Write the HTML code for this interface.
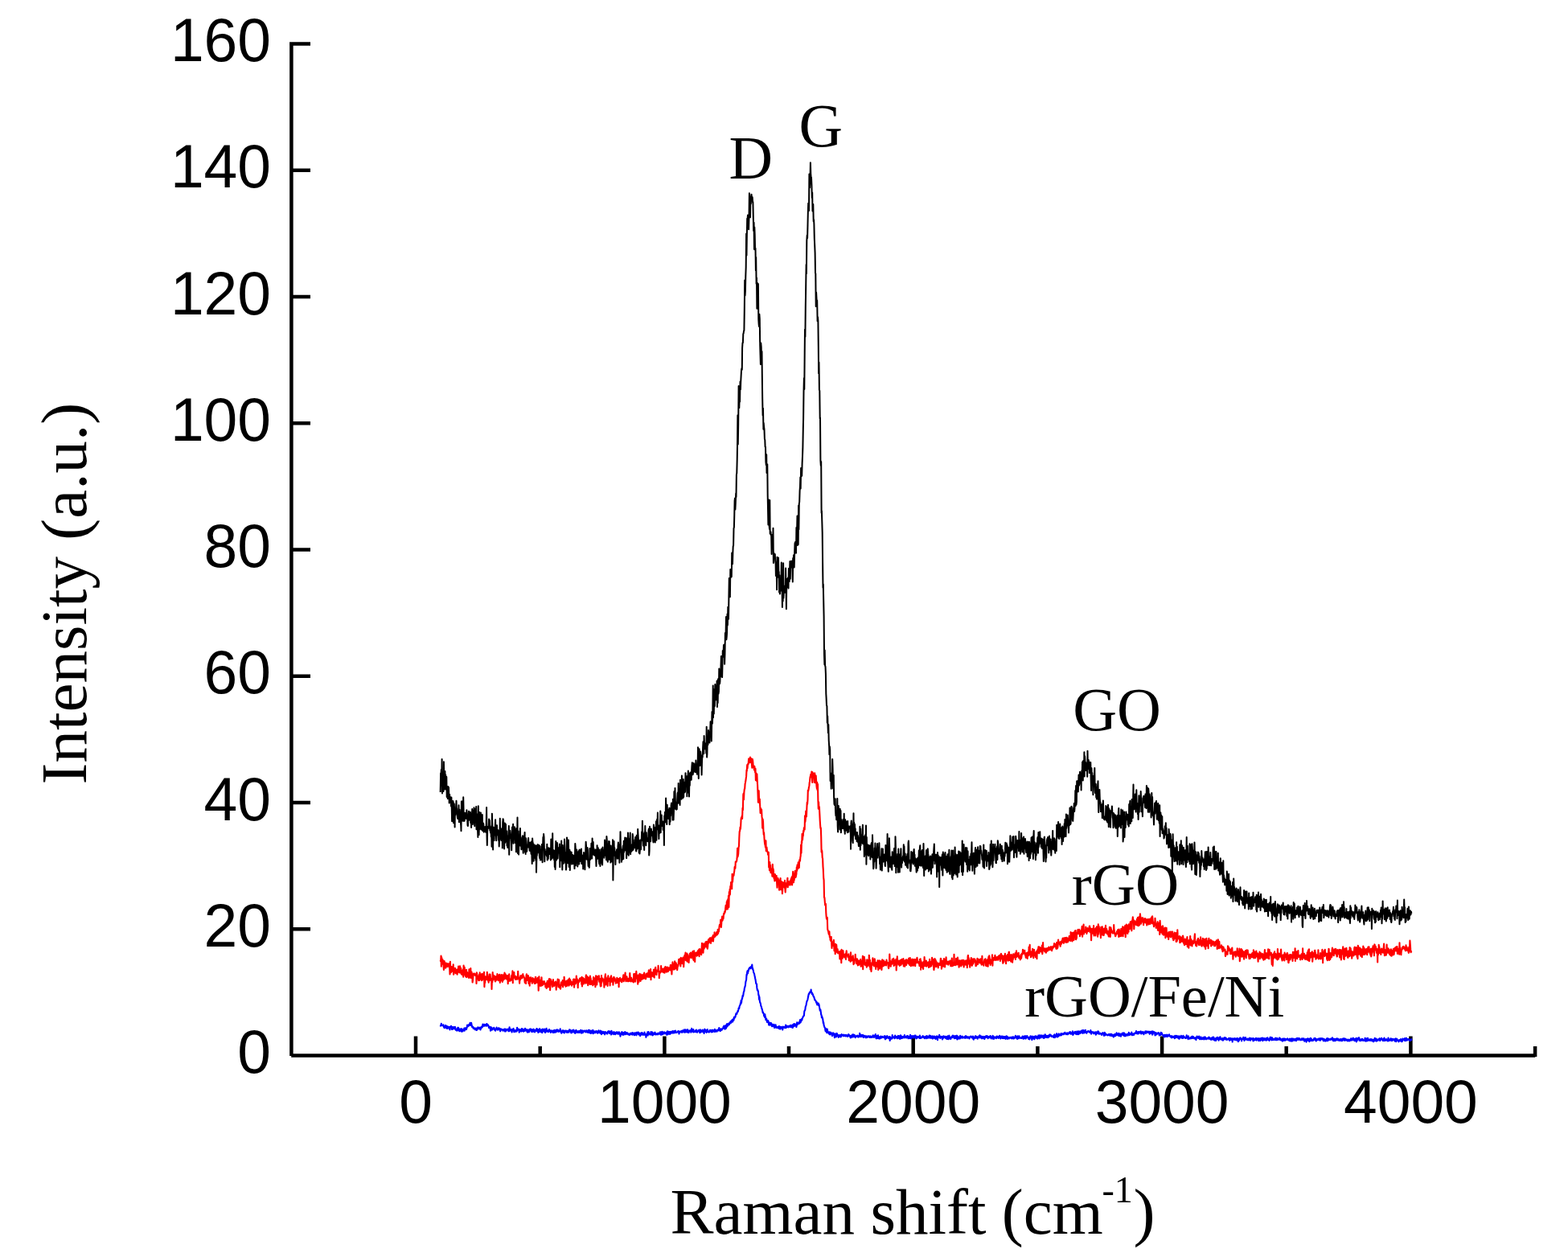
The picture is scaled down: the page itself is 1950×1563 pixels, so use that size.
<!DOCTYPE html>
<html lang="en"><head><meta charset="utf-8"><title>Raman spectra</title>
<style>html,body{margin:0;padding:0;background:#fff;overflow:hidden;}svg{display:block;}.t{font-family:"Liberation Sans",sans-serif;font-size:75px;fill:#000;}.s{font-family:"Liberation Serif",serif;fill:#000;}.c{fill:none;stroke-linejoin:round;stroke-linecap:butt;}.a{stroke:#000;fill:none;stroke-linecap:butt;}</style></head><body>
<svg width="1950" height="1563" viewBox="0 0 1950 1563" role="img" aria-label="Raman spectra of GO, rGO and rGO/Fe/Ni">
<rect width="1950" height="1563" fill="#fff"/>
<path class="a" stroke-width="4.5" d="M362.4,53.8V1312.9M362.2,1312.5H1909.3M362.4,1155.2H386.0M362.4,998.0H386.0M362.4,840.7H386.0M362.4,683.5H386.0M362.4,526.2H386.0M362.4,368.9H386.0M362.4,211.7H386.0M360.1,54.4H386.0M517.0,1312.5V1288.5M671.7,1312.5V1301.0M826.4,1312.5V1288.5M981.0,1312.5V1301.0M1135.7,1312.5V1288.5M1290.4,1312.5V1301.0M1445.1,1312.5V1288.5M1599.7,1312.5V1301.0M1754.4,1312.5V1288.5M1909.1,1314.0V1301.0"/>
<polyline class="c" stroke="#000" stroke-width="2.00" points="547.7,985.0 548.1,961.6 548.5,962.5 548.8,956.9 549.2,977.1 549.6,944.1 550.0,986.5 550.4,960.4 550.7,971.8 551.1,965.9 551.5,983.9 551.9,947.3 552.3,965.6 552.6,965.2 553.0,981.5 553.4,959.0 553.8,969.7 554.2,963.6 554.5,974.6 554.9,981.8 555.3,965.9 555.7,990.9 556.1,990.0 556.4,987.4 556.8,993.1 557.2,978.1 557.6,985.7 558.0,979.1 558.3,988.0 558.7,998.4 559.1,987.7 559.5,992.7 559.9,991.5 560.2,991.4 560.6,994.5 561.0,1002.4 561.4,991.5 561.8,1006.0 562.1,1021.2 562.5,1012.1 562.9,1002.7 563.3,995.9 563.7,997.6 564.0,1023.2 564.4,1006.5 564.8,999.6 565.2,1008.4 565.6,1028.4 565.9,1008.1 566.3,1013.4 566.7,1010.3 567.1,1003.8 567.5,995.8 567.8,1004.2 568.2,1005.8 568.6,1014.2 569.0,1017.0 569.4,1018.1 569.7,1011.6 570.1,1018.0 570.5,1001.3 570.9,1022.2 571.3,1014.8 571.6,1006.7 572.0,1015.0 572.4,1009.4 572.8,1022.0 573.2,1026.2 573.5,1033.2 573.9,996.6 574.3,996.3 574.7,1006.1 575.1,1013.2 575.4,1020.7 575.8,1015.1 576.2,991.3 576.6,1009.1 577.0,1020.9 577.3,1015.0 577.7,1020.6 578.1,1010.7 578.5,1011.1 578.9,1015.3 579.2,1017.7 579.6,1015.7 580.0,1015.1 580.4,1007.2 580.8,1018.1 581.1,1015.6 581.5,1026.1 581.9,1027.0 582.3,1016.8 582.7,1011.2 583.0,1008.7 583.4,1019.7 583.8,1016.3 584.2,1012.2 584.6,1016.3 584.9,1009.7 585.3,1023.3 585.7,1011.8 586.1,1029.0 586.5,1020.8 586.8,1022.9 587.2,1005.9 587.6,1018.9 588.0,1024.9 588.4,1007.9 588.7,1015.1 589.1,1018.3 589.5,1004.2 589.9,1021.6 590.3,1027.2 590.6,1010.0 591.0,1022.5 591.4,1005.8 591.8,1019.0 592.2,1003.1 592.5,1031.2 592.9,1024.2 593.3,1020.0 593.7,1012.6 594.1,1033.6 594.4,1040.9 594.8,1002.2 595.2,1033.9 595.6,1038.1 596.0,1025.2 596.3,1009.9 596.7,1031.0 597.1,1020.7 597.5,1016.6 597.9,1010.5 598.2,1028.9 598.6,1031.6 599.0,1017.5 599.4,1029.4 599.8,1012.9 600.1,1032.9 600.5,1025.6 600.9,1023.5 601.3,1024.7 601.7,1034.8 602.0,1033.9 602.4,1032.0 602.8,1028.3 603.2,1028.0 603.6,1033.7 603.9,1030.1 604.3,1034.9 604.7,1025.1 605.1,1003.9 605.5,1039.2 605.8,1050.9 606.2,1033.5 606.6,1028.2 607.0,1028.0 607.4,1028.3 607.7,1029.8 608.1,1018.5 608.5,1024.7 608.9,1020.0 609.3,1032.7 609.6,1027.3 610.0,1035.4 610.4,1028.7 610.8,1040.5 611.2,1032.9 611.5,1052.8 611.9,1011.8 612.3,1024.5 612.7,1040.2 613.1,1056.6 613.4,1028.8 613.8,1031.8 614.2,1029.2 614.6,1044.9 615.0,1028.8 615.3,1038.6 615.7,1028.7 616.1,1019.2 616.5,1035.2 616.9,1037.2 617.2,1045.2 617.6,1031.3 618.0,1026.3 618.4,1038.3 618.8,1035.2 619.1,1035.7 619.5,1032.3 619.9,1044.7 620.3,1037.0 620.7,1052.4 621.0,1044.7 621.4,1040.3 621.8,1017.7 622.2,1040.0 622.6,1038.4 622.9,1042.4 623.3,1044.9 623.7,1030.7 624.1,1043.0 624.5,1029.5 624.8,1054.5 625.2,1022.3 625.6,1018.2 626.0,1019.5 626.4,1027.2 626.7,1025.1 627.1,1055.5 627.5,1033.3 627.9,1023.5 628.3,1047.8 628.6,1031.3 629.0,1025.1 629.4,1045.9 629.8,1043.6 630.2,1033.5 630.5,1051.6 630.9,1039.3 631.3,1053.9 631.7,1043.2 632.1,1053.6 632.4,1039.7 632.8,1027.0 633.2,1062.7 633.6,1033.9 634.0,1037.4 634.3,1032.7 634.7,1037.6 635.1,1042.0 635.5,1041.8 635.9,1046.3 636.2,1057.3 636.6,1039.1 637.0,1028.6 637.4,1029.2 637.8,1034.3 638.1,1024.8 638.5,1048.8 638.9,1036.3 639.3,1038.2 639.7,1041.3 640.0,1028.2 640.4,1033.4 640.8,1048.1 641.2,1047.7 641.6,1037.8 641.9,1059.2 642.3,1029.9 642.7,1039.1 643.1,1040.4 643.5,1016.4 643.8,1061.1 644.2,1046.4 644.6,1033.4 645.0,1062.6 645.4,1049.0 645.7,1047.7 646.1,1038.2 646.5,1045.0 646.9,1030.0 647.3,1051.8 647.6,1041.1 648.0,1046.0 648.4,1056.2 648.8,1047.9 649.2,1047.9 649.5,1048.3 649.9,1039.2 650.3,1054.0 650.7,1060.8 651.1,1053.8 651.4,1055.3 651.8,1039.4 652.2,1039.8 652.6,1034.9 653.0,1059.7 653.3,1046.4 653.7,1061.9 654.1,1042.3 654.5,1045.8 654.9,1051.0 655.2,1058.8 655.6,1051.3 656.0,1053.0 656.4,1051.6 656.8,1053.4 657.1,1042.0 657.5,1053.2 657.9,1051.1 658.3,1052.5 658.7,1057.8 659.0,1047.5 659.4,1053.2 659.8,1051.5 660.2,1058.2 660.6,1061.8 660.9,1046.4 661.3,1060.5 661.7,1074.0 662.1,1042.4 662.5,1048.3 662.8,1048.0 663.2,1053.6 663.6,1070.8 664.0,1056.5 664.4,1050.3 664.7,1062.2 665.1,1051.4 665.5,1067.0 665.9,1059.8 666.3,1069.6 666.6,1051.3 667.0,1084.7 667.4,1064.9 667.8,1063.5 668.2,1057.3 668.5,1051.3 668.9,1050.1 669.3,1056.8 669.7,1051.0 670.1,1060.8 670.4,1050.9 670.8,1064.0 671.2,1067.1 671.6,1052.3 672.0,1069.4 672.3,1056.6 672.7,1069.3 673.1,1062.9 673.5,1069.1 673.9,1050.1 674.2,1058.2 674.6,1072.3 675.0,1053.8 675.4,1041.1 675.8,1042.0 676.1,1037.0 676.5,1040.6 676.9,1056.0 677.3,1071.3 677.7,1055.9 678.0,1062.8 678.4,1059.0 678.8,1060.1 679.2,1058.6 679.6,1058.6 679.9,1064.4 680.3,1049.7 680.7,1069.5 681.1,1068.7 681.5,1058.7 681.8,1067.8 682.2,1054.3 682.6,1055.8 683.0,1062.1 683.4,1059.0 683.7,1056.8 684.1,1054.8 684.5,1055.9 684.9,1069.4 685.3,1043.5 685.6,1064.2 686.0,1059.0 686.4,1067.7 686.8,1065.8 687.2,1036.2 687.5,1066.5 687.9,1064.2 688.3,1061.6 688.7,1057.2 689.1,1069.1 689.4,1057.8 689.8,1078.1 690.2,1066.7 690.6,1080.9 691.0,1054.6 691.3,1045.9 691.7,1068.2 692.1,1069.5 692.5,1062.2 692.9,1048.0 693.2,1057.9 693.6,1067.5 694.0,1060.4 694.4,1061.0 694.8,1060.5 695.1,1053.7 695.5,1057.4 695.9,1049.4 696.3,1078.2 696.7,1058.0 697.0,1066.7 697.4,1053.2 697.8,1069.6 698.2,1045.6 698.6,1070.8 698.9,1062.2 699.3,1081.6 699.7,1050.9 700.1,1063.4 700.5,1066.0 700.8,1073.8 701.2,1059.0 701.6,1063.6 702.0,1043.6 702.4,1055.4 702.7,1067.0 703.1,1072.9 703.5,1060.5 703.9,1081.6 704.3,1078.9 704.6,1062.6 705.0,1041.4 705.4,1047.2 705.8,1056.2 706.2,1073.3 706.5,1066.1 706.9,1044.5 707.3,1061.3 707.7,1077.9 708.1,1060.0 708.4,1056.7 708.8,1082.0 709.2,1064.0 709.6,1059.2 710.0,1066.7 710.3,1063.8 710.7,1059.8 711.1,1074.6 711.5,1073.8 711.9,1071.3 712.2,1062.9 712.6,1074.1 713.0,1063.4 713.4,1068.1 713.8,1073.2 714.1,1071.2 714.5,1080.1 714.9,1068.1 715.3,1048.9 715.7,1053.7 716.0,1076.3 716.4,1061.2 716.8,1067.7 717.2,1056.6 717.6,1073.3 717.9,1060.8 718.3,1077.5 718.7,1059.6 719.1,1074.5 719.5,1070.5 719.8,1057.9 720.2,1074.4 720.6,1056.4 721.0,1057.1 721.4,1071.0 721.7,1058.9 722.1,1059.2 722.5,1061.5 722.9,1055.6 723.3,1074.0 723.6,1070.1 724.0,1064.0 724.4,1063.6 724.8,1068.7 725.2,1080.5 725.5,1072.4 725.9,1060.0 726.3,1071.5 726.7,1063.4 727.1,1062.7 727.4,1081.2 727.8,1060.6 728.2,1060.0 728.6,1046.7 729.0,1051.6 729.3,1068.2 729.7,1057.8 730.1,1068.7 730.5,1053.9 730.9,1057.0 731.2,1069.9 731.6,1076.9 732.0,1069.0 732.4,1074.3 732.8,1078.8 733.1,1072.8 733.5,1055.0 733.9,1062.3 734.3,1068.8 734.7,1059.3 735.0,1067.0 735.4,1048.7 735.8,1055.3 736.2,1067.5 736.6,1042.5 736.9,1052.6 737.3,1062.3 737.7,1046.9 738.1,1062.8 738.5,1055.1 738.8,1059.6 739.2,1059.8 739.6,1063.8 740.0,1056.9 740.4,1062.8 740.7,1056.5 741.1,1066.8 741.5,1077.0 741.9,1063.5 742.3,1063.2 742.6,1051.2 743.0,1067.8 743.4,1054.7 743.8,1054.2 744.2,1066.5 744.5,1063.0 744.9,1071.3 745.3,1074.3 745.7,1056.4 746.1,1062.4 746.4,1077.0 746.8,1069.8 747.2,1067.5 747.6,1072.8 748.0,1055.5 748.3,1066.7 748.7,1073.6 749.1,1075.4 749.5,1053.5 749.9,1058.5 750.2,1064.2 750.6,1058.1 751.0,1057.1 751.4,1066.7 751.8,1057.3 752.1,1044.4 752.5,1063.7 752.9,1056.5 753.3,1053.7 753.7,1046.2 754.0,1069.3 754.4,1040.1 754.8,1044.8 755.2,1057.6 755.6,1071.0 755.9,1071.7 756.3,1049.5 756.7,1058.2 757.1,1046.1 757.5,1068.8 757.8,1046.3 758.2,1058.3 758.6,1068.8 759.0,1057.4 759.4,1072.6 759.7,1051.5 760.1,1062.6 760.5,1066.9 760.9,1057.9 761.3,1071.5 761.6,1063.9 762.0,1044.2 762.4,1094.5 762.8,1064.6 763.2,1059.7 763.5,1046.0 763.9,1059.3 764.3,1054.3 764.7,1064.2 765.1,1061.7 765.4,1074.9 765.8,1059.5 766.2,1062.7 766.6,1061.4 767.0,1056.6 767.3,1056.2 767.7,1067.7 768.1,1064.7 768.5,1051.9 768.9,1047.5 769.2,1056.8 769.6,1067.8 770.0,1057.0 770.4,1072.8 770.8,1050.0 771.1,1058.2 771.5,1034.2 771.9,1051.3 772.3,1053.8 772.7,1061.0 773.0,1071.7 773.4,1056.5 773.8,1069.1 774.2,1061.9 774.6,1064.6 774.9,1051.4 775.3,1067.9 775.7,1045.7 776.1,1059.6 776.5,1046.4 776.8,1050.2 777.2,1041.5 777.6,1049.9 778.0,1057.5 778.4,1053.6 778.7,1041.9 779.1,1067.1 779.5,1056.7 779.9,1062.6 780.3,1060.4 780.6,1047.2 781.0,1035.5 781.4,1044.6 781.8,1063.7 782.2,1043.0 782.5,1059.6 782.9,1046.6 783.3,1055.5 783.7,1035.4 784.1,1062.1 784.4,1051.1 784.8,1059.3 785.2,1052.8 785.6,1058.2 786.0,1049.9 786.3,1057.4 786.7,1036.9 787.1,1040.6 787.5,1056.7 787.9,1049.7 788.2,1047.9 788.6,1048.2 789.0,1054.2 789.4,1044.2 789.8,1054.0 790.1,1041.0 790.5,1045.4 790.9,1057.8 791.3,1058.5 791.7,1038.8 792.0,1056.1 792.4,1039.1 792.8,1054.9 793.2,1031.1 793.6,1038.0 793.9,1043.3 794.3,1046.2 794.7,1060.4 795.1,1055.6 795.5,1061.5 795.8,1058.0 796.2,1044.5 796.6,1044.5 797.0,1056.3 797.4,1046.9 797.7,1045.0 798.1,1034.2 798.5,1045.1 798.9,1020.8 799.3,1041.6 799.6,1036.7 800.0,1051.6 800.4,1040.9 800.8,1042.0 801.2,1056.9 801.5,1035.1 801.9,1047.2 802.3,1027.1 802.7,1044.8 803.1,1047.4 803.4,1051.2 803.8,1035.2 804.2,1045.9 804.6,1045.6 805.0,1042.4 805.3,1043.6 805.7,1046.2 806.1,1045.3 806.5,1032.5 806.9,1030.4 807.2,1063.5 807.6,1057.9 808.0,1027.8 808.4,1044.1 808.8,1045.4 809.1,1046.2 809.5,1040.4 809.9,1030.5 810.3,1036.9 810.7,1033.8 811.0,1039.1 811.4,1035.1 811.8,1036.0 812.2,1046.1 812.6,1047.6 812.9,1025.6 813.3,1031.7 813.7,1028.4 814.1,1046.2 814.5,1034.3 814.8,1047.5 815.2,1029.8 815.6,1033.9 816.0,1021.2 816.4,1044.7 816.7,1029.3 817.1,1018.8 817.5,1026.4 817.9,1010.6 818.3,1030.7 818.6,1031.5 819.0,1032.6 819.4,1043.1 819.8,1026.4 820.2,1035.9 820.5,1031.0 820.9,1025.9 821.3,1008.4 821.7,1035.2 822.1,1021.5 822.4,1025.7 822.8,1013.5 823.2,1027.1 823.6,1024.9 824.0,1023.7 824.3,1021.6 824.7,1031.9 825.1,1030.6 825.5,1027.8 825.9,1051.0 826.2,1014.6 826.6,1016.1 827.0,1009.7 827.4,1022.5 827.8,1011.6 828.1,992.5 828.5,1005.7 828.9,1017.0 829.3,1025.1 829.7,1000.8 830.0,1009.0 830.4,1012.9 830.8,1006.8 831.2,1018.0 831.6,1012.5 831.9,1014.9 832.3,1004.7 832.7,1025.2 833.1,1010.3 833.5,1021.8 833.8,1005.1 834.2,1014.1 834.6,1001.7 835.0,998.6 835.4,1000.3 835.7,1005.9 836.1,1003.7 836.5,1019.6 836.9,993.7 837.3,993.7 837.6,1019.4 838.0,1008.5 838.4,984.3 838.8,1006.2 839.2,1003.1 839.5,979.9 839.9,996.1 840.3,998.8 840.7,1005.3 841.1,1006.8 841.4,997.9 841.8,1006.2 842.2,994.3 842.6,986.8 843.0,985.3 843.3,998.8 843.7,974.1 844.1,998.6 844.5,980.8 844.9,987.2 845.2,994.8 845.6,1000.9 846.0,969.7 846.4,979.9 846.8,987.4 847.1,980.5 847.5,993.8 847.9,964.5 848.3,987.5 848.7,987.3 849.0,982.9 849.4,992.4 849.8,969.0 850.2,991.0 850.6,972.6 850.9,985.8 851.3,974.7 851.7,985.1 852.1,984.1 852.5,961.3 852.8,973.4 853.2,973.3 853.6,971.1 854.0,965.2 854.4,990.2 854.7,973.3 855.1,985.8 855.5,964.1 855.9,958.4 856.3,969.5 856.6,961.8 857.0,990.4 857.4,968.3 857.8,976.6 858.2,962.2 858.5,960.4 858.9,962.6 859.3,965.7 859.7,969.8 860.1,959.4 860.4,953.0 860.8,948.3 861.2,957.5 861.6,963.3 862.0,961.4 862.3,955.8 862.7,949.1 863.1,956.0 863.5,959.6 863.9,952.6 864.2,953.4 864.6,949.9 865.0,960.2 865.4,945.4 865.8,951.1 866.1,952.6 866.5,955.4 866.9,962.8 867.3,953.4 867.7,952.0 868.0,929.3 868.4,950.7 868.8,968.1 869.2,934.0 869.6,931.3 869.9,939.3 870.3,952.0 870.7,945.9 871.1,934.4 871.5,938.5 871.8,949.6 872.2,944.9 872.6,963.6 873.0,947.2 873.4,939.3 873.7,941.5 874.1,930.1 874.5,922.3 874.9,934.4 875.3,937.2 875.6,915.1 876.0,924.1 876.4,925.0 876.8,931.3 877.2,924.4 877.5,931.5 877.9,926.6 878.3,936.7 878.7,903.8 879.1,941.6 879.4,937.8 879.8,920.8 880.2,926.6 880.6,924.9 881.0,908.0 881.3,917.2 881.7,923.1 882.1,916.2 882.5,923.5 882.9,910.7 883.2,909.0 883.6,897.3 884.0,900.4 884.4,897.5 884.8,921.6 885.1,902.2 885.5,885.1 885.9,899.6 886.3,889.8 886.7,852.5 887.0,892.3 887.4,864.7 887.8,887.5 888.2,865.9 888.6,856.9 888.9,878.0 889.3,851.1 889.7,861.5 890.1,867.3 890.5,870.3 890.8,869.9 891.2,858.4 891.6,846.7 892.0,878.9 892.4,845.9 892.7,874.0 893.1,844.3 893.5,862.6 893.9,859.8 894.3,831.6 894.6,847.3 895.0,850.4 895.4,847.8 895.8,834.6 896.2,838.8 896.5,828.0 896.9,816.1 897.3,841.2 897.7,819.7 898.1,842.1 898.4,830.1 898.8,808.9 899.2,815.9 899.6,811.9 900.0,801.9 900.3,816.8 900.7,801.6 901.1,825.7 901.5,812.8 901.9,787.1 902.2,794.7 902.6,788.3 903.0,767.1 903.4,795.2 903.8,791.2 904.1,786.4 904.5,763.4 904.9,777.4 905.3,754.8 905.7,763.7 906.0,769.7 906.4,743.3 906.8,718.9 907.2,729.5 907.6,738.3 907.9,742.3 908.3,708.1 908.7,716.5 909.1,717.8 909.5,715.7 909.8,717.0 910.2,687.5 910.6,688.7 911.0,701.2 911.4,686.6 911.7,679.1 912.1,678.6 912.5,656.8 912.9,655.9 913.3,640.0 913.6,622.6 914.0,619.5 914.4,633.4 914.8,625.3 915.2,613.6 915.5,618.1 915.9,589.9 916.3,588.2 916.7,571.7 917.1,548.1 917.4,516.2 917.8,552.6 918.2,526.9 918.6,480.0 919.0,502.3 919.3,507.1 919.7,493.8 920.1,499.4 920.5,474.4 920.9,484.3 921.2,475.8 921.6,467.7 922.0,460.2 922.4,458.1 922.8,459.7 923.1,432.7 923.5,426.4 923.9,426.1 924.3,415.0 924.7,414.4 925.0,411.4 925.4,411.3 925.8,385.1 926.2,348.5 926.6,367.5 926.9,362.2 927.3,343.5 927.7,332.0 928.1,290.6 928.5,317.5 928.8,296.3 929.2,271.8 929.6,272.8 930.0,267.4 930.4,281.6 930.7,276.7 931.1,285.2 931.5,270.5 931.9,240.3 932.3,244.8 932.6,267.5 933.0,270.3 933.4,244.5 933.8,253.5 934.2,246.3 934.5,241.7 934.9,245.1 935.3,245.1 935.7,245.2 936.1,251.6 936.4,251.1 936.8,270.6 937.2,287.0 937.6,276.7 938.0,310.1 938.3,282.6 938.7,291.5 939.1,310.8 939.5,308.7 939.9,336.2 940.2,319.9 940.6,352.8 941.0,345.5 941.4,383.7 941.8,351.8 942.1,362.8 942.5,375.2 942.9,353.1 943.3,397.3 943.7,403.6 944.0,406.0 944.4,390.8 944.8,396.5 945.2,429.4 945.6,442.2 945.9,453.0 946.3,426.5 946.7,431.4 947.1,449.3 947.5,437.1 947.8,466.0 948.2,495.9 948.6,516.4 949.0,507.7 949.4,533.8 949.7,525.9 950.1,530.8 950.5,533.7 950.9,545.7 951.3,547.1 951.6,555.6 952.0,555.7 952.4,574.5 952.8,578.1 953.2,565.3 953.5,588.1 953.9,586.5 954.3,577.3 954.7,616.3 955.1,636.2 955.4,652.4 955.8,647.5 956.2,621.4 956.6,653.4 957.0,657.8 957.3,622.1 957.7,663.4 958.1,664.1 958.5,661.3 958.9,666.0 959.2,665.9 959.6,689.0 960.0,665.1 960.4,670.1 960.8,675.2 961.1,680.9 961.5,656.7 961.9,700.0 962.3,687.2 962.7,694.0 963.0,691.6 963.4,689.0 963.8,689.2 964.2,697.5 964.6,700.5 964.9,715.9 965.3,707.6 965.7,703.5 966.1,733.2 966.5,692.7 966.8,693.8 967.2,717.7 967.6,712.1 968.0,693.6 968.4,714.4 968.7,711.0 969.1,736.5 969.5,715.3 969.9,738.5 970.3,732.0 970.6,724.5 971.0,728.3 971.4,734.4 971.8,699.6 972.2,734.6 972.5,726.1 972.9,755.1 973.3,723.2 973.7,747.5 974.1,700.2 974.4,743.6 974.8,736.5 975.2,729.5 975.6,730.7 976.0,728.4 976.3,736.7 976.7,728.8 977.1,706.6 977.5,726.6 977.9,757.3 978.2,728.1 978.6,730.3 979.0,719.8 979.4,726.5 979.8,725.3 980.1,718.3 980.5,731.6 980.9,707.0 981.3,716.0 981.7,723.0 982.0,711.7 982.4,698.0 982.8,719.8 983.2,698.5 983.6,704.0 983.9,697.7 984.3,705.5 984.7,699.8 985.1,697.6 985.5,711.0 985.8,723.4 986.2,694.0 986.6,703.6 987.0,690.3 987.4,694.2 987.7,705.5 988.1,689.3 988.5,675.8 988.9,674.6 989.3,673.7 989.6,679.0 990.0,687.7 990.4,656.1 990.8,657.4 991.2,655.7 991.5,641.6 991.9,678.0 992.3,656.3 992.7,676.9 993.1,628.5 993.4,658.3 993.8,626.4 994.2,624.1 994.6,610.3 995.0,604.5 995.3,593.5 995.7,607.5 996.1,582.0 996.5,590.9 996.9,589.0 997.2,591.7 997.6,576.2 998.0,567.5 998.4,555.9 998.8,533.0 999.1,521.0 999.5,486.4 999.9,470.2 1000.3,484.1 1000.7,438.3 1001.0,409.8 1001.4,418.7 1001.8,380.9 1002.2,357.1 1002.6,329.0 1002.9,340.3 1003.3,299.5 1003.7,292.6 1004.1,296.1 1004.5,279.4 1004.8,265.4 1005.2,252.7 1005.6,258.9 1006.0,262.0 1006.4,216.5 1006.7,221.6 1007.1,233.3 1007.5,224.2 1007.9,202.3 1008.3,217.2 1008.6,220.0 1009.0,220.8 1009.4,229.5 1009.8,245.9 1010.2,239.4 1010.5,262.5 1010.9,256.7 1011.3,254.0 1011.7,275.3 1012.1,273.2 1012.4,278.8 1012.8,296.6 1013.2,305.0 1013.6,314.2 1014.0,340.0 1014.3,340.1 1014.7,380.9 1015.1,363.5 1015.5,370.8 1015.9,380.4 1016.2,373.6 1016.6,399.3 1017.0,394.2 1017.4,398.9 1017.8,430.8 1018.1,464.2 1018.5,450.4 1018.9,485.1 1019.3,485.8 1019.7,520.6 1020.0,519.5 1020.4,572.9 1020.8,578.9 1021.2,574.1 1021.6,637.7 1021.9,635.2 1022.3,648.3 1022.7,662.0 1023.1,699.9 1023.5,730.7 1023.8,726.6 1024.2,746.7 1024.6,766.1 1025.0,813.7 1025.4,826.1 1025.7,808.4 1026.1,827.7 1026.5,828.9 1026.9,837.8 1027.3,862.7 1027.6,867.9 1028.0,877.4 1028.4,877.7 1028.8,898.7 1029.2,890.5 1029.5,901.4 1029.9,911.3 1030.3,901.0 1030.7,920.5 1031.1,927.0 1031.4,938.1 1031.8,928.2 1032.2,932.1 1032.6,971.0 1033.0,968.0 1033.3,967.2 1033.7,980.8 1034.1,965.6 1034.5,961.3 1034.9,970.2 1035.2,944.0 1035.6,955.8 1036.0,980.5 1036.4,975.2 1036.8,964.0 1037.1,991.1 1037.5,999.9 1037.9,1001.0 1038.3,997.8 1038.7,993.2 1039.0,1007.7 1039.4,1014.3 1039.8,1007.7 1040.2,1019.3 1040.6,1016.9 1040.9,1017.8 1041.3,993.1 1041.7,1027.1 1042.1,1034.5 1042.5,1012.6 1042.8,1001.9 1043.2,1024.5 1043.6,1013.6 1044.0,1009.0 1044.4,1031.6 1044.7,1005.8 1045.1,1027.3 1045.5,1008.1 1045.9,1035.2 1046.3,1026.2 1046.6,1019.0 1047.0,1023.2 1047.4,1027.6 1047.8,1030.2 1048.2,1030.3 1048.5,1027.9 1048.9,1018.7 1049.3,1029.4 1049.7,1011.7 1050.1,1032.8 1050.4,1031.9 1050.8,1036.8 1051.2,1019.2 1051.6,1026.4 1052.0,1032.7 1052.3,1028.1 1052.7,1021.6 1053.1,1028.5 1053.5,1026.6 1053.9,1035.3 1054.2,1021.0 1054.6,1030.0 1055.0,1029.9 1055.4,1034.5 1055.8,1027.4 1056.1,1029.6 1056.5,1028.2 1056.9,1029.5 1057.3,1029.6 1057.7,1027.0 1058.0,1055.8 1058.4,1023.1 1058.8,1020.5 1059.2,1024.3 1059.6,1025.4 1059.9,1032.3 1060.3,1045.5 1060.7,1048.1 1061.1,1035.5 1061.5,1011.3 1061.8,1037.6 1062.2,1022.7 1062.6,1030.3 1063.0,1024.9 1063.4,1039.4 1063.7,1030.3 1064.1,1043.3 1064.5,1041.0 1064.9,1035.0 1065.3,1038.2 1065.6,1046.1 1066.0,1034.9 1066.4,1046.8 1066.8,1038.8 1067.2,1041.8 1067.5,1046.9 1067.9,1052.1 1068.3,1045.2 1068.7,1041.4 1069.1,1047.7 1069.4,1027.8 1069.8,1056.7 1070.2,1030.5 1070.6,1050.9 1071.0,1038.1 1071.3,1048.1 1071.7,1042.9 1072.1,1047.1 1072.5,1037.6 1072.9,1025.8 1073.2,1049.2 1073.6,1040.6 1074.0,1040.6 1074.4,1040.4 1074.8,1065.1 1075.1,1042.5 1075.5,1051.1 1075.9,1038.2 1076.3,1062.7 1076.7,1044.5 1077.0,1026.6 1077.4,1074.7 1077.8,1040.9 1078.2,1063.0 1078.6,1058.2 1078.9,1057.9 1079.3,1050.4 1079.7,1054.6 1080.1,1064.3 1080.5,1051.0 1080.8,1056.3 1081.2,1062.8 1081.6,1055.6 1082.0,1051.4 1082.4,1068.6 1082.7,1059.0 1083.1,1055.1 1083.5,1049.6 1083.9,1047.9 1084.3,1065.2 1084.6,1066.0 1085.0,1038.3 1085.4,1052.5 1085.8,1066.9 1086.2,1080.2 1086.5,1078.0 1086.9,1067.4 1087.3,1071.4 1087.7,1054.6 1088.1,1066.5 1088.4,1048.6 1088.8,1054.9 1089.2,1063.0 1089.6,1079.7 1090.0,1067.2 1090.3,1063.1 1090.7,1059.3 1091.1,1049.1 1091.5,1066.6 1091.9,1058.2 1092.2,1063.6 1092.6,1053.7 1093.0,1062.9 1093.4,1048.2 1093.8,1066.6 1094.1,1074.1 1094.5,1070.6 1094.9,1081.5 1095.3,1065.6 1095.7,1067.3 1096.0,1067.6 1096.4,1055.2 1096.8,1082.5 1097.2,1072.2 1097.6,1061.3 1097.9,1055.5 1098.3,1068.9 1098.7,1071.5 1099.1,1065.2 1099.5,1065.7 1099.8,1062.5 1100.2,1064.2 1100.6,1076.3 1101.0,1077.0 1101.4,1051.1 1101.7,1065.9 1102.1,1054.0 1102.5,1052.9 1102.9,1070.2 1103.3,1057.5 1103.6,1036.9 1104.0,1071.0 1104.4,1076.8 1104.8,1083.7 1105.2,1062.0 1105.5,1078.6 1105.9,1042.2 1106.3,1056.4 1106.7,1070.5 1107.1,1070.2 1107.4,1077.9 1107.8,1074.7 1108.2,1065.5 1108.6,1080.0 1109.0,1072.5 1109.3,1081.8 1109.7,1059.3 1110.1,1069.3 1110.5,1062.8 1110.9,1074.0 1111.2,1064.8 1111.6,1064.6 1112.0,1055.1 1112.4,1069.8 1112.8,1077.1 1113.1,1076.2 1113.5,1040.2 1113.9,1052.8 1114.3,1085.3 1114.7,1065.7 1115.0,1066.1 1115.4,1077.9 1115.8,1069.3 1116.2,1061.9 1116.6,1065.8 1116.9,1084.7 1117.3,1055.4 1117.7,1079.5 1118.1,1065.1 1118.5,1065.5 1118.8,1084.6 1119.2,1062.2 1119.6,1075.5 1120.0,1064.8 1120.4,1055.3 1120.7,1066.7 1121.1,1078.6 1121.5,1066.6 1121.9,1073.2 1122.3,1070.0 1122.6,1068.8 1123.0,1064.6 1123.4,1069.6 1123.8,1050.2 1124.2,1064.5 1124.5,1052.4 1124.9,1071.0 1125.3,1071.7 1125.7,1061.5 1126.1,1075.8 1126.4,1072.2 1126.8,1071.3 1127.2,1065.5 1127.6,1073.0 1128.0,1078.2 1128.3,1062.9 1128.7,1061.6 1129.1,1079.5 1129.5,1048.2 1129.9,1045.6 1130.2,1052.8 1130.6,1070.7 1131.0,1070.4 1131.4,1073.5 1131.8,1069.8 1132.1,1082.9 1132.5,1083.3 1132.9,1079.6 1133.3,1059.0 1133.7,1072.6 1134.0,1061.6 1134.4,1064.9 1134.8,1060.3 1135.2,1069.6 1135.6,1074.4 1135.9,1070.3 1136.3,1058.9 1136.7,1056.0 1137.1,1062.9 1137.5,1062.8 1137.8,1076.8 1138.2,1067.0 1138.6,1068.2 1139.0,1068.5 1139.4,1079.7 1139.7,1084.6 1140.1,1073.8 1140.5,1067.8 1140.9,1082.6 1141.3,1074.0 1141.6,1066.4 1142.0,1079.2 1142.4,1072.1 1142.8,1057.5 1143.2,1075.9 1143.5,1073.1 1143.9,1053.8 1144.3,1051.2 1144.7,1071.7 1145.1,1076.6 1145.4,1076.0 1145.8,1058.5 1146.2,1067.5 1146.6,1076.6 1147.0,1057.0 1147.3,1071.5 1147.7,1072.7 1148.1,1079.1 1148.5,1049.0 1148.9,1072.2 1149.2,1089.0 1149.6,1065.5 1150.0,1068.2 1150.4,1079.6 1150.8,1064.3 1151.1,1081.5 1151.5,1076.1 1151.9,1057.2 1152.3,1072.2 1152.7,1058.4 1153.0,1079.9 1153.4,1056.5 1153.8,1055.4 1154.2,1061.4 1154.6,1064.5 1154.9,1083.4 1155.3,1071.6 1155.7,1074.4 1156.1,1081.4 1156.5,1065.6 1156.8,1066.7 1157.2,1064.4 1157.6,1079.0 1158.0,1086.6 1158.4,1074.4 1158.7,1066.5 1159.1,1067.5 1159.5,1062.2 1159.9,1078.7 1160.3,1062.7 1160.6,1070.0 1161.0,1061.8 1161.4,1055.3 1161.8,1049.6 1162.2,1064.4 1162.5,1074.2 1162.9,1069.5 1163.3,1070.3 1163.7,1062.7 1164.1,1064.0 1164.4,1062.8 1164.8,1074.2 1165.2,1090.6 1165.6,1071.1 1166.0,1060.1 1166.3,1083.6 1166.7,1063.4 1167.1,1077.3 1167.5,1068.4 1167.9,1073.0 1168.2,1102.9 1168.6,1065.6 1169.0,1067.1 1169.4,1075.6 1169.8,1072.1 1170.1,1068.7 1170.5,1066.2 1170.9,1077.6 1171.3,1081.9 1171.7,1063.8 1172.0,1062.2 1172.4,1088.6 1172.8,1059.6 1173.2,1078.7 1173.6,1076.2 1173.9,1062.5 1174.3,1079.1 1174.7,1062.5 1175.1,1062.6 1175.5,1059.9 1175.8,1079.7 1176.2,1068.3 1176.6,1082.0 1177.0,1065.1 1177.4,1077.8 1177.7,1084.8 1178.1,1071.5 1178.5,1062.3 1178.9,1069.2 1179.3,1083.5 1179.6,1078.9 1180.0,1068.8 1180.4,1056.7 1180.8,1078.6 1181.2,1086.8 1181.5,1086.9 1181.9,1076.0 1182.3,1070.5 1182.7,1065.1 1183.1,1067.0 1183.4,1057.4 1183.8,1091.0 1184.2,1071.8 1184.6,1093.2 1185.0,1071.3 1185.3,1057.5 1185.7,1088.4 1186.1,1064.2 1186.5,1067.9 1186.9,1086.4 1187.2,1084.7 1187.6,1053.6 1188.0,1071.6 1188.4,1061.8 1188.8,1076.3 1189.1,1087.6 1189.5,1066.8 1189.9,1084.6 1190.3,1063.0 1190.7,1090.6 1191.0,1063.8 1191.4,1067.0 1191.8,1073.7 1192.2,1058.6 1192.6,1084.8 1192.9,1061.4 1193.3,1076.3 1193.7,1059.3 1194.1,1071.7 1194.5,1070.6 1194.8,1067.2 1195.2,1075.0 1195.6,1060.6 1196.0,1084.0 1196.4,1072.2 1196.7,1045.5 1197.1,1088.1 1197.5,1074.3 1197.9,1084.0 1198.3,1068.5 1198.6,1049.9 1199.0,1066.2 1199.4,1059.0 1199.8,1069.5 1200.2,1065.4 1200.5,1071.5 1200.9,1053.9 1201.3,1070.0 1201.7,1065.3 1202.1,1075.0 1202.4,1054.2 1202.8,1065.4 1203.2,1083.8 1203.6,1058.5 1204.0,1075.5 1204.3,1080.7 1204.7,1068.7 1205.1,1077.5 1205.5,1077.8 1205.9,1082.4 1206.2,1065.1 1206.6,1067.3 1207.0,1075.4 1207.4,1061.5 1207.8,1068.5 1208.1,1061.7 1208.5,1047.2 1208.9,1070.7 1209.3,1082.8 1209.7,1064.3 1210.0,1068.2 1210.4,1063.4 1210.8,1060.7 1211.2,1068.4 1211.6,1076.6 1211.9,1086.6 1212.3,1074.2 1212.7,1058.2 1213.1,1053.9 1213.5,1078.1 1213.8,1069.2 1214.2,1060.8 1214.6,1056.7 1215.0,1058.8 1215.4,1076.8 1215.7,1065.5 1216.1,1053.2 1216.5,1073.2 1216.9,1068.1 1217.3,1062.6 1217.6,1070.5 1218.0,1057.6 1218.4,1073.4 1218.8,1052.1 1219.2,1056.6 1219.5,1052.2 1219.9,1060.6 1220.3,1057.5 1220.7,1060.9 1221.1,1064.0 1221.4,1068.8 1221.8,1065.0 1222.2,1065.9 1222.6,1077.8 1223.0,1061.1 1223.3,1050.4 1223.7,1071.7 1224.1,1079.4 1224.5,1064.7 1224.9,1070.4 1225.2,1057.0 1225.6,1064.4 1226.0,1068.3 1226.4,1066.0 1226.8,1057.7 1227.1,1076.9 1227.5,1063.9 1227.9,1070.5 1228.3,1065.8 1228.7,1069.9 1229.0,1070.4 1229.4,1060.1 1229.8,1069.3 1230.2,1081.0 1230.6,1079.5 1230.9,1068.5 1231.3,1076.6 1231.7,1050.0 1232.1,1074.6 1232.5,1062.1 1232.8,1045.6 1233.2,1062.8 1233.6,1069.9 1234.0,1055.0 1234.4,1078.3 1234.7,1073.0 1235.1,1049.7 1235.5,1069.9 1235.9,1061.9 1236.3,1055.9 1236.6,1057.9 1237.0,1056.7 1237.4,1049.8 1237.8,1056.5 1238.2,1066.5 1238.5,1073.0 1238.9,1073.2 1239.3,1055.1 1239.7,1059.0 1240.1,1052.4 1240.4,1069.0 1240.8,1045.2 1241.2,1047.6 1241.6,1054.0 1242.0,1061.7 1242.3,1056.6 1242.7,1059.6 1243.1,1059.6 1243.5,1061.1 1243.9,1049.8 1244.2,1055.8 1244.6,1063.9 1245.0,1061.1 1245.4,1068.2 1245.8,1051.8 1246.1,1066.3 1246.5,1071.1 1246.9,1056.8 1247.3,1060.3 1247.7,1059.8 1248.0,1062.4 1248.4,1061.0 1248.8,1070.4 1249.2,1061.8 1249.6,1064.8 1249.9,1060.0 1250.3,1047.7 1250.7,1060.6 1251.1,1054.7 1251.5,1050.9 1251.8,1048.5 1252.2,1055.7 1252.6,1050.8 1253.0,1074.2 1253.4,1070.1 1253.7,1053.5 1254.1,1062.0 1254.5,1065.9 1254.9,1054.0 1255.3,1071.8 1255.6,1063.5 1256.0,1054.3 1256.4,1039.2 1256.8,1046.4 1257.2,1057.7 1257.5,1050.9 1257.9,1054.5 1258.3,1047.5 1258.7,1056.6 1259.1,1050.2 1259.4,1040.4 1259.8,1051.0 1260.2,1048.8 1260.6,1040.0 1261.0,1066.2 1261.3,1052.8 1261.7,1050.5 1262.1,1059.9 1262.5,1052.4 1262.9,1059.8 1263.2,1039.8 1263.6,1043.6 1264.0,1057.5 1264.4,1065.7 1264.8,1052.7 1265.1,1054.2 1265.5,1045.0 1265.9,1051.9 1266.3,1045.8 1266.7,1050.6 1267.0,1058.3 1267.4,1034.1 1267.8,1053.6 1268.2,1044.6 1268.6,1045.9 1268.9,1061.7 1269.3,1054.2 1269.7,1059.8 1270.1,1035.9 1270.5,1047.9 1270.8,1047.5 1271.2,1046.3 1271.6,1055.4 1272.0,1059.4 1272.4,1041.7 1272.7,1043.0 1273.1,1040.5 1273.5,1061.7 1273.9,1047.0 1274.3,1050.7 1274.6,1048.7 1275.0,1043.1 1275.4,1055.0 1275.8,1055.1 1276.2,1060.0 1276.5,1049.8 1276.9,1049.2 1277.3,1046.6 1277.7,1065.0 1278.1,1060.8 1278.4,1051.5 1278.8,1057.7 1279.2,1046.8 1279.6,1070.1 1280.0,1046.8 1280.3,1048.7 1280.7,1048.8 1281.1,1067.1 1281.5,1053.4 1281.9,1061.7 1282.2,1051.2 1282.6,1041.5 1283.0,1059.1 1283.4,1046.7 1283.8,1040.6 1284.1,1048.6 1284.5,1057.9 1284.9,1067.9 1285.3,1040.0 1285.7,1032.9 1286.0,1060.5 1286.4,1054.9 1286.8,1047.3 1287.2,1056.0 1287.6,1058.7 1287.9,1069.2 1288.3,1051.1 1288.7,1063.6 1289.1,1048.3 1289.5,1047.8 1289.8,1056.0 1290.2,1042.5 1290.6,1040.8 1291.0,1060.8 1291.4,1035.0 1291.7,1053.3 1292.1,1049.4 1292.5,1049.0 1292.9,1040.5 1293.3,1034.3 1293.6,1046.5 1294.0,1042.0 1294.4,1048.5 1294.8,1053.1 1295.2,1045.8 1295.5,1042.8 1295.9,1054.9 1296.3,1045.6 1296.7,1043.8 1297.1,1049.7 1297.4,1054.8 1297.8,1070.9 1298.2,1066.5 1298.6,1041.2 1299.0,1040.6 1299.3,1052.9 1299.7,1057.2 1300.1,1051.1 1300.5,1071.5 1300.9,1062.7 1301.2,1066.8 1301.6,1048.6 1302.0,1044.4 1302.4,1042.8 1302.8,1051.2 1303.1,1041.1 1303.5,1046.6 1303.9,1048.3 1304.3,1060.4 1304.7,1047.8 1305.0,1039.5 1305.4,1047.9 1305.8,1053.4 1306.2,1056.6 1306.6,1043.5 1306.9,1057.2 1307.3,1063.6 1307.7,1055.6 1308.1,1053.3 1308.5,1047.1 1308.8,1045.5 1309.2,1032.9 1309.6,1056.0 1310.0,1047.2 1310.4,1051.4 1310.7,1054.1 1311.1,1042.3 1311.5,1057.7 1311.9,1049.2 1312.3,1060.8 1312.6,1048.5 1313.0,1049.2 1313.4,1043.3 1313.8,1058.1 1314.2,1025.8 1314.5,1039.0 1314.9,1040.4 1315.3,1028.9 1315.7,1034.8 1316.1,1022.1 1316.4,1042.3 1316.8,1027.7 1317.2,1042.9 1317.6,1036.8 1318.0,1031.4 1318.3,1024.6 1318.7,1031.8 1319.1,1040.2 1319.5,1035.9 1319.9,1042.5 1320.2,1029.3 1320.6,1049.9 1321.0,1033.3 1321.4,1027.5 1321.8,1046.1 1322.1,1046.0 1322.5,1032.8 1322.9,1028.9 1323.3,1040.7 1323.7,1024.3 1324.0,1039.9 1324.4,1018.9 1324.8,1029.8 1325.2,1030.0 1325.6,1039.9 1325.9,1012.5 1326.3,1030.0 1326.7,1026.1 1327.1,1026.5 1327.5,1017.9 1327.8,1013.5 1328.2,1020.1 1328.6,1021.2 1329.0,1035.4 1329.4,1022.6 1329.7,1020.7 1330.1,1025.9 1330.5,1004.6 1330.9,1024.2 1331.3,1024.9 1331.6,1023.9 1332.0,1011.8 1332.4,1002.7 1332.8,1003.8 1333.2,1013.6 1333.5,1014.8 1333.9,1020.1 1334.3,1020.9 1334.7,1013.6 1335.1,1004.5 1335.4,1005.0 1335.8,998.9 1336.2,1008.9 1336.6,1003.1 1337.0,998.0 1337.3,983.0 1337.7,1002.1 1338.1,977.0 1338.5,1000.4 1338.9,996.4 1339.2,971.3 1339.6,983.7 1340.0,971.2 1340.4,979.6 1340.8,984.4 1341.1,976.5 1341.5,963.6 1341.9,976.8 1342.3,975.1 1342.7,970.8 1343.0,959.7 1343.4,964.5 1343.8,968.6 1344.2,963.1 1344.6,982.6 1344.9,963.9 1345.3,958.3 1345.7,963.4 1346.1,947.5 1346.5,960.5 1346.8,970.4 1347.2,945.9 1347.6,955.7 1348.0,959.0 1348.4,935.3 1348.7,965.6 1349.1,940.3 1349.5,946.9 1349.9,953.7 1350.3,948.1 1350.6,958.0 1351.0,952.3 1351.4,956.5 1351.8,952.3 1352.2,965.7 1352.5,933.7 1352.9,956.3 1353.3,950.6 1353.7,944.9 1354.1,946.9 1354.4,949.7 1354.8,961.1 1355.2,948.1 1355.6,955.6 1356.0,960.5 1356.3,948.0 1356.7,969.9 1357.1,983.0 1357.5,955.2 1357.9,971.1 1358.2,960.9 1358.6,970.0 1359.0,964.7 1359.4,988.3 1359.8,966.2 1360.1,978.1 1360.5,977.8 1360.9,963.6 1361.3,955.1 1361.7,982.1 1362.0,986.0 1362.4,974.6 1362.8,975.1 1363.2,991.4 1363.6,991.5 1363.9,993.6 1364.3,988.4 1364.7,979.9 1365.1,977.1 1365.5,971.2 1365.8,990.5 1366.2,1010.1 1366.6,998.0 1367.0,994.0 1367.4,981.9 1367.7,991.0 1368.1,998.4 1368.5,997.5 1368.9,1009.1 1369.3,1000.2 1369.6,1009.2 1370.0,1002.6 1370.4,1002.8 1370.8,1017.1 1371.2,999.2 1371.5,1004.2 1371.9,995.5 1372.3,1008.9 1372.7,1018.4 1373.1,1015.2 1373.4,1016.1 1373.8,1019.5 1374.2,1015.9 1374.6,1017.5 1375.0,1014.5 1375.3,1002.0 1375.7,1016.3 1376.1,1020.5 1376.5,1003.6 1376.9,1014.4 1377.2,1022.5 1377.6,1009.2 1378.0,1000.7 1378.4,1013.8 1378.8,1028.3 1379.1,1005.2 1379.5,1013.0 1379.9,1007.2 1380.3,1011.1 1380.7,1016.9 1381.0,1028.8 1381.4,1008.7 1381.8,1009.1 1382.2,1007.9 1382.6,1006.2 1382.9,1002.4 1383.3,1009.2 1383.7,1016.5 1384.1,1018.3 1384.5,1029.2 1384.8,1011.1 1385.2,1011.8 1385.6,1012.4 1386.0,1021.6 1386.4,1018.7 1386.7,1027.7 1387.1,1013.4 1387.5,1029.5 1387.9,1029.9 1388.3,1018.9 1388.6,1015.6 1389.0,1023.2 1389.4,1014.1 1389.8,1040.0 1390.2,1022.8 1390.5,1028.8 1390.9,1009.6 1391.3,1005.1 1391.7,1027.7 1392.1,1026.1 1392.4,1014.1 1392.8,1015.8 1393.2,1014.7 1393.6,1023.1 1394.0,1029.5 1394.3,1006.4 1394.7,1025.1 1395.1,1012.4 1395.5,1015.5 1395.9,1018.8 1396.2,1007.6 1396.6,1046.5 1397.0,1042.5 1397.4,1026.8 1397.8,1025.7 1398.1,1009.6 1398.5,1041.0 1398.9,1018.7 1399.3,1017.0 1399.7,1028.9 1400.0,1019.6 1400.4,1009.5 1400.8,1014.1 1401.2,1012.1 1401.6,1015.7 1401.9,1019.7 1402.3,1018.9 1402.7,1025.5 1403.1,1012.8 1403.5,1021.2 1403.8,1027.6 1404.2,999.9 1404.6,1017.4 1405.0,1000.4 1405.4,995.8 1405.7,1024.1 1406.1,1019.4 1406.5,1013.2 1406.9,1003.3 1407.3,1021.2 1407.6,994.0 1408.0,1006.8 1408.4,1010.1 1408.8,1017.1 1409.2,990.4 1409.5,975.6 1409.9,1004.7 1410.3,1006.2 1410.7,1004.4 1411.1,994.3 1411.4,1001.7 1411.8,987.5 1412.2,1005.5 1412.6,1009.6 1413.0,994.3 1413.3,982.3 1413.7,999.5 1414.1,998.6 1414.5,999.5 1414.9,1012.2 1415.2,1001.1 1415.6,1019.1 1416.0,1003.0 1416.4,989.2 1416.8,1009.7 1417.1,998.2 1417.5,994.4 1417.9,1001.4 1418.3,999.8 1418.7,984.1 1419.0,990.7 1419.4,1009.2 1419.8,1000.1 1420.2,1004.4 1420.6,1008.0 1420.9,1015.2 1421.3,992.6 1421.7,992.0 1422.1,989.9 1422.5,992.9 1422.8,990.0 1423.2,998.4 1423.6,997.5 1424.0,1003.9 1424.4,987.4 1424.7,992.4 1425.1,1001.8 1425.5,1005.0 1425.9,977.0 1426.3,992.9 1426.6,996.1 1427.0,979.5 1427.4,1002.7 1427.8,1009.7 1428.2,980.5 1428.5,984.1 1428.9,1007.7 1429.3,1009.7 1429.7,987.6 1430.1,990.6 1430.4,1006.4 1430.8,998.4 1431.2,996.3 1431.6,1016.5 1432.0,1005.0 1432.3,985.9 1432.7,1005.8 1433.1,991.0 1433.5,1011.5 1433.9,1014.4 1434.2,1010.0 1434.6,1015.1 1435.0,1025.4 1435.4,1014.4 1435.8,1004.8 1436.1,998.7 1436.5,1011.6 1436.9,1000.6 1437.3,997.6 1437.7,1007.4 1438.0,995.9 1438.4,1001.1 1438.8,1018.7 1439.2,1010.4 1439.6,1012.8 1439.9,1016.2 1440.3,999.1 1440.7,1019.9 1441.1,1018.9 1441.5,1019.4 1441.8,1023.8 1442.2,1001.3 1442.6,1040.0 1443.0,1020.1 1443.4,1010.4 1443.7,1025.5 1444.1,1013.4 1444.5,1026.6 1444.9,1031.8 1445.3,1015.3 1445.6,1036.2 1446.0,1030.3 1446.4,1033.1 1446.8,1034.4 1447.2,1036.2 1447.5,1042.6 1447.9,1040.9 1448.3,1038.2 1448.7,1027.3 1449.1,1037.8 1449.4,1030.7 1449.8,1023.2 1450.2,1037.0 1450.6,1029.6 1451.0,1049.4 1451.3,1039.2 1451.7,1040.7 1452.1,1048.2 1452.5,1037.9 1452.9,1040.1 1453.2,1054.1 1453.6,1031.1 1454.0,1036.7 1454.4,1044.2 1454.8,1053.5 1455.1,1049.2 1455.5,1036.8 1455.9,1039.7 1456.3,1064.7 1456.7,1052.5 1457.0,1044.4 1457.4,1046.3 1457.8,1086.1 1458.2,1064.3 1458.6,1037.2 1458.9,1048.6 1459.3,1060.0 1459.7,1051.2 1460.1,1064.8 1460.5,1071.1 1460.8,1055.2 1461.2,1058.2 1461.6,1054.3 1462.0,1064.5 1462.4,1070.6 1462.7,1065.7 1463.1,1047.3 1463.5,1064.8 1463.9,1052.7 1464.3,1074.7 1464.6,1063.2 1465.0,1068.9 1465.4,1059.2 1465.8,1059.4 1466.2,1064.0 1466.5,1060.0 1466.9,1075.2 1467.3,1050.2 1467.7,1067.5 1468.1,1055.9 1468.4,1069.7 1468.8,1045.2 1469.2,1074.2 1469.6,1059.6 1470.0,1051.2 1470.3,1069.6 1470.7,1061.4 1471.1,1066.0 1471.5,1075.0 1471.9,1053.7 1472.2,1057.1 1472.6,1064.9 1473.0,1069.6 1473.4,1057.9 1473.8,1057.2 1474.1,1071.9 1474.5,1074.0 1474.9,1077.9 1475.3,1062.2 1475.7,1041.1 1476.0,1070.0 1476.4,1072.3 1476.8,1051.7 1477.2,1066.2 1477.6,1068.0 1477.9,1068.7 1478.3,1061.2 1478.7,1066.4 1479.1,1071.3 1479.5,1049.2 1479.8,1074.3 1480.2,1062.5 1480.6,1073.1 1481.0,1059.5 1481.4,1050.2 1481.7,1077.3 1482.1,1081.6 1482.5,1049.2 1482.9,1054.6 1483.3,1067.7 1483.6,1057.2 1484.0,1074.2 1484.4,1059.9 1484.8,1062.6 1485.2,1069.6 1485.5,1047.5 1485.9,1065.0 1486.3,1086.9 1486.7,1073.7 1487.1,1059.2 1487.4,1078.3 1487.8,1087.9 1488.2,1080.7 1488.6,1063.6 1489.0,1063.0 1489.3,1065.8 1489.7,1059.6 1490.1,1069.7 1490.5,1060.2 1490.9,1061.5 1491.2,1072.8 1491.6,1064.6 1492.0,1068.1 1492.4,1090.1 1492.8,1073.6 1493.1,1081.3 1493.5,1074.4 1493.9,1076.1 1494.3,1058.0 1494.7,1065.5 1495.0,1068.2 1495.4,1066.5 1495.8,1068.9 1496.2,1072.3 1496.6,1068.7 1496.9,1077.2 1497.3,1068.5 1497.7,1080.9 1498.1,1070.7 1498.5,1065.3 1498.8,1059.2 1499.2,1063.6 1499.6,1068.4 1500.0,1082.0 1500.4,1059.0 1500.7,1080.4 1501.1,1070.0 1501.5,1063.1 1501.9,1058.7 1502.3,1075.8 1502.6,1053.4 1503.0,1066.6 1503.4,1066.8 1503.8,1069.3 1504.2,1076.1 1504.5,1065.3 1504.9,1071.9 1505.3,1059.9 1505.7,1071.3 1506.1,1076.2 1506.4,1067.7 1506.8,1074.1 1507.2,1071.7 1507.6,1067.8 1508.0,1070.3 1508.3,1069.1 1508.7,1053.5 1509.1,1057.7 1509.5,1074.6 1509.9,1052.6 1510.2,1080.9 1510.6,1058.6 1511.0,1071.1 1511.4,1074.9 1511.8,1065.3 1512.1,1080.8 1512.5,1059.1 1512.9,1078.5 1513.3,1072.1 1513.7,1069.5 1514.0,1079.4 1514.4,1075.3 1514.8,1060.7 1515.2,1082.6 1515.6,1079.2 1515.9,1072.0 1516.3,1073.1 1516.7,1083.9 1517.1,1087.7 1517.5,1080.4 1517.8,1067.2 1518.2,1079.3 1518.6,1086.5 1519.0,1074.5 1519.4,1072.8 1519.7,1083.9 1520.1,1085.8 1520.5,1088.9 1520.9,1096.7 1521.3,1070.3 1521.6,1089.6 1522.0,1088.1 1522.4,1090.7 1522.8,1092.9 1523.2,1100.5 1523.5,1097.7 1523.9,1093.8 1524.3,1095.7 1524.7,1096.7 1525.1,1095.6 1525.4,1107.7 1525.8,1083.4 1526.2,1088.1 1526.6,1111.9 1527.0,1104.7 1527.3,1105.8 1527.7,1110.4 1528.1,1086.8 1528.5,1113.6 1528.9,1094.5 1529.2,1096.4 1529.6,1112.2 1530.0,1096.3 1530.4,1109.5 1530.8,1116.7 1531.1,1101.7 1531.5,1102.6 1531.9,1112.5 1532.3,1114.6 1532.7,1110.9 1533.0,1097.1 1533.4,1121.1 1533.8,1114.1 1534.2,1092.5 1534.6,1103.6 1534.9,1102.7 1535.3,1105.0 1535.7,1112.9 1536.1,1106.0 1536.5,1120.4 1536.8,1119.7 1537.2,1112.4 1537.6,1104.4 1538.0,1112.3 1538.4,1115.4 1538.7,1121.0 1539.1,1109.5 1539.5,1113.6 1539.9,1106.0 1540.3,1110.0 1540.6,1121.8 1541.0,1125.1 1541.4,1111.3 1541.8,1112.0 1542.2,1108.6 1542.5,1103.3 1542.9,1117.0 1543.3,1117.8 1543.7,1118.9 1544.1,1114.9 1544.4,1118.6 1544.8,1116.1 1545.2,1123.8 1545.6,1117.8 1546.0,1125.5 1546.3,1123.0 1546.7,1118.1 1547.1,1107.0 1547.5,1119.4 1547.9,1118.2 1548.2,1129.4 1548.6,1121.3 1549.0,1108.5 1549.4,1111.0 1549.8,1123.3 1550.1,1115.4 1550.5,1108.6 1550.9,1120.4 1551.3,1120.6 1551.7,1116.5 1552.0,1123.4 1552.4,1116.9 1552.8,1130.5 1553.2,1110.5 1553.6,1124.2 1553.9,1124.9 1554.3,1126.9 1554.7,1117.7 1555.1,1115.9 1555.5,1130.5 1555.8,1122.6 1556.2,1115.2 1556.6,1124.8 1557.0,1130.0 1557.4,1124.0 1557.7,1114.8 1558.1,1126.3 1558.5,1109.7 1558.9,1125.2 1559.3,1126.7 1559.6,1118.9 1560.0,1122.4 1560.4,1121.7 1560.8,1117.3 1561.2,1115.3 1561.5,1119.3 1561.9,1117.2 1562.3,1131.3 1562.7,1112.7 1563.1,1133.4 1563.4,1120.3 1563.8,1117.0 1564.2,1118.7 1564.6,1115.6 1565.0,1109.4 1565.3,1127.9 1565.7,1121.8 1566.1,1117.6 1566.5,1114.8 1566.9,1119.7 1567.2,1115.5 1567.6,1131.9 1568.0,1111.8 1568.4,1117.9 1568.8,1118.6 1569.1,1127.4 1569.5,1126.2 1569.9,1123.9 1570.3,1123.9 1570.7,1127.7 1571.0,1120.4 1571.4,1128.6 1571.8,1117.6 1572.2,1129.4 1572.6,1123.1 1572.9,1133.4 1573.3,1119.1 1573.7,1124.0 1574.1,1122.0 1574.5,1133.0 1574.8,1118.8 1575.2,1133.1 1575.6,1130.7 1576.0,1131.5 1576.4,1124.0 1576.7,1131.3 1577.1,1139.2 1577.5,1124.5 1577.9,1130.4 1578.3,1127.4 1578.6,1122.5 1579.0,1124.3 1579.4,1132.6 1579.8,1129.3 1580.2,1115.0 1580.5,1133.0 1580.9,1128.0 1581.3,1135.5 1581.7,1126.2 1582.1,1143.9 1582.4,1124.5 1582.8,1134.8 1583.2,1123.9 1583.6,1131.6 1584.0,1123.6 1584.3,1138.0 1584.7,1130.4 1585.1,1139.6 1585.5,1130.1 1585.9,1121.0 1586.2,1125.7 1586.6,1128.5 1587.0,1139.2 1587.4,1147.3 1587.8,1130.3 1588.1,1132.9 1588.5,1138.6 1588.9,1124.3 1589.3,1129.3 1589.7,1135.2 1590.0,1133.4 1590.4,1130.8 1590.8,1125.5 1591.2,1132.0 1591.6,1135.7 1591.9,1127.2 1592.3,1132.0 1592.7,1144.1 1593.1,1134.4 1593.5,1135.2 1593.8,1125.5 1594.2,1128.4 1594.6,1129.8 1595.0,1126.8 1595.4,1124.6 1595.7,1122.5 1596.1,1130.7 1596.5,1136.9 1596.9,1135.7 1597.3,1136.1 1597.6,1137.5 1598.0,1127.0 1598.4,1128.1 1598.8,1130.8 1599.2,1126.9 1599.5,1133.8 1599.9,1128.3 1600.3,1139.0 1600.7,1127.1 1601.1,1135.8 1601.4,1142.5 1601.8,1125.2 1602.2,1129.2 1602.6,1128.0 1603.0,1126.3 1603.3,1134.2 1603.7,1135.7 1604.1,1128.3 1604.5,1129.7 1604.9,1134.2 1605.2,1134.7 1605.6,1126.2 1606.0,1146.6 1606.4,1131.5 1606.8,1133.5 1607.1,1129.3 1607.5,1131.5 1607.9,1127.7 1608.3,1142.8 1608.7,1122.1 1609.0,1132.1 1609.4,1137.2 1609.8,1123.7 1610.2,1136.0 1610.6,1141.2 1610.9,1135.1 1611.3,1133.4 1611.7,1133.2 1612.1,1131.8 1612.5,1137.0 1612.8,1128.4 1613.2,1135.5 1613.6,1131.6 1614.0,1130.2 1614.4,1126.8 1614.7,1137.8 1615.1,1130.3 1615.5,1140.3 1615.9,1133.7 1616.3,1133.9 1616.6,1127.5 1617.0,1128.1 1617.4,1137.4 1617.8,1133.6 1618.2,1134.6 1618.5,1138.1 1618.9,1137.4 1619.3,1132.2 1619.7,1151.6 1620.1,1153.1 1620.4,1137.1 1620.8,1126.0 1621.2,1129.3 1621.6,1138.1 1622.0,1131.2 1622.3,1134.2 1622.7,1122.9 1623.1,1137.4 1623.5,1142.0 1623.9,1127.6 1624.2,1132.8 1624.6,1132.8 1625.0,1120.1 1625.4,1132.1 1625.8,1131.6 1626.1,1126.7 1626.5,1129.8 1626.9,1136.5 1627.3,1137.0 1627.7,1136.9 1628.0,1131.6 1628.4,1130.1 1628.8,1135.9 1629.2,1132.6 1629.6,1141.1 1629.9,1141.9 1630.3,1132.2 1630.7,1125.2 1631.1,1136.0 1631.5,1130.9 1631.8,1139.8 1632.2,1139.1 1632.6,1128.6 1633.0,1141.1 1633.4,1143.1 1633.7,1137.1 1634.1,1138.4 1634.5,1131.7 1634.9,1129.7 1635.3,1142.2 1635.6,1136.2 1636.0,1134.2 1636.4,1134.3 1636.8,1139.1 1637.2,1133.4 1637.5,1131.7 1637.9,1132.8 1638.3,1133.6 1638.7,1131.7 1639.1,1135.1 1639.4,1131.7 1639.8,1131.9 1640.2,1146.3 1640.6,1134.6 1641.0,1144.7 1641.3,1128.6 1641.7,1139.0 1642.1,1134.6 1642.5,1144.5 1642.9,1131.7 1643.2,1145.1 1643.6,1131.1 1644.0,1134.8 1644.4,1128.1 1644.8,1135.0 1645.1,1134.2 1645.5,1129.1 1645.9,1124.9 1646.3,1141.3 1646.7,1138.9 1647.0,1131.9 1647.4,1135.4 1647.8,1131.7 1648.2,1135.2 1648.6,1137.5 1648.9,1138.1 1649.3,1133.0 1649.7,1134.8 1650.1,1139.1 1650.5,1132.1 1650.8,1132.7 1651.2,1136.5 1651.6,1138.9 1652.0,1133.5 1652.4,1140.7 1652.7,1135.6 1653.1,1132.0 1653.5,1136.6 1653.9,1127.4 1654.3,1125.1 1654.6,1138.0 1655.0,1125.5 1655.4,1131.3 1655.8,1141.9 1656.2,1138.0 1656.5,1131.0 1656.9,1135.9 1657.3,1127.5 1657.7,1129.3 1658.1,1135.0 1658.4,1139.5 1658.8,1135.8 1659.2,1135.5 1659.6,1132.2 1660.0,1136.4 1660.3,1140.7 1660.7,1142.5 1661.1,1138.0 1661.5,1136.7 1661.9,1138.1 1662.2,1139.1 1662.6,1133.2 1663.0,1133.8 1663.4,1132.1 1663.8,1132.3 1664.1,1147.1 1664.5,1140.6 1664.9,1132.0 1665.3,1136.2 1665.7,1137.8 1666.0,1135.5 1666.4,1130.3 1666.8,1144.5 1667.2,1129.0 1667.6,1141.1 1667.9,1136.3 1668.3,1131.2 1668.7,1135.0 1669.1,1125.1 1669.5,1137.6 1669.8,1140.3 1670.2,1132.9 1670.6,1137.8 1671.0,1121.3 1671.4,1132.9 1671.7,1128.1 1672.1,1141.5 1672.5,1137.1 1672.9,1135.7 1673.3,1134.9 1673.6,1134.6 1674.0,1140.6 1674.4,1129.9 1674.8,1141.5 1675.2,1140.1 1675.5,1142.1 1675.9,1133.9 1676.3,1142.4 1676.7,1141.9 1677.1,1138.6 1677.4,1142.6 1677.8,1133.4 1678.2,1135.6 1678.6,1143.9 1679.0,1147.9 1679.3,1126.3 1679.7,1141.5 1680.1,1128.6 1680.5,1137.2 1680.9,1132.5 1681.2,1137.2 1681.6,1134.2 1682.0,1138.3 1682.4,1139.8 1682.8,1134.0 1683.1,1139.9 1683.5,1134.3 1683.9,1140.0 1684.3,1142.9 1684.7,1137.0 1685.0,1137.4 1685.4,1125.4 1685.8,1131.5 1686.2,1132.3 1686.6,1135.1 1686.9,1127.8 1687.3,1128.3 1687.7,1135.5 1688.1,1137.2 1688.5,1141.8 1688.8,1144.4 1689.2,1139.1 1689.6,1133.8 1690.0,1140.1 1690.4,1131.3 1690.7,1137.3 1691.1,1146.5 1691.5,1144.7 1691.9,1134.2 1692.3,1141.7 1692.6,1133.7 1693.0,1132.4 1693.4,1126.5 1693.8,1139.2 1694.2,1137.8 1694.5,1141.8 1694.9,1140.7 1695.3,1134.2 1695.7,1141.1 1696.1,1147.0 1696.4,1149.5 1696.8,1140.5 1697.2,1137.7 1697.6,1138.3 1698.0,1136.5 1698.3,1132.6 1698.7,1145.3 1699.1,1140.5 1699.5,1136.9 1699.9,1144.7 1700.2,1140.9 1700.6,1128.6 1701.0,1143.3 1701.4,1133.6 1701.8,1128.3 1702.1,1137.7 1702.5,1134.2 1702.9,1131.6 1703.3,1145.3 1703.7,1136.4 1704.0,1135.7 1704.4,1134.5 1704.8,1133.7 1705.2,1137.1 1705.6,1134.1 1705.9,1155.0 1706.3,1129.8 1706.7,1136.7 1707.1,1133.2 1707.5,1131.9 1707.8,1132.1 1708.2,1136.2 1708.6,1141.5 1709.0,1143.0 1709.4,1140.1 1709.7,1133.5 1710.1,1147.3 1710.5,1146.4 1710.9,1146.3 1711.3,1133.2 1711.6,1139.6 1712.0,1140.2 1712.4,1139.4 1712.8,1139.3 1713.2,1139.2 1713.5,1134.2 1713.9,1143.1 1714.3,1144.1 1714.7,1139.7 1715.1,1136.3 1715.4,1138.4 1715.8,1143.3 1716.2,1135.3 1716.6,1140.1 1717.0,1131.7 1717.3,1138.2 1717.7,1128.5 1718.1,1129.4 1718.5,1148.2 1718.9,1136.8 1719.2,1142.5 1719.6,1120.4 1720.0,1134.6 1720.4,1135.0 1720.8,1132.7 1721.1,1136.8 1721.5,1130.9 1721.9,1143.3 1722.3,1139.8 1722.7,1129.3 1723.0,1138.8 1723.4,1137.8 1723.8,1145.4 1724.2,1142.2 1724.6,1129.5 1724.9,1131.5 1725.3,1141.8 1725.7,1128.3 1726.1,1139.5 1726.5,1132.0 1726.8,1139.0 1727.2,1139.1 1727.6,1138.2 1728.0,1131.6 1728.4,1136.2 1728.7,1143.1 1729.1,1134.9 1729.5,1138.6 1729.9,1145.6 1730.3,1147.1 1730.6,1145.0 1731.0,1136.8 1731.4,1136.6 1731.8,1134.9 1732.2,1132.9 1732.5,1135.0 1732.9,1127.7 1733.3,1139.2 1733.7,1134.2 1734.1,1142.4 1734.4,1141.9 1734.8,1143.9 1735.2,1131.2 1735.6,1134.4 1736.0,1131.5 1736.3,1126.6 1736.7,1131.8 1737.1,1131.0 1737.5,1142.2 1737.9,1119.6 1738.2,1138.5 1738.6,1134.0 1739.0,1132.8 1739.4,1133.7 1739.8,1138.2 1740.1,1134.8 1740.5,1149.2 1740.9,1136.5 1741.3,1132.6 1741.7,1132.2 1742.0,1134.0 1742.4,1144.5 1742.8,1138.4 1743.2,1143.2 1743.6,1127.8 1743.9,1132.3 1744.3,1135.5 1744.7,1134.0 1745.1,1139.2 1745.5,1141.2 1745.8,1132.9 1746.2,1118.4 1746.6,1129.7 1747.0,1128.1 1747.4,1138.4 1747.7,1146.9 1748.1,1137.0 1748.5,1145.6 1748.9,1137.0 1749.3,1141.5 1749.6,1136.9 1750.0,1139.4 1750.4,1129.7 1750.8,1133.3 1751.2,1143.9 1751.5,1140.6 1751.9,1127.4 1752.3,1141.6 1752.7,1142.6 1753.1,1133.9 1753.4,1137.5 1753.8,1132.3 1754.2,1137.5 1754.6,1136.7 1755.0,1133.7 1755.3,1135.8"/>
<polyline class="c" stroke="#f00" stroke-width="2.10" points="547.7,1194.0 548.1,1195.5 548.5,1188.6 548.8,1201.7 549.2,1190.3 549.6,1193.8 550.0,1198.6 550.4,1193.0 550.7,1193.9 551.1,1194.6 551.5,1199.8 551.9,1206.0 552.3,1198.6 552.6,1195.0 553.0,1200.8 553.4,1197.3 553.8,1199.5 554.2,1203.8 554.5,1197.6 554.9,1200.5 555.3,1197.7 555.7,1200.5 556.1,1202.2 556.4,1198.2 556.8,1200.8 557.2,1201.4 557.6,1200.3 558.0,1198.7 558.3,1198.2 558.7,1202.8 559.1,1202.6 559.5,1211.4 559.9,1195.7 560.2,1204.6 560.6,1205.7 561.0,1209.2 561.4,1206.5 561.8,1202.1 562.1,1205.1 562.5,1207.1 562.9,1204.3 563.3,1208.2 563.7,1199.4 564.0,1211.7 564.4,1211.0 564.8,1205.0 565.2,1208.3 565.6,1206.6 565.9,1203.7 566.3,1207.0 566.7,1210.2 567.1,1205.6 567.5,1205.8 567.8,1206.9 568.2,1208.7 568.6,1211.7 569.0,1205.3 569.4,1209.3 569.7,1208.5 570.1,1201.5 570.5,1206.5 570.9,1207.6 571.3,1208.0 571.6,1209.4 572.0,1201.4 572.4,1208.6 572.8,1206.3 573.2,1203.8 573.5,1210.5 573.9,1211.4 574.3,1206.7 574.7,1211.9 575.1,1207.8 575.4,1209.5 575.8,1205.6 576.2,1214.8 576.6,1200.5 577.0,1209.3 577.3,1212.1 577.7,1202.9 578.1,1209.3 578.5,1209.7 578.9,1212.9 579.2,1214.4 579.6,1208.9 580.0,1205.7 580.4,1215.1 580.8,1214.7 581.1,1209.1 581.5,1212.0 581.9,1212.2 582.3,1212.9 582.7,1211.8 583.0,1216.0 583.4,1205.4 583.8,1215.0 584.2,1212.9 584.6,1211.0 584.9,1215.8 585.3,1204.0 585.7,1216.0 586.1,1213.5 586.5,1208.5 586.8,1213.9 587.2,1211.5 587.6,1221.5 588.0,1219.1 588.4,1214.5 588.7,1210.6 589.1,1211.2 589.5,1212.2 589.9,1211.6 590.3,1210.5 590.6,1211.7 591.0,1212.9 591.4,1212.2 591.8,1211.7 592.2,1211.0 592.5,1223.0 592.9,1209.4 593.3,1211.0 593.7,1216.1 594.1,1213.6 594.4,1216.3 594.8,1217.6 595.2,1219.3 595.6,1217.6 596.0,1211.8 596.3,1219.0 596.7,1209.3 597.1,1215.0 597.5,1213.8 597.9,1211.9 598.2,1217.6 598.6,1215.0 599.0,1219.2 599.4,1210.7 599.8,1218.7 600.1,1217.5 600.5,1216.3 600.9,1211.0 601.3,1215.0 601.7,1210.6 602.0,1208.8 602.4,1227.1 602.8,1219.2 603.2,1222.0 603.6,1214.4 603.9,1218.3 604.3,1218.3 604.7,1217.9 605.1,1215.9 605.5,1215.1 605.8,1208.9 606.2,1218.0 606.6,1217.3 607.0,1219.7 607.4,1215.0 607.7,1221.8 608.1,1214.4 608.5,1211.6 608.9,1219.1 609.3,1214.3 609.6,1211.6 610.0,1216.3 610.4,1218.5 610.8,1216.7 611.2,1217.6 611.5,1229.9 611.9,1218.7 612.3,1221.1 612.7,1209.1 613.1,1217.1 613.4,1218.5 613.8,1214.7 614.2,1212.9 614.6,1217.2 615.0,1214.8 615.3,1213.9 615.7,1219.8 616.1,1220.4 616.5,1216.9 616.9,1214.4 617.2,1217.6 617.6,1218.7 618.0,1218.0 618.4,1211.0 618.8,1214.8 619.1,1217.1 619.5,1218.0 619.9,1219.2 620.3,1218.5 620.7,1212.0 621.0,1213.5 621.4,1211.7 621.8,1222.0 622.2,1216.5 622.6,1217.8 622.9,1219.4 623.3,1214.8 623.7,1212.0 624.1,1214.4 624.5,1215.4 624.8,1221.0 625.2,1218.9 625.6,1212.2 626.0,1218.2 626.4,1218.4 626.7,1212.3 627.1,1215.5 627.5,1209.6 627.9,1217.0 628.3,1214.8 628.6,1211.3 629.0,1213.5 629.4,1216.7 629.8,1214.0 630.2,1216.9 630.5,1217.8 630.9,1213.0 631.3,1214.8 631.7,1223.2 632.1,1216.3 632.4,1213.0 632.8,1216.1 633.2,1211.3 633.6,1219.8 634.0,1217.2 634.3,1219.6 634.7,1219.0 635.1,1217.2 635.5,1219.2 635.9,1216.6 636.2,1213.6 636.6,1212.4 637.0,1214.4 637.4,1207.4 637.8,1222.1 638.1,1210.1 638.5,1215.6 638.9,1211.4 639.3,1209.0 639.7,1215.6 640.0,1214.9 640.4,1215.4 640.8,1217.8 641.2,1213.8 641.6,1217.2 641.9,1217.6 642.3,1214.8 642.7,1214.9 643.1,1217.7 643.5,1216.1 643.8,1216.5 644.2,1207.9 644.6,1216.2 645.0,1217.3 645.4,1215.6 645.7,1217.2 646.1,1222.6 646.5,1216.4 646.9,1218.5 647.3,1213.4 647.6,1213.4 648.0,1214.8 648.4,1213.0 648.8,1216.5 649.2,1213.4 649.5,1216.1 649.9,1211.9 650.3,1211.2 650.7,1214.7 651.1,1213.4 651.4,1214.9 651.8,1215.1 652.2,1216.1 652.6,1221.0 653.0,1222.2 653.3,1220.1 653.7,1216.5 654.1,1222.9 654.5,1212.7 654.9,1211.2 655.2,1219.0 655.6,1218.2 656.0,1217.9 656.4,1218.6 656.8,1213.0 657.1,1214.7 657.5,1222.9 657.9,1222.3 658.3,1216.5 658.7,1225.6 659.0,1215.5 659.4,1217.3 659.8,1220.3 660.2,1215.3 660.6,1217.8 660.9,1219.0 661.3,1218.3 661.7,1222.7 662.1,1221.8 662.5,1216.1 662.8,1217.6 663.2,1220.6 663.6,1219.8 664.0,1217.4 664.4,1221.5 664.7,1222.9 665.1,1218.1 665.5,1222.9 665.9,1214.8 666.3,1214.9 666.6,1222.1 667.0,1217.6 667.4,1217.1 667.8,1219.7 668.2,1218.3 668.5,1221.8 668.9,1215.8 669.3,1219.5 669.7,1231.6 670.1,1221.2 670.4,1214.4 670.8,1223.0 671.2,1222.9 671.6,1225.8 672.0,1221.6 672.3,1218.9 672.7,1226.0 673.1,1223.7 673.5,1215.2 673.9,1223.9 674.2,1220.6 674.6,1225.2 675.0,1220.2 675.4,1224.2 675.8,1222.2 676.1,1223.6 676.5,1221.5 676.9,1220.2 677.3,1221.9 677.7,1223.9 678.0,1223.2 678.4,1227.3 678.8,1223.2 679.2,1224.0 679.6,1229.0 679.9,1222.1 680.3,1223.7 680.7,1219.9 681.1,1222.1 681.5,1227.5 681.8,1223.0 682.2,1226.9 682.6,1218.4 683.0,1217.2 683.4,1223.0 683.7,1217.3 684.1,1231.1 684.5,1226.2 684.9,1217.8 685.3,1221.4 685.6,1220.0 686.0,1223.4 686.4,1221.8 686.8,1225.2 687.2,1227.0 687.5,1221.2 687.9,1218.0 688.3,1223.9 688.7,1221.4 689.1,1225.9 689.4,1221.5 689.8,1224.8 690.2,1223.1 690.6,1221.4 691.0,1220.5 691.3,1224.4 691.7,1230.6 692.1,1224.8 692.5,1221.6 692.9,1224.4 693.2,1222.4 693.6,1217.6 694.0,1223.1 694.4,1227.3 694.8,1220.9 695.1,1218.2 695.5,1223.7 695.9,1228.2 696.3,1225.2 696.7,1225.5 697.0,1229.8 697.4,1227.5 697.8,1224.4 698.2,1221.3 698.6,1222.5 698.9,1221.6 699.3,1224.9 699.7,1219.0 700.1,1227.3 700.5,1222.5 700.8,1220.6 701.2,1224.8 701.6,1214.9 702.0,1219.2 702.4,1219.8 702.7,1224.8 703.1,1220.3 703.5,1226.8 703.9,1220.5 704.3,1223.8 704.6,1219.6 705.0,1225.9 705.4,1221.1 705.8,1223.7 706.2,1220.3 706.5,1218.3 706.9,1221.1 707.3,1225.6 707.7,1218.4 708.1,1216.6 708.4,1220.8 708.8,1224.4 709.2,1218.2 709.6,1219.9 710.0,1222.3 710.3,1220.5 710.7,1222.5 711.1,1225.6 711.5,1221.5 711.9,1221.2 712.2,1224.0 712.6,1221.1 713.0,1218.0 713.4,1217.8 713.8,1217.4 714.1,1227.6 714.5,1220.9 714.9,1223.0 715.3,1223.4 715.7,1217.7 716.0,1223.0 716.4,1218.9 716.8,1213.6 717.2,1219.9 717.6,1217.0 717.9,1219.4 718.3,1221.7 718.7,1228.2 719.1,1218.7 719.5,1219.8 719.8,1221.6 720.2,1220.9 720.6,1219.7 721.0,1216.5 721.4,1216.9 721.7,1219.5 722.1,1216.2 722.5,1217.9 722.9,1215.8 723.3,1223.9 723.6,1214.9 724.0,1226.5 724.4,1218.0 724.8,1216.4 725.2,1216.0 725.5,1222.7 725.9,1223.5 726.3,1217.1 726.7,1221.1 727.1,1219.5 727.4,1219.2 727.8,1220.5 728.2,1222.6 728.6,1213.5 729.0,1212.4 729.3,1220.7 729.7,1219.8 730.1,1222.3 730.5,1214.2 730.9,1216.6 731.2,1225.2 731.6,1215.5 732.0,1221.2 732.4,1217.3 732.8,1218.6 733.1,1215.3 733.5,1224.0 733.9,1213.5 734.3,1215.9 734.7,1216.9 735.0,1224.0 735.4,1221.0 735.8,1222.3 736.2,1219.9 736.6,1220.8 736.9,1221.7 737.3,1225.3 737.7,1220.8 738.1,1215.0 738.5,1223.9 738.8,1220.3 739.2,1216.2 739.6,1219.4 740.0,1216.7 740.4,1227.1 740.7,1218.8 741.1,1213.2 741.5,1221.0 741.9,1217.2 742.3,1224.4 742.6,1220.5 743.0,1214.0 743.4,1218.3 743.8,1216.3 744.2,1217.4 744.5,1217.8 744.9,1213.2 745.3,1220.7 745.7,1217.0 746.1,1217.0 746.4,1222.6 746.8,1226.4 747.2,1217.9 747.6,1226.1 748.0,1213.0 748.3,1221.9 748.7,1218.0 749.1,1219.7 749.5,1216.6 749.9,1217.9 750.2,1218.9 750.6,1218.7 751.0,1221.3 751.4,1227.8 751.8,1217.7 752.1,1219.3 752.5,1213.9 752.9,1211.3 753.3,1224.5 753.7,1215.3 754.0,1217.2 754.4,1219.8 754.8,1222.8 755.2,1220.8 755.6,1226.0 755.9,1219.0 756.3,1213.4 756.7,1220.1 757.1,1220.0 757.5,1216.8 757.8,1218.4 758.2,1217.5 758.6,1225.4 759.0,1217.4 759.4,1214.7 759.7,1220.4 760.1,1213.2 760.5,1220.8 760.9,1220.7 761.3,1216.5 761.6,1217.4 762.0,1217.2 762.4,1224.7 762.8,1220.6 763.2,1215.1 763.5,1214.9 763.9,1218.9 764.3,1219.1 764.7,1216.5 765.1,1220.1 765.4,1218.4 765.8,1222.7 766.2,1220.5 766.6,1218.7 767.0,1219.4 767.3,1215.9 767.7,1221.9 768.1,1220.2 768.5,1217.4 768.9,1219.2 769.2,1217.0 769.6,1227.2 770.0,1217.2 770.4,1220.5 770.8,1219.9 771.1,1215.9 771.5,1218.6 771.9,1217.5 772.3,1219.4 772.7,1219.4 773.0,1221.1 773.4,1221.1 773.8,1217.0 774.2,1216.6 774.6,1216.3 774.9,1215.4 775.3,1212.3 775.7,1220.3 776.1,1217.9 776.5,1217.4 776.8,1212.5 777.2,1213.0 777.6,1209.5 778.0,1217.6 778.4,1220.2 778.7,1219.9 779.1,1217.6 779.5,1214.2 779.9,1217.8 780.3,1217.7 780.6,1220.1 781.0,1220.3 781.4,1216.7 781.8,1217.4 782.2,1219.9 782.5,1219.0 782.9,1216.8 783.3,1210.0 783.7,1215.1 784.1,1220.1 784.4,1217.7 784.8,1220.4 785.2,1215.9 785.6,1217.3 786.0,1219.7 786.3,1219.3 786.7,1218.2 787.1,1220.5 787.5,1221.3 787.9,1221.4 788.2,1211.0 788.6,1214.9 789.0,1215.4 789.4,1215.2 789.8,1210.8 790.1,1220.7 790.5,1212.8 790.9,1216.5 791.3,1207.9 791.7,1214.2 792.0,1215.0 792.4,1212.6 792.8,1218.2 793.2,1223.7 793.6,1212.5 793.9,1212.5 794.3,1221.3 794.7,1217.1 795.1,1214.0 795.5,1210.7 795.8,1217.4 796.2,1215.5 796.6,1220.0 797.0,1211.6 797.4,1213.9 797.7,1213.4 798.1,1213.6 798.5,1217.8 798.9,1216.9 799.3,1211.8 799.6,1213.5 800.0,1213.0 800.4,1216.7 800.8,1212.9 801.2,1209.6 801.5,1212.2 801.9,1213.1 802.3,1216.2 802.7,1217.3 803.1,1217.3 803.4,1214.0 803.8,1210.9 804.2,1214.6 804.6,1211.8 805.0,1210.3 805.3,1213.3 805.7,1213.5 806.1,1215.0 806.5,1208.9 806.9,1206.2 807.2,1213.5 807.6,1208.4 808.0,1215.0 808.4,1207.7 808.8,1209.4 809.1,1205.1 809.5,1218.2 809.9,1209.5 810.3,1210.7 810.7,1209.1 811.0,1210.0 811.4,1213.6 811.8,1211.0 812.2,1210.5 812.6,1214.5 812.9,1205.8 813.3,1214.1 813.7,1215.6 814.1,1205.4 814.5,1211.0 814.8,1205.6 815.2,1202.7 815.6,1206.9 816.0,1211.5 816.4,1212.2 816.7,1208.3 817.1,1206.5 817.5,1207.9 817.9,1206.8 818.3,1207.0 818.6,1200.9 819.0,1208.2 819.4,1208.5 819.8,1216.2 820.2,1211.0 820.5,1208.1 820.9,1208.8 821.3,1209.5 821.7,1205.9 822.1,1201.1 822.4,1205.6 822.8,1207.3 823.2,1208.3 823.6,1205.4 824.0,1204.6 824.3,1206.7 824.7,1207.7 825.1,1209.3 825.5,1206.5 825.9,1208.7 826.2,1203.7 826.6,1209.7 827.0,1206.6 827.4,1202.1 827.8,1205.7 828.1,1206.8 828.5,1202.7 828.9,1208.7 829.3,1205.0 829.7,1207.5 830.0,1202.5 830.4,1206.8 830.8,1208.1 831.2,1204.0 831.6,1204.7 831.9,1203.3 832.3,1206.2 832.7,1205.0 833.1,1206.5 833.5,1204.4 833.8,1200.1 834.2,1199.8 834.6,1202.6 835.0,1205.6 835.4,1211.5 835.7,1206.6 836.1,1201.4 836.5,1196.4 836.9,1204.9 837.3,1203.0 837.6,1198.6 838.0,1205.6 838.4,1202.3 838.8,1200.7 839.2,1195.3 839.5,1204.9 839.9,1201.5 840.3,1200.2 840.7,1197.4 841.1,1199.1 841.4,1204.3 841.8,1201.5 842.2,1206.2 842.6,1202.7 843.0,1199.9 843.3,1201.4 843.7,1198.6 844.1,1192.7 844.5,1195.3 844.9,1198.1 845.2,1193.5 845.6,1194.6 846.0,1191.8 846.4,1201.4 846.8,1190.9 847.1,1191.6 847.5,1191.8 847.9,1197.9 848.3,1198.1 848.7,1192.2 849.0,1195.8 849.4,1190.6 849.8,1193.4 850.2,1202.1 850.6,1196.2 850.9,1192.6 851.3,1188.1 851.7,1191.4 852.1,1187.7 852.5,1184.6 852.8,1193.9 853.2,1193.6 853.6,1192.2 854.0,1194.7 854.4,1185.5 854.7,1195.7 855.1,1187.1 855.5,1191.9 855.9,1192.0 856.3,1194.0 856.6,1197.0 857.0,1191.2 857.4,1188.5 857.8,1185.9 858.2,1190.4 858.5,1186.5 858.9,1184.6 859.3,1188.4 859.7,1191.2 860.1,1187.7 860.4,1185.0 860.8,1188.9 861.2,1184.0 861.6,1182.9 862.0,1192.8 862.3,1188.5 862.7,1194.2 863.1,1182.3 863.5,1190.7 863.9,1186.4 864.2,1195.9 864.6,1185.8 865.0,1184.9 865.4,1187.6 865.8,1186.6 866.1,1184.2 866.5,1188.6 866.9,1187.6 867.3,1188.0 867.7,1186.2 868.0,1182.1 868.4,1181.9 868.8,1186.0 869.2,1180.6 869.6,1189.2 869.9,1183.3 870.3,1180.1 870.7,1186.0 871.1,1182.1 871.5,1185.9 871.8,1182.1 872.2,1187.1 872.6,1179.4 873.0,1172.8 873.4,1174.7 873.7,1173.9 874.1,1181.1 874.5,1184.8 874.9,1177.6 875.3,1173.3 875.6,1179.7 876.0,1178.5 876.4,1175.3 876.8,1177.5 877.2,1175.7 877.5,1171.4 877.9,1177.2 878.3,1172.8 878.7,1170.9 879.1,1172.9 879.4,1178.7 879.8,1179.7 880.2,1177.4 880.6,1170.6 881.0,1168.4 881.3,1172.7 881.7,1170.7 882.1,1171.4 882.5,1166.7 882.9,1167.2 883.2,1166.2 883.6,1172.1 884.0,1172.8 884.4,1166.5 884.8,1170.4 885.1,1170.2 885.5,1165.2 885.9,1167.3 886.3,1169.7 886.7,1163.1 887.0,1170.4 887.4,1165.0 887.8,1165.5 888.2,1164.0 888.6,1159.4 888.9,1165.1 889.3,1163.4 889.7,1161.6 890.1,1161.7 890.5,1163.4 890.8,1160.9 891.2,1159.0 891.6,1160.6 892.0,1162.3 892.4,1159.2 892.7,1155.8 893.1,1160.6 893.5,1156.1 893.9,1158.4 894.3,1155.2 894.6,1151.7 895.0,1149.8 895.4,1150.2 895.8,1151.6 896.2,1143.7 896.5,1151.6 896.9,1152.9 897.3,1147.1 897.7,1142.9 898.1,1139.6 898.4,1144.7 898.8,1143.9 899.2,1141.3 899.6,1142.1 900.0,1136.0 900.3,1136.0 900.7,1136.4 901.1,1133.4 901.5,1134.6 901.9,1133.4 902.2,1129.4 902.6,1125.8 903.0,1125.4 903.4,1130.8 903.8,1121.2 904.1,1124.6 904.5,1119.5 904.9,1130.5 905.3,1118.1 905.7,1121.4 906.0,1113.7 906.4,1128.1 906.8,1109.0 907.2,1113.8 907.6,1105.7 907.9,1112.1 908.3,1102.1 908.7,1103.5 909.1,1097.0 909.5,1100.0 909.8,1099.8 910.2,1105.2 910.6,1086.7 911.0,1096.7 911.4,1092.8 911.7,1088.2 912.1,1088.0 912.5,1088.7 912.9,1085.0 913.3,1083.1 913.6,1078.0 914.0,1077.7 914.4,1079.6 914.8,1071.4 915.2,1071.3 915.5,1071.9 915.9,1071.2 916.3,1069.7 916.7,1065.3 917.1,1054.9 917.4,1065.6 917.8,1064.0 918.2,1061.5 918.6,1053.7 919.0,1051.8 919.3,1042.2 919.7,1033.9 920.1,1033.6 920.5,1028.5 920.9,1030.6 921.2,1026.8 921.6,1018.2 922.0,1016.5 922.4,1016.2 922.8,1014.4 923.1,1017.9 923.5,1004.7 923.9,1007.2 924.3,988.0 924.7,986.6 925.0,994.3 925.4,985.2 925.8,981.1 926.2,980.9 926.6,974.6 926.9,973.4 927.3,971.3 927.7,968.1 928.1,965.4 928.5,957.5 928.8,958.8 929.2,951.0 929.6,955.1 930.0,950.1 930.4,950.7 930.7,949.6 931.1,943.5 931.5,943.4 931.9,944.4 932.3,946.4 932.6,948.1 933.0,941.5 933.4,944.3 933.8,944.1 934.2,943.1 934.5,947.3 934.9,950.2 935.3,954.6 935.7,943.9 936.1,945.3 936.4,948.4 936.8,953.7 937.2,954.5 937.6,952.8 938.0,957.5 938.3,952.8 938.7,955.3 939.1,960.3 939.5,955.7 939.9,970.3 940.2,961.2 940.6,961.7 941.0,970.9 941.4,962.6 941.8,972.2 942.1,976.3 942.5,986.2 942.9,997.8 943.3,987.1 943.7,983.2 944.0,993.5 944.4,998.2 944.8,993.5 945.2,1002.3 945.6,1011.0 945.9,1008.6 946.3,1005.3 946.7,1009.2 947.1,1006.8 947.5,1015.4 947.8,1017.5 948.2,1029.7 948.6,1018.5 949.0,1021.3 949.4,1032.7 949.7,1037.7 950.1,1035.4 950.5,1042.1 950.9,1047.2 951.3,1050.2 951.6,1050.6 952.0,1053.5 952.4,1045.3 952.8,1058.2 953.2,1056.7 953.5,1053.6 953.9,1057.1 954.3,1059.1 954.7,1059.3 955.1,1062.7 955.4,1063.1 955.8,1059.7 956.2,1078.5 956.6,1071.8 957.0,1082.2 957.3,1072.0 957.7,1082.6 958.1,1075.8 958.5,1085.3 958.9,1083.6 959.2,1084.0 959.6,1080.6 960.0,1083.5 960.4,1089.8 960.8,1074.8 961.1,1082.0 961.5,1080.1 961.9,1082.5 962.3,1090.7 962.7,1092.5 963.0,1088.3 963.4,1095.4 963.8,1087.1 964.2,1088.5 964.6,1092.6 964.9,1094.7 965.3,1092.8 965.7,1089.0 966.1,1097.5 966.5,1103.6 966.8,1094.3 967.2,1096.9 967.6,1092.0 968.0,1097.8 968.4,1094.0 968.7,1099.6 969.1,1106.6 969.5,1102.0 969.9,1096.3 970.3,1103.9 970.6,1092.1 971.0,1106.3 971.4,1102.3 971.8,1096.0 972.2,1099.7 972.5,1097.1 972.9,1111.2 973.3,1104.5 973.7,1097.0 974.1,1098.7 974.4,1102.7 974.8,1099.2 975.2,1103.0 975.6,1103.6 976.0,1094.8 976.3,1104.5 976.7,1109.4 977.1,1102.7 977.5,1103.9 977.9,1098.2 978.2,1097.9 978.6,1101.5 979.0,1095.6 979.4,1091.8 979.8,1103.1 980.1,1095.7 980.5,1099.6 980.9,1098.8 981.3,1099.9 981.7,1100.4 982.0,1099.8 982.4,1095.5 982.8,1100.4 983.2,1094.4 983.6,1097.4 983.9,1092.3 984.3,1095.2 984.7,1090.3 985.1,1100.5 985.5,1094.9 985.8,1089.3 986.2,1083.7 986.6,1088.2 987.0,1097.3 987.4,1087.4 987.7,1094.5 988.1,1088.1 988.5,1086.9 988.9,1082.7 989.3,1088.2 989.6,1090.9 990.0,1088.8 990.4,1086.7 990.8,1078.2 991.2,1082.6 991.5,1075.5 991.9,1075.7 992.3,1080.3 992.7,1072.2 993.1,1078.1 993.4,1072.5 993.8,1079.0 994.2,1069.3 994.6,1070.3 995.0,1070.5 995.3,1066.2 995.7,1064.2 996.1,1050.6 996.5,1060.7 996.9,1046.2 997.2,1048.1 997.6,1036.9 998.0,1044.3 998.4,1040.0 998.8,1039.3 999.1,1033.1 999.5,1034.4 999.9,1029.2 1000.3,1029.1 1000.7,1031.4 1001.0,1014.4 1001.4,1021.8 1001.8,1018.3 1002.2,1008.5 1002.6,1010.4 1002.9,1015.4 1003.3,1006.3 1003.7,997.7 1004.1,999.7 1004.5,994.1 1004.8,982.6 1005.2,983.5 1005.6,981.5 1006.0,978.5 1006.4,977.2 1006.7,973.2 1007.1,971.2 1007.5,966.3 1007.9,965.2 1008.3,962.8 1008.6,966.3 1009.0,962.3 1009.4,959.5 1009.8,965.4 1010.2,973.0 1010.5,960.4 1010.9,966.9 1011.3,962.2 1011.7,961.8 1012.1,965.5 1012.4,967.2 1012.8,972.9 1013.2,961.3 1013.6,965.0 1014.0,972.2 1014.3,973.4 1014.7,964.6 1015.1,970.5 1015.5,977.4 1015.9,980.6 1016.2,972.7 1016.6,982.4 1017.0,975.0 1017.4,996.3 1017.8,1005.8 1018.1,997.3 1018.5,1005.7 1018.9,1003.4 1019.3,1011.4 1019.7,1019.9 1020.0,1024.6 1020.4,1030.0 1020.8,1029.4 1021.2,1040.2 1021.6,1059.6 1021.9,1057.0 1022.3,1058.4 1022.7,1066.3 1023.1,1067.5 1023.5,1077.6 1023.8,1081.8 1024.2,1091.3 1024.6,1094.5 1025.0,1116.0 1025.4,1116.1 1025.7,1120.1 1026.1,1125.5 1026.5,1124.7 1026.9,1124.0 1027.3,1135.1 1027.6,1139.5 1028.0,1142.6 1028.4,1142.3 1028.8,1141.1 1029.2,1155.0 1029.5,1156.6 1029.9,1157.5 1030.3,1159.3 1030.7,1161.6 1031.1,1161.1 1031.4,1158.4 1031.8,1165.2 1032.2,1164.8 1032.6,1168.8 1033.0,1167.0 1033.3,1170.1 1033.7,1164.7 1034.1,1172.0 1034.5,1179.0 1034.9,1171.0 1035.2,1174.4 1035.6,1176.0 1036.0,1174.6 1036.4,1174.8 1036.8,1168.7 1037.1,1172.4 1037.5,1182.1 1037.9,1178.0 1038.3,1179.0 1038.7,1186.2 1039.0,1173.9 1039.4,1184.5 1039.8,1183.6 1040.2,1174.9 1040.6,1179.8 1040.9,1183.8 1041.3,1180.2 1041.7,1180.3 1042.1,1185.4 1042.5,1182.8 1042.8,1184.4 1043.2,1183.4 1043.6,1184.7 1044.0,1185.5 1044.4,1192.4 1044.7,1186.3 1045.1,1182.6 1045.5,1186.6 1045.9,1186.3 1046.3,1197.2 1046.6,1180.8 1047.0,1188.4 1047.4,1187.0 1047.8,1191.6 1048.2,1182.8 1048.5,1182.2 1048.9,1187.9 1049.3,1189.7 1049.7,1188.5 1050.1,1189.3 1050.4,1187.0 1050.8,1190.8 1051.2,1187.9 1051.6,1185.8 1052.0,1192.9 1052.3,1184.9 1052.7,1182.4 1053.1,1186.8 1053.5,1187.9 1053.9,1188.3 1054.2,1187.6 1054.6,1190.1 1055.0,1187.8 1055.4,1186.2 1055.8,1194.3 1056.1,1189.0 1056.5,1193.6 1056.9,1190.6 1057.3,1191.9 1057.7,1195.8 1058.0,1184.2 1058.4,1194.8 1058.8,1191.4 1059.2,1194.4 1059.6,1190.0 1059.9,1191.9 1060.3,1191.5 1060.7,1188.4 1061.1,1192.3 1061.5,1199.1 1061.8,1197.4 1062.2,1198.1 1062.6,1192.7 1063.0,1193.1 1063.4,1192.4 1063.7,1186.9 1064.1,1193.5 1064.5,1192.0 1064.9,1197.8 1065.3,1198.2 1065.6,1196.7 1066.0,1192.2 1066.4,1193.5 1066.8,1200.4 1067.2,1197.0 1067.5,1199.6 1067.9,1194.6 1068.3,1199.7 1068.7,1195.3 1069.1,1194.9 1069.4,1197.7 1069.8,1194.3 1070.2,1192.9 1070.6,1201.7 1071.0,1199.5 1071.3,1195.4 1071.7,1197.1 1072.1,1201.2 1072.5,1195.5 1072.9,1188.9 1073.2,1205.3 1073.6,1192.3 1074.0,1195.9 1074.4,1189.9 1074.8,1189.9 1075.1,1198.8 1075.5,1193.1 1075.9,1200.0 1076.3,1197.2 1076.7,1197.3 1077.0,1200.1 1077.4,1200.2 1077.8,1202.7 1078.2,1193.2 1078.6,1195.5 1078.9,1200.5 1079.3,1200.8 1079.7,1196.3 1080.1,1193.9 1080.5,1198.3 1080.8,1187.8 1081.2,1192.4 1081.6,1202.3 1082.0,1193.8 1082.4,1205.5 1082.7,1198.8 1083.1,1199.4 1083.5,1207.9 1083.9,1201.6 1084.3,1197.4 1084.6,1196.5 1085.0,1196.2 1085.4,1191.3 1085.8,1199.8 1086.2,1198.6 1086.5,1196.1 1086.9,1201.5 1087.3,1196.4 1087.7,1192.3 1088.1,1194.6 1088.4,1198.3 1088.8,1199.5 1089.2,1205.0 1089.6,1197.0 1090.0,1200.2 1090.3,1201.9 1090.7,1200.5 1091.1,1199.4 1091.5,1194.4 1091.9,1197.0 1092.2,1206.0 1092.6,1199.0 1093.0,1198.3 1093.4,1194.3 1093.8,1199.3 1094.1,1204.4 1094.5,1196.3 1094.9,1195.1 1095.3,1198.1 1095.7,1196.6 1096.0,1196.0 1096.4,1205.9 1096.8,1201.0 1097.2,1193.3 1097.6,1198.1 1097.9,1201.5 1098.3,1197.2 1098.7,1201.1 1099.1,1194.3 1099.5,1200.1 1099.8,1198.1 1100.2,1200.2 1100.6,1198.1 1101.0,1196.0 1101.4,1199.6 1101.7,1199.9 1102.1,1200.5 1102.5,1193.5 1102.9,1196.5 1103.3,1197.4 1103.6,1197.2 1104.0,1196.9 1104.4,1198.5 1104.8,1202.9 1105.2,1204.1 1105.5,1202.2 1105.9,1200.0 1106.3,1186.6 1106.7,1195.7 1107.1,1199.8 1107.4,1194.7 1107.8,1201.8 1108.2,1195.5 1108.6,1198.4 1109.0,1196.3 1109.3,1198.7 1109.7,1192.7 1110.1,1196.6 1110.5,1194.6 1110.9,1193.8 1111.2,1191.8 1111.6,1201.0 1112.0,1193.6 1112.4,1200.0 1112.8,1196.9 1113.1,1199.0 1113.5,1197.3 1113.9,1197.1 1114.3,1192.8 1114.7,1206.5 1115.0,1200.8 1115.4,1200.6 1115.8,1189.4 1116.2,1194.8 1116.6,1194.6 1116.9,1197.8 1117.3,1194.7 1117.7,1199.3 1118.1,1197.5 1118.5,1199.9 1118.8,1201.0 1119.2,1194.2 1119.6,1194.9 1120.0,1193.9 1120.4,1200.0 1120.7,1196.8 1121.1,1195.6 1121.5,1192.7 1121.9,1198.4 1122.3,1197.0 1122.6,1197.5 1123.0,1195.9 1123.4,1192.1 1123.8,1201.5 1124.2,1197.1 1124.5,1198.0 1124.9,1194.6 1125.3,1201.8 1125.7,1194.3 1126.1,1195.5 1126.4,1194.1 1126.8,1193.3 1127.2,1199.9 1127.6,1195.6 1128.0,1193.6 1128.3,1196.6 1128.7,1196.2 1129.1,1197.3 1129.5,1195.2 1129.9,1198.1 1130.2,1191.5 1130.6,1194.1 1131.0,1199.7 1131.4,1200.2 1131.8,1191.1 1132.1,1198.6 1132.5,1197.2 1132.9,1201.3 1133.3,1193.7 1133.7,1198.7 1134.0,1200.3 1134.4,1192.6 1134.8,1195.1 1135.2,1200.7 1135.6,1196.7 1135.9,1200.6 1136.3,1198.1 1136.7,1192.7 1137.1,1197.9 1137.5,1198.9 1137.8,1195.7 1138.2,1201.2 1138.6,1193.1 1139.0,1197.5 1139.4,1196.6 1139.7,1194.9 1140.1,1192.7 1140.5,1190.8 1140.9,1193.6 1141.3,1197.3 1141.6,1195.9 1142.0,1197.4 1142.4,1197.2 1142.8,1196.4 1143.2,1198.8 1143.5,1201.0 1143.9,1192.8 1144.3,1198.9 1144.7,1192.4 1145.1,1205.7 1145.4,1194.9 1145.8,1196.8 1146.2,1201.2 1146.6,1199.6 1147.0,1201.4 1147.3,1203.1 1147.7,1197.1 1148.1,1205.0 1148.5,1195.9 1148.9,1197.2 1149.2,1201.2 1149.6,1190.1 1150.0,1196.0 1150.4,1197.5 1150.8,1201.1 1151.1,1195.8 1151.5,1201.2 1151.9,1194.6 1152.3,1201.6 1152.7,1200.9 1153.0,1196.5 1153.4,1197.3 1153.8,1197.6 1154.2,1196.9 1154.6,1196.3 1154.9,1203.0 1155.3,1199.7 1155.7,1199.8 1156.1,1192.9 1156.5,1198.2 1156.8,1202.1 1157.2,1198.7 1157.6,1196.4 1158.0,1197.9 1158.4,1201.1 1158.7,1197.7 1159.1,1190.9 1159.5,1195.6 1159.9,1198.8 1160.3,1192.8 1160.6,1198.3 1161.0,1199.9 1161.4,1206.0 1161.8,1203.4 1162.2,1199.6 1162.5,1192.1 1162.9,1199.3 1163.3,1193.2 1163.7,1194.6 1164.1,1202.1 1164.4,1195.5 1164.8,1200.6 1165.2,1198.9 1165.6,1201.4 1166.0,1197.5 1166.3,1197.6 1166.7,1203.4 1167.1,1200.5 1167.5,1199.3 1167.9,1198.0 1168.2,1199.9 1168.6,1197.5 1169.0,1200.0 1169.4,1197.5 1169.8,1191.8 1170.1,1191.9 1170.5,1195.4 1170.9,1204.6 1171.3,1202.4 1171.7,1196.2 1172.0,1194.7 1172.4,1195.7 1172.8,1196.6 1173.2,1201.6 1173.6,1195.3 1173.9,1192.0 1174.3,1195.4 1174.7,1192.9 1175.1,1202.4 1175.5,1196.6 1175.8,1197.4 1176.2,1196.9 1176.6,1190.2 1177.0,1197.8 1177.4,1198.7 1177.7,1195.5 1178.1,1198.2 1178.5,1195.7 1178.9,1196.6 1179.3,1199.7 1179.6,1195.5 1180.0,1198.7 1180.4,1197.2 1180.8,1197.0 1181.2,1195.2 1181.5,1194.5 1181.9,1197.0 1182.3,1201.1 1182.7,1198.3 1183.1,1201.2 1183.4,1197.1 1183.8,1191.5 1184.2,1201.1 1184.6,1196.8 1185.0,1200.9 1185.3,1199.6 1185.7,1200.0 1186.1,1198.6 1186.5,1186.7 1186.9,1199.9 1187.2,1198.0 1187.6,1199.7 1188.0,1200.2 1188.4,1198.2 1188.8,1199.3 1189.1,1191.9 1189.5,1197.4 1189.9,1199.5 1190.3,1199.3 1190.7,1193.9 1191.0,1190.6 1191.4,1194.9 1191.8,1197.2 1192.2,1198.0 1192.6,1202.7 1192.9,1201.3 1193.3,1194.4 1193.7,1199.2 1194.1,1195.6 1194.5,1199.8 1194.8,1194.6 1195.2,1201.5 1195.6,1195.0 1196.0,1195.7 1196.4,1193.7 1196.7,1199.7 1197.1,1197.1 1197.5,1198.3 1197.9,1199.4 1198.3,1193.8 1198.6,1202.5 1199.0,1199.4 1199.4,1197.4 1199.8,1196.6 1200.2,1195.6 1200.5,1194.6 1200.9,1199.6 1201.3,1197.0 1201.7,1196.2 1202.1,1194.3 1202.4,1196.8 1202.8,1203.3 1203.2,1197.7 1203.6,1189.1 1204.0,1187.9 1204.3,1198.4 1204.7,1191.1 1205.1,1196.8 1205.5,1198.0 1205.9,1198.2 1206.2,1202.6 1206.6,1194.3 1207.0,1196.4 1207.4,1193.5 1207.8,1191.0 1208.1,1192.8 1208.5,1200.6 1208.9,1200.6 1209.3,1192.6 1209.7,1198.2 1210.0,1194.8 1210.4,1198.5 1210.8,1192.2 1211.2,1196.4 1211.6,1195.8 1211.9,1192.2 1212.3,1193.3 1212.7,1193.5 1213.1,1195.3 1213.5,1201.1 1213.8,1200.8 1214.2,1200.8 1214.6,1197.3 1215.0,1198.6 1215.4,1191.7 1215.7,1195.4 1216.1,1199.0 1216.5,1196.4 1216.9,1192.8 1217.3,1196.8 1217.6,1195.9 1218.0,1195.7 1218.4,1193.2 1218.8,1197.4 1219.2,1194.5 1219.5,1192.3 1219.9,1195.0 1220.3,1197.0 1220.7,1199.7 1221.1,1199.0 1221.4,1188.8 1221.8,1198.6 1222.2,1196.9 1222.6,1196.6 1223.0,1199.7 1223.3,1200.8 1223.7,1197.2 1224.1,1194.4 1224.5,1192.9 1224.9,1195.6 1225.2,1196.2 1225.6,1192.4 1226.0,1200.8 1226.4,1200.1 1226.8,1197.7 1227.1,1201.3 1227.5,1197.7 1227.9,1193.3 1228.3,1197.7 1228.7,1201.6 1229.0,1193.6 1229.4,1189.9 1229.8,1197.7 1230.2,1188.3 1230.6,1190.6 1230.9,1195.4 1231.3,1192.6 1231.7,1200.0 1232.1,1194.0 1232.5,1196.1 1232.8,1197.7 1233.2,1193.9 1233.6,1195.5 1234.0,1187.2 1234.4,1200.6 1234.7,1193.8 1235.1,1192.4 1235.5,1191.1 1235.9,1193.9 1236.3,1191.0 1236.6,1193.8 1237.0,1190.7 1237.4,1187.8 1237.8,1190.1 1238.2,1189.8 1238.5,1193.9 1238.9,1193.0 1239.3,1190.7 1239.7,1193.5 1240.1,1190.1 1240.4,1192.1 1240.8,1191.2 1241.2,1193.6 1241.6,1189.0 1242.0,1191.5 1242.3,1191.8 1242.7,1188.1 1243.1,1192.0 1243.5,1191.6 1243.9,1194.9 1244.2,1187.8 1244.6,1186.5 1245.0,1185.9 1245.4,1192.2 1245.8,1189.6 1246.1,1187.9 1246.5,1192.2 1246.9,1194.3 1247.3,1197.8 1247.7,1195.5 1248.0,1188.8 1248.4,1196.1 1248.8,1188.4 1249.2,1192.4 1249.6,1193.6 1249.9,1185.7 1250.3,1191.2 1250.7,1191.0 1251.1,1198.3 1251.5,1188.5 1251.8,1193.2 1252.2,1189.9 1252.6,1190.7 1253.0,1187.1 1253.4,1193.7 1253.7,1194.6 1254.1,1194.3 1254.5,1184.2 1254.9,1183.6 1255.3,1189.8 1255.6,1193.9 1256.0,1192.7 1256.4,1189.0 1256.8,1187.4 1257.2,1195.6 1257.5,1194.7 1257.9,1187.1 1258.3,1189.4 1258.7,1189.2 1259.1,1196.7 1259.4,1191.9 1259.8,1193.3 1260.2,1186.2 1260.6,1190.2 1261.0,1188.8 1261.3,1189.7 1261.7,1190.5 1262.1,1188.8 1262.5,1185.3 1262.9,1193.0 1263.2,1185.6 1263.6,1186.1 1264.0,1182.3 1264.4,1189.9 1264.8,1189.1 1265.1,1186.3 1265.5,1185.5 1265.9,1189.1 1266.3,1187.4 1266.7,1184.8 1267.0,1189.9 1267.4,1191.4 1267.8,1189.5 1268.2,1191.1 1268.6,1188.9 1268.9,1193.4 1269.3,1191.1 1269.7,1186.7 1270.1,1191.7 1270.5,1189.0 1270.8,1185.9 1271.2,1185.3 1271.6,1186.6 1272.0,1180.7 1272.4,1184.8 1272.7,1185.7 1273.1,1181.9 1273.5,1184.2 1273.9,1183.7 1274.3,1181.7 1274.6,1186.5 1275.0,1187.7 1275.4,1188.1 1275.8,1190.8 1276.2,1186.1 1276.5,1185.0 1276.9,1186.6 1277.3,1190.9 1277.7,1192.0 1278.1,1184.4 1278.4,1187.7 1278.8,1185.7 1279.2,1188.2 1279.6,1177.6 1280.0,1184.5 1280.3,1179.4 1280.7,1174.9 1281.1,1187.1 1281.5,1182.5 1281.9,1190.1 1282.2,1188.3 1282.6,1189.8 1283.0,1188.2 1283.4,1183.6 1283.8,1186.5 1284.1,1179.8 1284.5,1180.8 1284.9,1186.7 1285.3,1191.1 1285.7,1185.5 1286.0,1180.7 1286.4,1184.3 1286.8,1186.6 1287.2,1188.0 1287.6,1184.8 1287.9,1190.2 1288.3,1187.9 1288.7,1185.4 1289.1,1182.7 1289.5,1192.2 1289.8,1182.2 1290.2,1182.5 1290.6,1180.3 1291.0,1184.3 1291.4,1177.2 1291.7,1185.1 1292.1,1177.4 1292.5,1185.2 1292.9,1177.7 1293.3,1178.2 1293.6,1179.8 1294.0,1183.0 1294.4,1181.4 1294.8,1178.6 1295.2,1181.4 1295.5,1183.9 1295.9,1175.5 1296.3,1186.1 1296.7,1181.5 1297.1,1172.1 1297.4,1181.9 1297.8,1180.5 1298.2,1179.5 1298.6,1179.7 1299.0,1179.3 1299.3,1183.4 1299.7,1181.3 1300.1,1182.6 1300.5,1179.6 1300.9,1184.7 1301.2,1179.5 1301.6,1182.0 1302.0,1179.2 1302.4,1179.1 1302.8,1182.6 1303.1,1182.3 1303.5,1179.4 1303.9,1179.5 1304.3,1177.6 1304.7,1181.0 1305.0,1179.8 1305.4,1181.3 1305.8,1178.9 1306.2,1178.0 1306.6,1180.8 1306.9,1177.1 1307.3,1180.0 1307.7,1180.8 1308.1,1182.2 1308.5,1177.5 1308.8,1177.7 1309.2,1179.7 1309.6,1176.8 1310.0,1178.1 1310.4,1176.5 1310.7,1175.6 1311.1,1173.1 1311.5,1175.9 1311.9,1177.2 1312.3,1175.9 1312.6,1174.0 1313.0,1175.5 1313.4,1179.7 1313.8,1174.3 1314.2,1171.9 1314.5,1179.7 1314.9,1172.0 1315.3,1178.7 1315.7,1175.3 1316.1,1168.5 1316.4,1172.4 1316.8,1172.1 1317.2,1171.9 1317.6,1171.6 1318.0,1174.6 1318.3,1173.4 1318.7,1176.7 1319.1,1171.0 1319.5,1171.3 1319.9,1173.8 1320.2,1171.0 1320.6,1169.6 1321.0,1172.0 1321.4,1167.3 1321.8,1166.6 1322.1,1168.7 1322.5,1172.0 1322.9,1172.8 1323.3,1166.3 1323.7,1167.6 1324.0,1170.5 1324.4,1170.0 1324.8,1166.1 1325.2,1171.7 1325.6,1167.5 1325.9,1167.9 1326.3,1165.8 1326.7,1171.6 1327.1,1171.3 1327.5,1166.6 1327.8,1171.5 1328.2,1170.5 1328.6,1169.2 1329.0,1166.6 1329.4,1169.4 1329.7,1164.1 1330.1,1164.4 1330.5,1165.0 1330.9,1167.7 1331.3,1169.9 1331.6,1159.0 1332.0,1164.8 1332.4,1162.4 1332.8,1166.4 1333.2,1160.0 1333.5,1170.4 1333.9,1162.3 1334.3,1168.9 1334.7,1159.5 1335.1,1165.4 1335.4,1169.0 1335.8,1167.6 1336.2,1159.2 1336.6,1158.8 1337.0,1157.3 1337.3,1164.0 1337.7,1157.1 1338.1,1168.3 1338.5,1164.6 1338.9,1166.7 1339.2,1159.8 1339.6,1160.6 1340.0,1161.2 1340.4,1156.1 1340.8,1155.9 1341.1,1161.0 1341.5,1158.9 1341.9,1159.8 1342.3,1155.8 1342.7,1161.8 1343.0,1164.2 1343.4,1160.7 1343.8,1157.5 1344.2,1161.8 1344.6,1161.7 1344.9,1159.6 1345.3,1155.3 1345.7,1151.7 1346.1,1164.6 1346.5,1159.8 1346.8,1156.7 1347.2,1155.4 1347.6,1149.6 1348.0,1161.3 1348.4,1157.2 1348.7,1158.5 1349.1,1157.0 1349.5,1157.0 1349.9,1159.0 1350.3,1152.6 1350.6,1154.8 1351.0,1158.9 1351.4,1161.0 1351.8,1158.4 1352.2,1158.8 1352.5,1154.0 1352.9,1154.8 1353.3,1158.0 1353.7,1157.5 1354.1,1156.4 1354.4,1157.0 1354.8,1151.5 1355.2,1151.6 1355.6,1159.3 1356.0,1157.2 1356.3,1154.3 1356.7,1158.1 1357.1,1169.3 1357.5,1155.0 1357.9,1158.5 1358.2,1157.0 1358.6,1155.2 1359.0,1154.5 1359.4,1161.0 1359.8,1155.4 1360.1,1151.1 1360.5,1163.4 1360.9,1155.0 1361.3,1160.0 1361.7,1158.3 1362.0,1156.2 1362.4,1163.4 1362.8,1154.1 1363.2,1158.4 1363.6,1159.0 1363.9,1152.3 1364.3,1154.6 1364.7,1160.4 1365.1,1164.7 1365.5,1159.9 1365.8,1149.4 1366.2,1161.5 1366.6,1151.9 1367.0,1154.5 1367.4,1157.6 1367.7,1158.4 1368.1,1157.2 1368.5,1156.8 1368.9,1166.2 1369.3,1152.7 1369.6,1158.9 1370.0,1161.6 1370.4,1160.4 1370.8,1152.2 1371.2,1162.8 1371.5,1162.7 1371.9,1155.1 1372.3,1155.7 1372.7,1162.9 1373.1,1158.8 1373.4,1154.6 1373.8,1159.9 1374.2,1155.3 1374.6,1154.5 1375.0,1150.8 1375.3,1159.6 1375.7,1155.4 1376.1,1154.9 1376.5,1156.7 1376.9,1161.1 1377.2,1158.1 1377.6,1161.7 1378.0,1158.1 1378.4,1162.6 1378.8,1164.5 1379.1,1158.7 1379.5,1158.5 1379.9,1152.9 1380.3,1156.9 1380.7,1164.9 1381.0,1161.4 1381.4,1153.2 1381.8,1155.4 1382.2,1156.8 1382.6,1159.2 1382.9,1159.4 1383.3,1159.1 1383.7,1160.6 1384.1,1159.3 1384.5,1157.2 1384.8,1160.2 1385.2,1150.1 1385.6,1156.2 1386.0,1159.0 1386.4,1161.7 1386.7,1161.7 1387.1,1164.2 1387.5,1163.8 1387.9,1160.5 1388.3,1160.3 1388.6,1161.7 1389.0,1158.0 1389.4,1158.3 1389.8,1160.6 1390.2,1156.0 1390.5,1160.6 1390.9,1160.8 1391.3,1165.0 1391.7,1155.6 1392.1,1157.8 1392.4,1164.2 1392.8,1157.8 1393.2,1161.0 1393.6,1157.3 1394.0,1164.3 1394.3,1154.9 1394.7,1157.6 1395.1,1156.5 1395.5,1163.4 1395.9,1159.2 1396.2,1152.4 1396.6,1164.3 1397.0,1152.9 1397.4,1158.7 1397.8,1160.8 1398.1,1155.5 1398.5,1154.6 1398.9,1152.2 1399.3,1150.9 1399.7,1165.3 1400.0,1159.8 1400.4,1160.3 1400.8,1149.5 1401.2,1153.4 1401.6,1150.3 1401.9,1157.5 1402.3,1161.0 1402.7,1152.0 1403.1,1151.4 1403.5,1158.6 1403.8,1149.3 1404.2,1155.4 1404.6,1150.9 1405.0,1155.1 1405.4,1150.4 1405.7,1146.3 1406.1,1152.2 1406.5,1145.9 1406.9,1152.5 1407.3,1157.3 1407.6,1154.8 1408.0,1145.1 1408.4,1143.9 1408.8,1140.3 1409.2,1145.4 1409.5,1143.5 1409.9,1145.1 1410.3,1155.3 1410.7,1149.5 1411.1,1148.4 1411.4,1145.3 1411.8,1148.0 1412.2,1149.2 1412.6,1147.7 1413.0,1150.0 1413.3,1150.1 1413.7,1144.2 1414.1,1142.6 1414.5,1150.8 1414.9,1140.9 1415.2,1147.0 1415.6,1146.5 1416.0,1151.2 1416.4,1142.6 1416.8,1139.9 1417.1,1150.2 1417.5,1141.6 1417.9,1136.3 1418.3,1139.8 1418.7,1144.2 1419.0,1148.6 1419.4,1145.9 1419.8,1143.7 1420.2,1141.2 1420.6,1144.2 1420.9,1146.2 1421.3,1141.2 1421.7,1144.8 1422.1,1150.1 1422.5,1143.4 1422.8,1143.1 1423.2,1143.3 1423.6,1144.9 1424.0,1142.0 1424.4,1147.4 1424.7,1145.9 1425.1,1147.0 1425.5,1143.1 1425.9,1147.6 1426.3,1150.5 1426.6,1144.1 1427.0,1143.8 1427.4,1144.8 1427.8,1142.8 1428.2,1144.2 1428.5,1149.4 1428.9,1146.5 1429.3,1144.4 1429.7,1144.2 1430.1,1142.6 1430.4,1148.9 1430.8,1143.0 1431.2,1146.2 1431.6,1146.5 1432.0,1140.5 1432.3,1145.7 1432.7,1148.3 1433.1,1139.3 1433.5,1142.6 1433.9,1147.5 1434.2,1146.6 1434.6,1149.3 1435.0,1152.2 1435.4,1148.6 1435.8,1150.0 1436.1,1150.1 1436.5,1141.9 1436.9,1148.4 1437.3,1149.5 1437.7,1153.8 1438.0,1149.2 1438.4,1153.2 1438.8,1153.7 1439.2,1147.5 1439.6,1146.2 1439.9,1156.6 1440.3,1150.2 1440.7,1156.9 1441.1,1153.9 1441.5,1156.3 1441.8,1147.4 1442.2,1161.9 1442.6,1144.9 1443.0,1150.1 1443.4,1156.2 1443.7,1159.4 1444.1,1158.1 1444.5,1159.1 1444.9,1152.4 1445.3,1157.9 1445.6,1161.5 1446.0,1151.3 1446.4,1153.3 1446.8,1158.3 1447.2,1162.7 1447.5,1160.6 1447.9,1154.5 1448.3,1156.5 1448.7,1157.5 1449.1,1153.6 1449.4,1166.3 1449.8,1157.7 1450.2,1157.5 1450.6,1153.7 1451.0,1160.7 1451.3,1160.0 1451.7,1164.8 1452.1,1163.7 1452.5,1160.4 1452.9,1163.1 1453.2,1168.0 1453.6,1158.8 1454.0,1160.2 1454.4,1164.4 1454.8,1159.8 1455.1,1163.8 1455.5,1158.5 1455.9,1165.3 1456.3,1165.0 1456.7,1160.7 1457.0,1158.5 1457.4,1164.2 1457.8,1163.4 1458.2,1158.6 1458.6,1167.1 1458.9,1161.1 1459.3,1169.1 1459.7,1168.7 1460.1,1165.1 1460.5,1166.9 1460.8,1159.5 1461.2,1164.7 1461.6,1166.8 1462.0,1160.6 1462.4,1160.1 1462.7,1170.9 1463.1,1166.9 1463.5,1170.7 1463.9,1169.4 1464.3,1156.3 1464.6,1162.4 1465.0,1166.0 1465.4,1166.9 1465.8,1167.4 1466.2,1164.8 1466.5,1167.0 1466.9,1164.0 1467.3,1172.3 1467.7,1164.6 1468.1,1166.1 1468.4,1171.5 1468.8,1166.6 1469.2,1169.3 1469.6,1165.7 1470.0,1168.9 1470.3,1170.6 1470.7,1164.0 1471.1,1163.6 1471.5,1165.5 1471.9,1172.6 1472.2,1171.8 1472.6,1172.8 1473.0,1175.2 1473.4,1168.7 1473.8,1167.6 1474.1,1169.8 1474.5,1171.1 1474.9,1174.2 1475.3,1170.8 1475.7,1172.4 1476.0,1168.4 1476.4,1165.0 1476.8,1177.2 1477.2,1171.2 1477.6,1169.4 1477.9,1171.2 1478.3,1178.7 1478.7,1169.2 1479.1,1169.3 1479.5,1168.4 1479.8,1169.6 1480.2,1164.0 1480.6,1175.5 1481.0,1171.1 1481.4,1168.0 1481.7,1175.0 1482.1,1169.9 1482.5,1176.4 1482.9,1170.6 1483.3,1171.1 1483.6,1172.4 1484.0,1173.4 1484.4,1169.2 1484.8,1169.3 1485.2,1172.2 1485.5,1164.8 1485.9,1161.4 1486.3,1171.2 1486.7,1172.1 1487.1,1175.6 1487.4,1171.2 1487.8,1175.6 1488.2,1176.5 1488.6,1172.1 1489.0,1169.5 1489.3,1168.4 1489.7,1171.1 1490.1,1166.8 1490.5,1172.6 1490.9,1174.7 1491.2,1169.8 1491.6,1175.3 1492.0,1168.9 1492.4,1172.2 1492.8,1172.8 1493.1,1165.2 1493.5,1171.1 1493.9,1175.3 1494.3,1176.2 1494.7,1176.6 1495.0,1169.7 1495.4,1172.7 1495.8,1166.7 1496.2,1174.7 1496.6,1172.3 1496.9,1175.4 1497.3,1167.7 1497.7,1177.0 1498.1,1172.6 1498.5,1167.7 1498.8,1175.1 1499.2,1180.0 1499.6,1173.4 1500.0,1173.4 1500.4,1166.9 1500.7,1171.7 1501.1,1176.0 1501.5,1173.5 1501.9,1172.0 1502.3,1170.1 1502.6,1179.3 1503.0,1170.7 1503.4,1166.8 1503.8,1173.4 1504.2,1171.5 1504.5,1171.2 1504.9,1169.9 1505.3,1169.7 1505.7,1168.7 1506.1,1176.4 1506.4,1169.2 1506.8,1169.6 1507.2,1173.5 1507.6,1175.3 1508.0,1174.1 1508.3,1171.8 1508.7,1170.6 1509.1,1173.2 1509.5,1171.3 1509.9,1172.2 1510.2,1176.3 1510.6,1172.9 1511.0,1176.1 1511.4,1171.1 1511.8,1172.1 1512.1,1173.4 1512.5,1174.5 1512.9,1169.4 1513.3,1170.0 1513.7,1179.9 1514.0,1174.6 1514.4,1171.8 1514.8,1168.2 1515.2,1172.0 1515.6,1177.9 1515.9,1179.2 1516.3,1170.7 1516.7,1175.2 1517.1,1177.7 1517.5,1178.3 1517.8,1176.8 1518.2,1176.5 1518.6,1178.3 1519.0,1175.3 1519.4,1178.7 1519.7,1180.5 1520.1,1177.1 1520.5,1183.3 1520.9,1182.4 1521.3,1177.5 1521.6,1177.9 1522.0,1180.7 1522.4,1181.6 1522.8,1182.1 1523.2,1181.5 1523.5,1180.5 1523.9,1189.0 1524.3,1188.1 1524.7,1183.4 1525.1,1183.7 1525.4,1184.3 1525.8,1186.2 1526.2,1183.8 1526.6,1186.8 1527.0,1176.3 1527.3,1180.5 1527.7,1180.8 1528.1,1177.7 1528.5,1182.0 1528.9,1181.5 1529.2,1180.5 1529.6,1180.2 1530.0,1185.9 1530.4,1181.1 1530.8,1186.1 1531.1,1181.4 1531.5,1185.0 1531.9,1179.8 1532.3,1178.5 1532.7,1186.2 1533.0,1184.6 1533.4,1192.8 1533.8,1187.2 1534.2,1186.7 1534.6,1186.2 1534.9,1183.6 1535.3,1187.4 1535.7,1183.9 1536.1,1187.3 1536.5,1183.3 1536.8,1189.7 1537.2,1185.8 1537.6,1184.8 1538.0,1187.2 1538.4,1183.9 1538.7,1179.3 1539.1,1184.9 1539.5,1188.7 1539.9,1183.0 1540.3,1188.6 1540.6,1188.5 1541.0,1187.6 1541.4,1179.6 1541.8,1195.2 1542.2,1190.7 1542.5,1186.1 1542.9,1182.9 1543.3,1182.1 1543.7,1180.1 1544.1,1184.5 1544.4,1189.6 1544.8,1181.3 1545.2,1185.1 1545.6,1188.4 1546.0,1189.3 1546.3,1186.9 1546.7,1183.2 1547.1,1192.6 1547.5,1187.9 1547.9,1187.9 1548.2,1189.3 1548.6,1183.5 1549.0,1182.0 1549.4,1182.2 1549.8,1191.2 1550.1,1187.6 1550.5,1181.3 1550.9,1181.9 1551.3,1186.2 1551.7,1181.5 1552.0,1185.4 1552.4,1186.9 1552.8,1187.0 1553.2,1189.8 1553.6,1192.1 1553.9,1186.5 1554.3,1187.0 1554.7,1191.9 1555.1,1187.6 1555.5,1187.2 1555.8,1189.4 1556.2,1187.1 1556.6,1186.1 1557.0,1190.3 1557.4,1185.0 1557.7,1185.9 1558.1,1187.4 1558.5,1190.0 1558.9,1181.4 1559.3,1191.5 1559.6,1190.0 1560.0,1183.2 1560.4,1190.0 1560.8,1184.9 1561.2,1191.2 1561.5,1186.9 1561.9,1188.4 1562.3,1182.5 1562.7,1187.0 1563.1,1185.9 1563.4,1189.6 1563.8,1185.3 1564.2,1189.1 1564.6,1195.8 1565.0,1187.3 1565.3,1191.3 1565.7,1186.0 1566.1,1190.5 1566.5,1183.6 1566.9,1192.2 1567.2,1186.1 1567.6,1185.0 1568.0,1185.2 1568.4,1185.7 1568.8,1190.0 1569.1,1188.7 1569.5,1191.3 1569.9,1190.1 1570.3,1186.1 1570.7,1187.0 1571.0,1192.0 1571.4,1193.7 1571.8,1192.3 1572.2,1191.6 1572.6,1185.1 1572.9,1181.0 1573.3,1192.7 1573.7,1188.0 1574.1,1185.0 1574.5,1188.0 1574.8,1190.9 1575.2,1187.5 1575.6,1185.2 1576.0,1187.5 1576.4,1191.3 1576.7,1191.1 1577.1,1180.4 1577.5,1190.8 1577.9,1188.4 1578.3,1192.3 1578.6,1180.7 1579.0,1187.8 1579.4,1186.3 1579.8,1187.4 1580.2,1184.5 1580.5,1186.8 1580.9,1184.7 1581.3,1190.3 1581.7,1199.1 1582.1,1188.7 1582.4,1186.9 1582.8,1200.9 1583.2,1188.4 1583.6,1187.5 1584.0,1191.8 1584.3,1185.0 1584.7,1187.8 1585.1,1183.4 1585.5,1190.5 1585.9,1185.7 1586.2,1185.7 1586.6,1186.2 1587.0,1191.9 1587.4,1186.9 1587.8,1187.7 1588.1,1190.6 1588.5,1193.4 1588.9,1180.0 1589.3,1191.6 1589.7,1192.1 1590.0,1192.3 1590.4,1190.5 1590.8,1185.6 1591.2,1190.0 1591.6,1189.3 1591.9,1189.4 1592.3,1187.7 1592.7,1187.5 1593.1,1180.6 1593.5,1189.6 1593.8,1191.7 1594.2,1192.7 1594.6,1194.5 1595.0,1193.2 1595.4,1187.6 1595.7,1191.3 1596.1,1187.2 1596.5,1193.2 1596.9,1187.5 1597.3,1194.5 1597.6,1184.6 1598.0,1190.2 1598.4,1189.9 1598.8,1186.8 1599.2,1186.7 1599.5,1186.7 1599.9,1193.2 1600.3,1187.2 1600.7,1185.1 1601.1,1185.3 1601.4,1192.0 1601.8,1187.2 1602.2,1196.9 1602.6,1197.1 1603.0,1190.9 1603.3,1188.0 1603.7,1193.6 1604.1,1187.0 1604.5,1193.4 1604.9,1191.5 1605.2,1189.6 1605.6,1187.0 1606.0,1190.5 1606.4,1189.1 1606.8,1190.2 1607.1,1188.7 1607.5,1194.9 1607.9,1183.7 1608.3,1184.3 1608.7,1191.2 1609.0,1189.6 1609.4,1184.1 1609.8,1191.0 1610.2,1189.1 1610.6,1179.3 1610.9,1194.9 1611.3,1187.7 1611.7,1187.2 1612.1,1186.9 1612.5,1183.3 1612.8,1186.0 1613.2,1192.1 1613.6,1186.4 1614.0,1189.3 1614.4,1182.0 1614.7,1190.0 1615.1,1187.7 1615.5,1189.0 1615.9,1188.3 1616.3,1188.2 1616.6,1187.8 1617.0,1193.2 1617.4,1193.4 1617.8,1188.0 1618.2,1190.6 1618.5,1186.3 1618.9,1186.0 1619.3,1187.4 1619.7,1193.0 1620.1,1179.3 1620.4,1186.0 1620.8,1190.4 1621.2,1190.8 1621.6,1188.9 1622.0,1185.7 1622.3,1190.4 1622.7,1192.1 1623.1,1192.9 1623.5,1190.4 1623.9,1187.9 1624.2,1190.8 1624.6,1192.8 1625.0,1189.1 1625.4,1189.3 1625.8,1184.4 1626.1,1193.8 1626.5,1189.3 1626.9,1181.6 1627.3,1190.7 1627.7,1194.6 1628.0,1180.4 1628.4,1195.0 1628.8,1188.9 1629.2,1191.5 1629.6,1185.0 1629.9,1190.4 1630.3,1188.6 1630.7,1190.3 1631.1,1184.3 1631.5,1185.5 1631.8,1183.2 1632.2,1195.7 1632.6,1191.2 1633.0,1187.6 1633.4,1188.6 1633.7,1185.0 1634.1,1187.0 1634.5,1189.6 1634.9,1182.1 1635.3,1181.7 1635.6,1183.5 1636.0,1185.0 1636.4,1192.6 1636.8,1188.3 1637.2,1187.2 1637.5,1191.5 1637.9,1190.2 1638.3,1189.3 1638.7,1188.8 1639.1,1189.1 1639.4,1181.2 1639.8,1192.4 1640.2,1190.7 1640.6,1191.9 1641.0,1191.8 1641.3,1189.0 1641.7,1190.4 1642.1,1185.1 1642.5,1192.4 1642.9,1191.7 1643.2,1188.4 1643.6,1186.2 1644.0,1188.6 1644.4,1180.8 1644.8,1186.0 1645.1,1197.3 1645.5,1186.9 1645.9,1185.2 1646.3,1187.3 1646.7,1184.4 1647.0,1182.1 1647.4,1189.0 1647.8,1180.8 1648.2,1187.8 1648.6,1186.2 1648.9,1186.2 1649.3,1187.6 1649.7,1185.6 1650.1,1192.6 1650.5,1186.7 1650.8,1194.3 1651.2,1185.7 1651.6,1186.0 1652.0,1185.0 1652.4,1179.8 1652.7,1180.0 1653.1,1194.0 1653.5,1187.5 1653.9,1184.8 1654.3,1193.0 1654.6,1189.9 1655.0,1191.0 1655.4,1185.3 1655.8,1185.0 1656.2,1190.0 1656.5,1181.7 1656.9,1178.6 1657.3,1187.5 1657.7,1186.1 1658.1,1185.1 1658.4,1183.3 1658.8,1188.1 1659.2,1180.3 1659.6,1182.2 1660.0,1185.5 1660.3,1182.6 1660.7,1184.7 1661.1,1179.8 1661.5,1181.8 1661.9,1187.4 1662.2,1182.7 1662.6,1189.5 1663.0,1189.3 1663.4,1181.0 1663.8,1181.3 1664.1,1185.6 1664.5,1185.2 1664.9,1185.3 1665.3,1186.7 1665.7,1180.7 1666.0,1190.4 1666.4,1183.4 1666.8,1181.4 1667.2,1181.1 1667.6,1190.1 1667.9,1193.4 1668.3,1187.3 1668.7,1186.8 1669.1,1184.3 1669.5,1180.6 1669.8,1184.1 1670.2,1177.4 1670.6,1183.4 1671.0,1192.3 1671.4,1181.4 1671.7,1193.0 1672.1,1183.1 1672.5,1179.6 1672.9,1186.4 1673.3,1185.3 1673.6,1188.6 1674.0,1186.5 1674.4,1178.8 1674.8,1183.7 1675.2,1186.4 1675.5,1183.4 1675.9,1190.4 1676.3,1190.9 1676.7,1182.5 1677.1,1184.6 1677.4,1182.4 1677.8,1189.1 1678.2,1189.1 1678.6,1178.0 1679.0,1180.8 1679.3,1188.1 1679.7,1179.4 1680.1,1185.8 1680.5,1186.4 1680.9,1182.8 1681.2,1191.7 1681.6,1188.6 1682.0,1183.8 1682.4,1188.3 1682.8,1183.5 1683.1,1187.4 1683.5,1188.3 1683.9,1184.9 1684.3,1178.6 1684.7,1177.6 1685.0,1186.7 1685.4,1185.9 1685.8,1186.8 1686.2,1184.3 1686.6,1178.0 1686.9,1179.6 1687.3,1184.6 1687.7,1190.0 1688.1,1182.4 1688.5,1192.1 1688.8,1175.8 1689.2,1177.9 1689.6,1181.7 1690.0,1186.7 1690.4,1180.0 1690.7,1180.2 1691.1,1178.4 1691.5,1184.2 1691.9,1186.2 1692.3,1188.8 1692.6,1179.9 1693.0,1183.9 1693.4,1180.5 1693.8,1190.2 1694.2,1180.9 1694.5,1187.4 1694.9,1185.1 1695.3,1176.5 1695.7,1185.4 1696.1,1186.9 1696.4,1178.5 1696.8,1186.3 1697.2,1182.1 1697.6,1186.8 1698.0,1185.5 1698.3,1180.2 1698.7,1184.3 1699.1,1182.8 1699.5,1184.0 1699.9,1179.9 1700.2,1187.1 1700.6,1183.1 1701.0,1183.8 1701.4,1177.5 1701.8,1183.6 1702.1,1182.0 1702.5,1177.3 1702.9,1183.5 1703.3,1182.9 1703.7,1185.7 1704.0,1184.6 1704.4,1187.6 1704.8,1179.7 1705.2,1189.4 1705.6,1188.6 1705.9,1185.7 1706.3,1184.3 1706.7,1178.8 1707.1,1182.2 1707.5,1176.2 1707.8,1180.5 1708.2,1182.3 1708.6,1184.2 1709.0,1188.3 1709.4,1174.4 1709.7,1174.7 1710.1,1179.7 1710.5,1180.4 1710.9,1177.0 1711.3,1181.9 1711.6,1181.8 1712.0,1184.8 1712.4,1179.9 1712.8,1182.4 1713.2,1196.5 1713.5,1180.9 1713.9,1187.3 1714.3,1184.8 1714.7,1174.8 1715.1,1178.8 1715.4,1177.2 1715.8,1185.0 1716.2,1180.5 1716.6,1180.7 1717.0,1181.3 1717.3,1187.0 1717.7,1180.9 1718.1,1179.6 1718.5,1184.2 1718.9,1180.1 1719.2,1182.2 1719.6,1184.5 1720.0,1184.6 1720.4,1183.6 1720.8,1177.0 1721.1,1173.6 1721.5,1181.9 1721.9,1188.2 1722.3,1180.8 1722.7,1181.5 1723.0,1184.3 1723.4,1181.5 1723.8,1187.7 1724.2,1186.2 1724.6,1174.6 1724.9,1182.7 1725.3,1183.8 1725.7,1181.2 1726.1,1184.6 1726.5,1179.3 1726.8,1182.6 1727.2,1180.6 1727.6,1180.7 1728.0,1186.7 1728.4,1184.1 1728.7,1183.7 1729.1,1184.9 1729.5,1188.2 1729.9,1180.2 1730.3,1186.4 1730.6,1188.7 1731.0,1182.7 1731.4,1184.3 1731.8,1187.5 1732.2,1181.5 1732.5,1184.4 1732.9,1179.7 1733.3,1187.1 1733.7,1186.3 1734.1,1179.9 1734.4,1179.2 1734.8,1182.4 1735.2,1179.9 1735.6,1177.8 1736.0,1179.0 1736.3,1182.4 1736.7,1179.6 1737.1,1177.0 1737.5,1177.0 1737.9,1186.0 1738.2,1179.6 1738.6,1181.9 1739.0,1180.2 1739.4,1181.7 1739.8,1180.4 1740.1,1186.6 1740.5,1172.3 1740.9,1185.4 1741.3,1178.3 1741.7,1183.5 1742.0,1181.4 1742.4,1187.3 1742.8,1182.5 1743.2,1181.5 1743.6,1180.0 1743.9,1178.4 1744.3,1177.8 1744.7,1179.8 1745.1,1176.7 1745.5,1178.6 1745.8,1178.0 1746.2,1177.6 1746.6,1178.4 1747.0,1180.3 1747.4,1178.0 1747.7,1182.0 1748.1,1182.2 1748.5,1175.3 1748.9,1180.4 1749.3,1177.6 1749.6,1177.6 1750.0,1181.7 1750.4,1179.7 1750.8,1179.6 1751.2,1181.8 1751.5,1183.9 1751.9,1184.9 1752.3,1177.5 1752.7,1182.4 1753.1,1177.0 1753.4,1169.6 1753.8,1174.5 1754.2,1180.4 1754.6,1184.2 1755.0,1183.1 1755.3,1183.8"/>
<polyline class="c" stroke="#00f" stroke-width="2.10" points="547.7,1276.5 548.1,1275.0 548.5,1274.8 548.8,1272.7 549.2,1274.7 549.6,1274.7 550.0,1275.2 550.4,1274.7 550.7,1275.5 551.1,1275.1 551.5,1274.3 551.9,1277.0 552.3,1277.1 552.6,1278.2 553.0,1276.4 553.4,1276.0 553.8,1276.0 554.2,1274.9 554.5,1278.0 554.9,1275.7 555.3,1275.7 555.7,1276.9 556.1,1279.0 556.4,1277.7 556.8,1276.3 557.2,1276.8 557.6,1278.4 558.0,1277.6 558.3,1277.0 558.7,1277.7 559.1,1279.0 559.5,1280.5 559.9,1276.8 560.2,1277.6 560.6,1277.5 561.0,1275.7 561.4,1277.5 561.8,1277.5 562.1,1280.0 562.5,1278.6 562.9,1277.0 563.3,1279.7 563.7,1278.6 564.0,1277.1 564.4,1278.5 564.8,1278.6 565.2,1278.3 565.6,1279.4 565.9,1276.9 566.3,1279.2 566.7,1280.8 567.1,1280.6 567.5,1281.0 567.8,1281.1 568.2,1281.6 568.6,1278.6 569.0,1280.9 569.4,1277.9 569.7,1279.4 570.1,1277.9 570.5,1281.4 570.9,1281.8 571.3,1280.0 571.6,1282.3 572.0,1279.6 572.4,1280.5 572.8,1280.6 573.2,1279.2 573.5,1281.0 573.9,1282.7 574.3,1279.3 574.7,1281.5 575.1,1280.3 575.4,1282.5 575.8,1281.0 576.2,1281.2 576.6,1281.1 577.0,1280.5 577.3,1278.5 577.7,1281.6 578.1,1278.2 578.5,1279.9 578.9,1280.1 579.2,1278.2 579.6,1279.1 580.0,1280.0 580.4,1278.4 580.8,1277.1 581.1,1274.5 581.5,1276.4 581.9,1276.3 582.3,1275.8 582.7,1274.6 583.0,1275.4 583.4,1273.7 583.8,1273.6 584.2,1274.0 584.6,1271.8 584.9,1272.2 585.3,1275.0 585.7,1273.8 586.1,1271.9 586.5,1274.0 586.8,1275.6 587.2,1277.2 587.6,1276.8 588.0,1276.8 588.4,1277.0 588.7,1278.9 589.1,1278.8 589.5,1278.1 589.9,1278.7 590.3,1278.6 590.6,1280.1 591.0,1278.6 591.4,1280.0 591.8,1280.5 592.2,1280.1 592.5,1278.5 592.9,1281.0 593.3,1278.6 593.7,1279.8 594.1,1278.4 594.4,1277.2 594.8,1279.3 595.2,1279.3 595.6,1278.8 596.0,1279.1 596.3,1277.9 596.7,1277.6 597.1,1278.2 597.5,1280.4 597.9,1279.0 598.2,1277.3 598.6,1278.2 599.0,1276.7 599.4,1276.3 599.8,1277.3 600.1,1275.3 600.5,1273.5 600.9,1274.0 601.3,1274.9 601.7,1274.7 602.0,1275.9 602.4,1273.7 602.8,1275.3 603.2,1275.0 603.6,1274.3 603.9,1275.5 604.3,1275.1 604.7,1273.5 605.1,1275.7 605.5,1273.1 605.8,1274.6 606.2,1274.5 606.6,1275.3 607.0,1274.4 607.4,1275.7 607.7,1276.2 608.1,1278.1 608.5,1276.6 608.9,1278.0 609.3,1277.9 609.6,1276.9 610.0,1281.7 610.4,1278.8 610.8,1277.3 611.2,1280.8 611.5,1278.1 611.9,1279.9 612.3,1280.5 612.7,1278.8 613.1,1279.1 613.4,1279.0 613.8,1279.5 614.2,1277.8 614.6,1278.2 615.0,1279.5 615.3,1280.9 615.7,1280.5 616.1,1281.7 616.5,1280.6 616.9,1279.2 617.2,1279.7 617.6,1277.5 618.0,1278.8 618.4,1278.7 618.8,1280.2 619.1,1280.7 619.5,1279.3 619.9,1279.3 620.3,1278.2 620.7,1279.8 621.0,1280.3 621.4,1280.5 621.8,1279.1 622.2,1282.3 622.6,1281.4 622.9,1279.9 623.3,1279.5 623.7,1279.7 624.1,1280.3 624.5,1280.1 624.8,1280.7 625.2,1281.0 625.6,1281.7 626.0,1281.4 626.4,1280.0 626.7,1280.6 627.1,1279.7 627.5,1279.5 627.9,1282.4 628.3,1279.6 628.6,1282.5 629.0,1279.8 629.4,1280.5 629.8,1281.5 630.2,1280.2 630.5,1280.7 630.9,1279.9 631.3,1279.7 631.7,1280.0 632.1,1279.5 632.4,1282.1 632.8,1280.1 633.2,1282.2 633.6,1277.2 634.0,1280.3 634.3,1280.9 634.7,1280.0 635.1,1281.6 635.5,1281.0 635.9,1280.0 636.2,1280.8 636.6,1283.5 637.0,1280.6 637.4,1280.7 637.8,1279.8 638.1,1280.5 638.5,1278.9 638.9,1280.2 639.3,1283.2 639.7,1281.6 640.0,1281.1 640.4,1281.7 640.8,1282.6 641.2,1281.1 641.6,1282.8 641.9,1281.7 642.3,1280.7 642.7,1282.5 643.1,1277.8 643.5,1279.9 643.8,1280.8 644.2,1279.5 644.6,1280.4 645.0,1279.8 645.4,1279.8 645.7,1283.7 646.1,1281.3 646.5,1280.6 646.9,1282.2 647.3,1280.4 647.6,1281.7 648.0,1281.1 648.4,1282.6 648.8,1279.1 649.2,1281.6 649.5,1280.9 649.9,1279.5 650.3,1282.0 650.7,1279.8 651.1,1282.7 651.4,1281.4 651.8,1281.7 652.2,1281.0 652.6,1281.9 653.0,1278.8 653.3,1281.0 653.7,1280.2 654.1,1281.3 654.5,1280.9 654.9,1281.7 655.2,1280.1 655.6,1283.2 656.0,1283.7 656.4,1280.9 656.8,1281.1 657.1,1281.5 657.5,1282.6 657.9,1283.3 658.3,1279.8 658.7,1280.5 659.0,1280.0 659.4,1280.0 659.8,1279.4 660.2,1281.7 660.6,1280.0 660.9,1283.0 661.3,1282.4 661.7,1280.2 662.1,1280.2 662.5,1280.7 662.8,1283.0 663.2,1280.5 663.6,1279.7 664.0,1281.4 664.4,1281.9 664.7,1280.8 665.1,1283.4 665.5,1281.8 665.9,1282.1 666.3,1280.6 666.6,1281.6 667.0,1281.4 667.4,1279.0 667.8,1282.0 668.2,1279.6 668.5,1281.7 668.9,1280.0 669.3,1284.0 669.7,1282.1 670.1,1282.7 670.4,1282.8 670.8,1280.3 671.2,1279.2 671.6,1281.4 672.0,1282.9 672.3,1282.0 672.7,1282.8 673.1,1283.0 673.5,1280.2 673.9,1282.2 674.2,1284.2 674.6,1281.3 675.0,1279.6 675.4,1281.7 675.8,1281.5 676.1,1282.5 676.5,1281.0 676.9,1282.1 677.3,1279.5 677.7,1283.0 678.0,1283.9 678.4,1283.6 678.8,1280.3 679.2,1282.5 679.6,1278.7 679.9,1282.4 680.3,1282.0 680.7,1281.0 681.1,1282.5 681.5,1282.3 681.8,1283.2 682.2,1282.3 682.6,1282.4 683.0,1280.0 683.4,1280.9 683.7,1281.6 684.1,1282.5 684.5,1282.2 684.9,1283.9 685.3,1281.2 685.6,1281.9 686.0,1282.5 686.4,1282.0 686.8,1282.8 687.2,1281.6 687.5,1283.9 687.9,1281.9 688.3,1283.5 688.7,1282.2 689.1,1284.0 689.4,1280.7 689.8,1282.9 690.2,1281.8 690.6,1282.5 691.0,1283.7 691.3,1281.0 691.7,1280.8 692.1,1281.2 692.5,1282.6 692.9,1280.2 693.2,1282.4 693.6,1280.8 694.0,1281.0 694.4,1281.9 694.8,1282.8 695.1,1281.6 695.5,1281.8 695.9,1282.3 696.3,1282.0 696.7,1279.3 697.0,1281.9 697.4,1282.4 697.8,1283.6 698.2,1284.7 698.6,1283.1 698.9,1282.4 699.3,1281.3 699.7,1282.5 700.1,1283.3 700.5,1283.8 700.8,1281.4 701.2,1282.6 701.6,1283.3 702.0,1284.5 702.4,1282.7 702.7,1281.8 703.1,1281.6 703.5,1282.0 703.9,1281.6 704.3,1283.3 704.6,1283.6 705.0,1283.2 705.4,1283.8 705.8,1281.9 706.2,1282.8 706.5,1282.0 706.9,1282.5 707.3,1283.8 707.7,1282.4 708.1,1280.3 708.4,1282.1 708.8,1281.6 709.2,1280.7 709.6,1281.5 710.0,1283.5 710.3,1284.4 710.7,1281.9 711.1,1283.6 711.5,1283.8 711.9,1281.1 712.2,1282.4 712.6,1282.4 713.0,1282.7 713.4,1280.6 713.8,1282.1 714.1,1283.7 714.5,1283.9 714.9,1284.6 715.3,1282.1 715.7,1284.6 716.0,1283.2 716.4,1280.9 716.8,1283.4 717.2,1282.1 717.6,1283.1 717.9,1282.4 718.3,1283.9 718.7,1282.8 719.1,1282.2 719.5,1283.6 719.8,1282.8 720.2,1282.1 720.6,1284.0 721.0,1282.1 721.4,1281.8 721.7,1281.9 722.1,1280.9 722.5,1281.9 722.9,1284.7 723.3,1281.5 723.6,1282.6 724.0,1281.3 724.4,1281.9 724.8,1284.3 725.2,1283.6 725.5,1281.9 725.9,1282.6 726.3,1281.7 726.7,1281.7 727.1,1281.6 727.4,1281.6 727.8,1283.0 728.2,1283.4 728.6,1283.2 729.0,1282.5 729.3,1281.2 729.7,1282.6 730.1,1281.7 730.5,1283.7 730.9,1283.4 731.2,1283.6 731.6,1282.4 732.0,1280.7 732.4,1283.9 732.8,1284.2 733.1,1281.1 733.5,1283.0 733.9,1284.2 734.3,1281.7 734.7,1284.9 735.0,1282.5 735.4,1281.7 735.8,1284.5 736.2,1283.3 736.6,1282.3 736.9,1284.0 737.3,1280.8 737.7,1285.1 738.1,1282.1 738.5,1283.4 738.8,1282.7 739.2,1283.6 739.6,1284.2 740.0,1282.2 740.4,1284.1 740.7,1282.9 741.1,1282.5 741.5,1283.0 741.9,1282.1 742.3,1282.4 742.6,1284.4 743.0,1283.2 743.4,1284.7 743.8,1283.9 744.2,1282.3 744.5,1281.3 744.9,1282.7 745.3,1283.8 745.7,1283.5 746.1,1282.6 746.4,1284.7 746.8,1281.6 747.2,1282.2 747.6,1283.8 748.0,1286.2 748.3,1284.2 748.7,1282.6 749.1,1284.4 749.5,1284.5 749.9,1284.8 750.2,1283.3 750.6,1282.9 751.0,1284.0 751.4,1284.3 751.8,1285.7 752.1,1286.3 752.5,1283.1 752.9,1283.4 753.3,1283.9 753.7,1283.7 754.0,1284.6 754.4,1284.6 754.8,1284.4 755.2,1285.6 755.6,1283.9 755.9,1282.9 756.3,1282.4 756.7,1283.0 757.1,1283.0 757.5,1282.1 757.8,1285.0 758.2,1284.5 758.6,1283.8 759.0,1283.3 759.4,1282.5 759.7,1283.3 760.1,1286.5 760.5,1281.8 760.9,1284.5 761.3,1285.3 761.6,1284.6 762.0,1284.1 762.4,1285.3 762.8,1283.2 763.2,1285.1 763.5,1286.1 763.9,1283.3 764.3,1283.6 764.7,1284.7 765.1,1285.7 765.4,1286.1 765.8,1285.4 766.2,1283.8 766.6,1283.3 767.0,1284.9 767.3,1285.1 767.7,1283.4 768.1,1284.7 768.5,1285.1 768.9,1285.9 769.2,1283.6 769.6,1285.3 770.0,1283.4 770.4,1284.3 770.8,1284.7 771.1,1286.5 771.5,1288.6 771.9,1285.1 772.3,1285.4 772.7,1286.0 773.0,1283.3 773.4,1285.7 773.8,1283.4 774.2,1286.7 774.6,1286.5 774.9,1285.5 775.3,1284.0 775.7,1286.8 776.1,1285.2 776.5,1285.1 776.8,1285.6 777.2,1283.0 777.6,1285.5 778.0,1286.1 778.4,1285.4 778.7,1285.2 779.1,1283.9 779.5,1285.8 779.9,1285.3 780.3,1285.1 780.6,1284.4 781.0,1286.1 781.4,1286.5 781.8,1285.6 782.2,1286.2 782.5,1286.7 782.9,1287.0 783.3,1285.4 783.7,1284.9 784.1,1284.7 784.4,1285.2 784.8,1285.8 785.2,1286.3 785.6,1284.7 786.0,1285.4 786.3,1284.1 786.7,1286.7 787.1,1284.8 787.5,1285.7 787.9,1284.5 788.2,1285.0 788.6,1284.5 789.0,1287.3 789.4,1285.7 789.8,1285.2 790.1,1284.3 790.5,1284.7 790.9,1286.0 791.3,1287.3 791.7,1283.8 792.0,1284.4 792.4,1285.2 792.8,1284.7 793.2,1283.5 793.6,1285.5 793.9,1286.3 794.3,1283.7 794.7,1285.7 795.1,1286.6 795.5,1286.6 795.8,1285.0 796.2,1288.1 796.6,1286.1 797.0,1284.6 797.4,1286.6 797.7,1284.2 798.1,1286.5 798.5,1284.1 798.9,1286.4 799.3,1284.9 799.6,1286.8 800.0,1286.4 800.4,1286.1 800.8,1285.6 801.2,1286.8 801.5,1283.5 801.9,1286.1 802.3,1286.0 802.7,1286.2 803.1,1286.5 803.4,1289.8 803.8,1285.7 804.2,1286.5 804.6,1285.8 805.0,1287.4 805.3,1283.3 805.7,1287.5 806.1,1284.8 806.5,1283.0 806.9,1284.4 807.2,1285.4 807.6,1285.8 808.0,1285.5 808.4,1286.5 808.8,1285.6 809.1,1285.5 809.5,1283.1 809.9,1286.1 810.3,1286.7 810.7,1285.1 811.0,1283.4 811.4,1284.0 811.8,1287.4 812.2,1284.8 812.6,1284.7 812.9,1284.6 813.3,1286.2 813.7,1284.8 814.1,1284.4 814.5,1283.7 814.8,1285.3 815.2,1286.5 815.6,1285.2 816.0,1286.4 816.4,1285.5 816.7,1285.5 817.1,1285.5 817.5,1285.3 817.9,1286.4 818.3,1285.8 818.6,1284.5 819.0,1285.3 819.4,1285.1 819.8,1285.7 820.2,1285.3 820.5,1285.5 820.9,1283.4 821.3,1285.5 821.7,1286.5 822.1,1283.4 822.4,1286.8 822.8,1285.3 823.2,1284.7 823.6,1282.8 824.0,1286.1 824.3,1283.7 824.7,1284.2 825.1,1285.4 825.5,1283.6 825.9,1283.6 826.2,1283.4 826.6,1284.5 827.0,1285.3 827.4,1285.1 827.8,1285.1 828.1,1284.2 828.5,1284.7 828.9,1283.7 829.3,1286.8 829.7,1284.7 830.0,1282.2 830.4,1283.2 830.8,1286.2 831.2,1282.8 831.6,1283.8 831.9,1284.7 832.3,1282.9 832.7,1285.4 833.1,1286.0 833.5,1283.1 833.8,1285.3 834.2,1283.0 834.6,1282.8 835.0,1284.2 835.4,1284.1 835.7,1283.1 836.1,1284.7 836.5,1282.0 836.9,1282.7 837.3,1282.4 837.6,1284.4 838.0,1284.5 838.4,1284.3 838.8,1282.0 839.2,1283.6 839.5,1283.9 839.9,1281.5 840.3,1282.3 840.7,1284.0 841.1,1284.0 841.4,1283.4 841.8,1283.7 842.2,1283.4 842.6,1283.2 843.0,1282.9 843.3,1282.0 843.7,1282.6 844.1,1282.4 844.5,1285.5 844.9,1283.1 845.2,1282.8 845.6,1282.5 846.0,1282.6 846.4,1282.4 846.8,1283.3 847.1,1282.6 847.5,1283.6 847.9,1281.8 848.3,1283.0 848.7,1283.6 849.0,1281.2 849.4,1282.7 849.8,1282.8 850.2,1282.1 850.6,1281.9 850.9,1280.4 851.3,1283.8 851.7,1281.4 852.1,1281.0 852.5,1283.2 852.8,1280.3 853.2,1283.5 853.6,1282.9 854.0,1283.0 854.4,1282.1 854.7,1280.9 855.1,1280.2 855.5,1283.9 855.9,1281.7 856.3,1281.7 856.6,1284.0 857.0,1281.5 857.4,1281.9 857.8,1281.9 858.2,1282.0 858.5,1281.0 858.9,1281.5 859.3,1283.6 859.7,1283.0 860.1,1278.8 860.4,1279.9 860.8,1282.5 861.2,1282.0 861.6,1281.7 862.0,1283.3 862.3,1280.0 862.7,1283.4 863.1,1282.2 863.5,1282.7 863.9,1282.3 864.2,1283.0 864.6,1281.7 865.0,1281.4 865.4,1282.9 865.8,1282.2 866.1,1280.6 866.5,1283.5 866.9,1283.4 867.3,1283.6 867.7,1282.1 868.0,1282.4 868.4,1281.6 868.8,1280.9 869.2,1282.1 869.6,1282.2 869.9,1281.2 870.3,1284.1 870.7,1280.2 871.1,1281.1 871.5,1281.2 871.8,1283.5 872.2,1281.7 872.6,1281.6 873.0,1281.0 873.4,1281.1 873.7,1280.5 874.1,1283.2 874.5,1282.7 874.9,1283.1 875.3,1281.2 875.6,1284.9 876.0,1280.9 876.4,1279.7 876.8,1281.7 877.2,1282.2 877.5,1282.9 877.9,1280.8 878.3,1282.7 878.7,1283.9 879.1,1281.0 879.4,1281.2 879.8,1280.1 880.2,1282.3 880.6,1283.0 881.0,1282.9 881.3,1282.9 881.7,1283.6 882.1,1282.1 882.5,1283.0 882.9,1280.9 883.2,1281.0 883.6,1282.2 884.0,1280.9 884.4,1282.5 884.8,1283.4 885.1,1282.3 885.5,1280.9 885.9,1280.9 886.3,1283.2 886.7,1280.8 887.0,1281.7 887.4,1281.3 887.8,1281.6 888.2,1282.7 888.6,1280.8 888.9,1279.8 889.3,1283.0 889.7,1281.6 890.1,1282.1 890.5,1281.2 890.8,1282.1 891.2,1282.6 891.6,1282.6 892.0,1280.7 892.4,1280.6 892.7,1281.4 893.1,1281.1 893.5,1281.4 893.9,1279.9 894.3,1278.0 894.6,1281.0 895.0,1281.3 895.4,1281.0 895.8,1282.0 896.2,1281.0 896.5,1279.4 896.9,1280.8 897.3,1279.5 897.7,1280.8 898.1,1279.5 898.4,1279.6 898.8,1279.1 899.2,1278.7 899.6,1276.8 900.0,1278.3 900.3,1275.5 900.7,1278.4 901.1,1278.7 901.5,1279.7 901.9,1277.6 902.2,1276.1 902.6,1274.9 903.0,1278.7 903.4,1274.6 903.8,1277.0 904.1,1273.0 904.5,1275.3 904.9,1275.8 905.3,1275.0 905.7,1274.2 906.0,1272.9 906.4,1272.4 906.8,1274.2 907.2,1273.1 907.6,1272.0 907.9,1272.0 908.3,1270.3 908.7,1272.1 909.1,1271.9 909.5,1269.2 909.8,1269.7 910.2,1270.4 910.6,1268.1 911.0,1270.7 911.4,1269.7 911.7,1267.2 912.1,1268.2 912.5,1268.5 912.9,1264.7 913.3,1266.3 913.6,1264.9 914.0,1264.3 914.4,1264.7 914.8,1262.8 915.2,1261.0 915.5,1260.2 915.9,1261.0 916.3,1260.8 916.7,1259.2 917.1,1258.1 917.4,1257.2 917.8,1257.8 918.2,1256.0 918.6,1253.6 919.0,1253.1 919.3,1253.9 919.7,1250.9 920.1,1250.2 920.5,1249.6 920.9,1247.4 921.2,1248.6 921.6,1244.0 922.0,1247.0 922.4,1243.6 922.8,1241.4 923.1,1241.8 923.5,1238.0 923.9,1239.0 924.3,1237.7 924.7,1234.5 925.0,1233.0 925.4,1232.7 925.8,1229.0 926.2,1227.9 926.6,1226.2 926.9,1225.5 927.3,1221.2 927.7,1219.6 928.1,1218.5 928.5,1211.9 928.8,1212.3 929.2,1208.5 929.6,1207.2 930.0,1210.3 930.4,1207.2 930.7,1207.7 931.1,1205.0 931.5,1205.3 931.9,1203.7 932.3,1203.1 932.6,1203.1 933.0,1202.9 933.4,1204.2 933.8,1202.0 934.2,1202.5 934.5,1201.7 934.9,1202.4 935.3,1199.5 935.7,1204.7 936.1,1203.9 936.4,1205.6 936.8,1206.6 937.2,1209.2 937.6,1209.9 938.0,1210.6 938.3,1212.2 938.7,1214.1 939.1,1216.3 939.5,1217.9 939.9,1220.6 940.2,1222.8 940.6,1223.6 941.0,1223.3 941.4,1228.7 941.8,1231.2 942.1,1230.3 942.5,1232.2 942.9,1232.3 943.3,1237.4 943.7,1237.4 944.0,1242.6 944.4,1239.6 944.8,1244.3 945.2,1246.7 945.6,1247.1 945.9,1248.1 946.3,1250.8 946.7,1251.3 947.1,1252.9 947.5,1254.5 947.8,1255.2 948.2,1256.7 948.6,1259.0 949.0,1258.7 949.4,1260.3 949.7,1260.2 950.1,1263.0 950.5,1261.4 950.9,1264.8 951.3,1261.2 951.6,1264.4 952.0,1264.4 952.4,1268.1 952.8,1267.9 953.2,1266.8 953.5,1268.2 953.9,1270.9 954.3,1269.8 954.7,1270.9 955.1,1269.0 955.4,1269.4 955.8,1272.2 956.2,1274.5 956.6,1271.6 957.0,1273.2 957.3,1271.8 957.7,1274.6 958.1,1273.0 958.5,1273.3 958.9,1271.9 959.2,1273.8 959.6,1274.7 960.0,1276.2 960.4,1273.5 960.8,1276.2 961.1,1274.8 961.5,1275.1 961.9,1274.5 962.3,1273.8 962.7,1274.5 963.0,1277.9 963.4,1274.8 963.8,1275.8 964.2,1277.7 964.6,1274.2 964.9,1277.2 965.3,1276.3 965.7,1277.2 966.1,1278.1 966.5,1277.0 966.8,1277.1 967.2,1278.2 967.6,1278.2 968.0,1276.7 968.4,1277.3 968.7,1276.1 969.1,1279.1 969.5,1276.3 969.9,1277.9 970.3,1279.6 970.6,1278.5 971.0,1277.3 971.4,1276.8 971.8,1276.9 972.2,1278.6 972.5,1278.0 972.9,1277.6 973.3,1280.5 973.7,1276.6 974.1,1277.0 974.4,1277.1 974.8,1277.7 975.2,1277.8 975.6,1277.1 976.0,1278.2 976.3,1278.0 976.7,1277.0 977.1,1274.5 977.5,1278.2 977.9,1276.2 978.2,1276.5 978.6,1277.0 979.0,1275.7 979.4,1276.2 979.8,1277.1 980.1,1276.6 980.5,1277.3 980.9,1275.9 981.3,1276.6 981.7,1275.6 982.0,1276.4 982.4,1276.9 982.8,1276.2 983.2,1274.8 983.6,1276.1 983.9,1276.4 984.3,1277.4 984.7,1276.0 985.1,1275.4 985.5,1274.4 985.8,1277.9 986.2,1274.4 986.6,1274.1 987.0,1275.0 987.4,1273.0 987.7,1276.1 988.1,1275.0 988.5,1275.2 988.9,1273.4 989.3,1273.7 989.6,1275.1 990.0,1275.0 990.4,1277.0 990.8,1274.8 991.2,1271.2 991.5,1273.2 991.9,1272.4 992.3,1273.8 992.7,1272.2 993.1,1272.6 993.4,1271.4 993.8,1272.1 994.2,1272.7 994.6,1270.0 995.0,1268.1 995.3,1268.8 995.7,1271.4 996.1,1269.4 996.5,1268.3 996.9,1267.0 997.2,1268.7 997.6,1267.2 998.0,1266.0 998.4,1264.8 998.8,1264.4 999.1,1263.3 999.5,1263.3 999.9,1262.8 1000.3,1257.7 1000.7,1256.6 1001.0,1256.5 1001.4,1255.0 1001.8,1251.5 1002.2,1250.9 1002.6,1249.4 1002.9,1247.5 1003.3,1245.7 1003.7,1244.4 1004.1,1243.9 1004.5,1242.4 1004.8,1240.8 1005.2,1239.1 1005.6,1236.5 1006.0,1235.5 1006.4,1235.7 1006.7,1234.1 1007.1,1234.2 1007.5,1233.3 1007.9,1233.1 1008.3,1233.7 1008.6,1230.5 1009.0,1233.8 1009.4,1233.8 1009.8,1236.0 1010.2,1234.9 1010.5,1236.5 1010.9,1236.3 1011.3,1238.1 1011.7,1239.2 1012.1,1239.1 1012.4,1240.4 1012.8,1241.5 1013.2,1243.2 1013.6,1243.0 1014.0,1244.3 1014.3,1244.6 1014.7,1244.6 1015.1,1246.5 1015.5,1247.3 1015.9,1246.3 1016.2,1249.4 1016.6,1247.2 1017.0,1249.3 1017.4,1249.3 1017.8,1247.5 1018.1,1250.0 1018.5,1249.0 1018.9,1251.6 1019.3,1253.6 1019.7,1256.4 1020.0,1256.7 1020.4,1255.6 1020.8,1258.4 1021.2,1262.0 1021.6,1262.0 1021.9,1265.3 1022.3,1264.0 1022.7,1265.8 1023.1,1266.4 1023.5,1269.0 1023.8,1272.2 1024.2,1271.3 1024.6,1274.8 1025.0,1275.8 1025.4,1277.5 1025.7,1277.5 1026.1,1278.8 1026.5,1281.9 1026.9,1278.8 1027.3,1281.7 1027.6,1283.1 1028.0,1282.5 1028.4,1284.3 1028.8,1279.6 1029.2,1283.0 1029.5,1282.3 1029.9,1283.5 1030.3,1284.1 1030.7,1285.0 1031.1,1283.7 1031.4,1285.9 1031.8,1283.4 1032.2,1286.4 1032.6,1285.3 1033.0,1283.7 1033.3,1283.9 1033.7,1284.1 1034.1,1285.1 1034.5,1286.6 1034.9,1288.1 1035.2,1287.6 1035.6,1285.3 1036.0,1284.3 1036.4,1286.6 1036.8,1285.4 1037.1,1286.9 1037.5,1286.4 1037.9,1290.1 1038.3,1285.2 1038.7,1287.6 1039.0,1289.3 1039.4,1286.8 1039.8,1286.4 1040.2,1289.2 1040.6,1284.9 1040.9,1285.4 1041.3,1286.0 1041.7,1287.8 1042.1,1288.3 1042.5,1287.3 1042.8,1289.9 1043.2,1287.2 1043.6,1287.4 1044.0,1287.1 1044.4,1288.9 1044.7,1287.5 1045.1,1287.1 1045.5,1289.4 1045.9,1289.0 1046.3,1288.7 1046.6,1286.1 1047.0,1286.4 1047.4,1287.3 1047.8,1287.3 1048.2,1287.1 1048.5,1287.4 1048.9,1288.4 1049.3,1286.5 1049.7,1287.9 1050.1,1287.2 1050.4,1287.1 1050.8,1287.4 1051.2,1288.5 1051.6,1288.0 1052.0,1286.8 1052.3,1288.1 1052.7,1287.9 1053.1,1288.2 1053.5,1287.5 1053.9,1288.9 1054.2,1288.2 1054.6,1286.5 1055.0,1286.4 1055.4,1286.2 1055.8,1288.3 1056.1,1287.1 1056.5,1287.5 1056.9,1287.8 1057.3,1289.3 1057.7,1290.4 1058.0,1287.8 1058.4,1290.2 1058.8,1288.6 1059.2,1289.3 1059.6,1287.7 1059.9,1286.6 1060.3,1288.6 1060.7,1289.5 1061.1,1286.3 1061.5,1288.0 1061.8,1288.3 1062.2,1288.8 1062.6,1286.9 1063.0,1287.5 1063.4,1289.2 1063.7,1290.2 1064.1,1288.3 1064.5,1289.3 1064.9,1288.4 1065.3,1288.7 1065.6,1287.8 1066.0,1288.0 1066.4,1287.7 1066.8,1288.4 1067.2,1289.6 1067.5,1288.6 1067.9,1289.1 1068.3,1287.7 1068.7,1289.2 1069.1,1284.9 1069.4,1286.8 1069.8,1288.1 1070.2,1286.4 1070.6,1289.2 1071.0,1288.8 1071.3,1287.5 1071.7,1288.7 1072.1,1286.9 1072.5,1287.6 1072.9,1288.2 1073.2,1286.8 1073.6,1289.9 1074.0,1287.9 1074.4,1289.9 1074.8,1288.6 1075.1,1289.1 1075.5,1287.7 1075.9,1288.4 1076.3,1288.3 1076.7,1289.1 1077.0,1290.4 1077.4,1288.2 1077.8,1288.7 1078.2,1289.3 1078.6,1289.9 1078.9,1288.8 1079.3,1288.5 1079.7,1288.3 1080.1,1289.0 1080.5,1289.3 1080.8,1288.3 1081.2,1288.7 1081.6,1289.9 1082.0,1289.1 1082.4,1288.4 1082.7,1289.9 1083.1,1289.9 1083.5,1289.8 1083.9,1289.9 1084.3,1288.7 1084.6,1289.4 1085.0,1289.6 1085.4,1289.3 1085.8,1287.2 1086.2,1289.2 1086.5,1289.6 1086.9,1289.8 1087.3,1288.9 1087.7,1289.3 1088.1,1287.3 1088.4,1287.6 1088.8,1286.0 1089.2,1289.1 1089.6,1291.2 1090.0,1291.4 1090.3,1288.1 1090.7,1290.1 1091.1,1290.8 1091.5,1289.1 1091.9,1287.2 1092.2,1291.1 1092.6,1289.1 1093.0,1289.0 1093.4,1291.4 1093.8,1290.0 1094.1,1290.5 1094.5,1291.4 1094.9,1289.4 1095.3,1288.5 1095.7,1290.5 1096.0,1289.6 1096.4,1290.5 1096.8,1290.1 1097.2,1288.8 1097.6,1289.7 1097.9,1289.3 1098.3,1289.4 1098.7,1289.7 1099.1,1290.1 1099.5,1290.0 1099.8,1288.3 1100.2,1290.5 1100.6,1288.2 1101.0,1292.3 1101.4,1288.9 1101.7,1289.8 1102.1,1291.3 1102.5,1289.6 1102.9,1288.4 1103.3,1288.2 1103.6,1290.2 1104.0,1290.3 1104.4,1290.8 1104.8,1290.2 1105.2,1289.4 1105.5,1290.4 1105.9,1291.5 1106.3,1289.0 1106.7,1294.0 1107.1,1289.5 1107.4,1291.3 1107.8,1292.1 1108.2,1291.0 1108.6,1290.3 1109.0,1290.8 1109.3,1291.5 1109.7,1287.0 1110.1,1290.5 1110.5,1289.5 1110.9,1289.2 1111.2,1290.1 1111.6,1290.1 1112.0,1290.5 1112.4,1289.3 1112.8,1291.2 1113.1,1287.6 1113.5,1288.8 1113.9,1288.5 1114.3,1290.0 1114.7,1289.3 1115.0,1290.5 1115.4,1289.0 1115.8,1291.3 1116.2,1290.7 1116.6,1289.2 1116.9,1287.9 1117.3,1288.5 1117.7,1288.0 1118.1,1291.2 1118.5,1290.6 1118.8,1288.3 1119.2,1291.9 1119.6,1289.4 1120.0,1287.2 1120.4,1290.9 1120.7,1291.2 1121.1,1289.7 1121.5,1288.7 1121.9,1291.0 1122.3,1289.1 1122.6,1289.6 1123.0,1290.2 1123.4,1290.0 1123.8,1289.1 1124.2,1288.4 1124.5,1290.4 1124.9,1287.1 1125.3,1289.9 1125.7,1289.9 1126.1,1290.1 1126.4,1289.1 1126.8,1289.8 1127.2,1290.4 1127.6,1288.3 1128.0,1289.6 1128.3,1289.9 1128.7,1288.1 1129.1,1288.4 1129.5,1291.3 1129.9,1290.7 1130.2,1288.7 1130.6,1290.3 1131.0,1290.0 1131.4,1291.1 1131.8,1290.8 1132.1,1286.8 1132.5,1289.2 1132.9,1291.1 1133.3,1291.4 1133.7,1288.8 1134.0,1288.1 1134.4,1289.8 1134.8,1288.8 1135.2,1289.5 1135.6,1288.2 1135.9,1290.4 1136.3,1290.2 1136.7,1290.0 1137.1,1288.3 1137.5,1287.6 1137.8,1288.1 1138.2,1290.1 1138.6,1287.5 1139.0,1290.3 1139.4,1291.5 1139.7,1288.8 1140.1,1289.3 1140.5,1290.6 1140.9,1290.6 1141.3,1288.8 1141.6,1289.3 1142.0,1289.7 1142.4,1289.2 1142.8,1290.2 1143.2,1289.9 1143.5,1291.0 1143.9,1287.6 1144.3,1290.9 1144.7,1290.5 1145.1,1289.4 1145.4,1290.0 1145.8,1290.7 1146.2,1289.9 1146.6,1289.3 1147.0,1289.9 1147.3,1288.8 1147.7,1288.1 1148.1,1288.6 1148.5,1288.7 1148.9,1289.8 1149.2,1290.5 1149.6,1289.9 1150.0,1291.3 1150.4,1289.5 1150.8,1288.9 1151.1,1288.8 1151.5,1288.6 1151.9,1289.3 1152.3,1291.2 1152.7,1288.0 1153.0,1290.3 1153.4,1289.6 1153.8,1290.6 1154.2,1289.1 1154.6,1290.5 1154.9,1289.1 1155.3,1290.4 1155.7,1287.5 1156.1,1290.3 1156.5,1290.5 1156.8,1287.9 1157.2,1290.7 1157.6,1288.4 1158.0,1290.8 1158.4,1289.7 1158.7,1290.5 1159.1,1290.2 1159.5,1288.4 1159.9,1291.5 1160.3,1291.1 1160.6,1288.6 1161.0,1290.4 1161.4,1290.3 1161.8,1289.0 1162.2,1288.6 1162.5,1291.2 1162.9,1289.4 1163.3,1290.8 1163.7,1292.0 1164.1,1290.4 1164.4,1288.8 1164.8,1290.9 1165.2,1288.3 1165.6,1288.8 1166.0,1293.1 1166.3,1289.0 1166.7,1290.3 1167.1,1288.7 1167.5,1289.7 1167.9,1290.1 1168.2,1286.9 1168.6,1289.1 1169.0,1290.6 1169.4,1290.9 1169.8,1290.3 1170.1,1288.8 1170.5,1290.3 1170.9,1289.3 1171.3,1289.0 1171.7,1289.9 1172.0,1292.5 1172.4,1288.9 1172.8,1291.1 1173.2,1290.2 1173.6,1288.2 1173.9,1288.9 1174.3,1289.7 1174.7,1289.4 1175.1,1290.2 1175.5,1288.8 1175.8,1288.8 1176.2,1291.1 1176.6,1289.9 1177.0,1289.0 1177.4,1289.9 1177.7,1292.0 1178.1,1289.3 1178.5,1288.3 1178.9,1291.0 1179.3,1292.2 1179.6,1291.4 1180.0,1288.5 1180.4,1287.6 1180.8,1291.4 1181.2,1289.8 1181.5,1290.5 1181.9,1289.8 1182.3,1291.9 1182.7,1290.1 1183.1,1289.6 1183.4,1290.1 1183.8,1288.6 1184.2,1290.2 1184.6,1289.9 1185.0,1287.6 1185.3,1288.7 1185.7,1288.6 1186.1,1288.2 1186.5,1290.4 1186.9,1291.2 1187.2,1290.3 1187.6,1288.3 1188.0,1288.0 1188.4,1290.9 1188.8,1289.6 1189.1,1289.9 1189.5,1288.5 1189.9,1287.7 1190.3,1292.5 1190.7,1289.3 1191.0,1289.8 1191.4,1288.7 1191.8,1291.7 1192.2,1289.6 1192.6,1289.8 1192.9,1290.0 1193.3,1290.0 1193.7,1291.6 1194.1,1287.9 1194.5,1290.7 1194.8,1289.3 1195.2,1289.5 1195.6,1289.3 1196.0,1290.4 1196.4,1288.5 1196.7,1289.4 1197.1,1290.6 1197.5,1289.3 1197.9,1289.4 1198.3,1290.4 1198.6,1290.1 1199.0,1289.6 1199.4,1290.0 1199.8,1289.0 1200.2,1290.9 1200.5,1288.7 1200.9,1288.2 1201.3,1290.4 1201.7,1288.5 1202.1,1288.9 1202.4,1289.7 1202.8,1290.7 1203.2,1289.4 1203.6,1289.4 1204.0,1289.5 1204.3,1290.4 1204.7,1289.4 1205.1,1290.2 1205.5,1291.5 1205.9,1289.7 1206.2,1289.5 1206.6,1288.9 1207.0,1289.1 1207.4,1288.5 1207.8,1288.7 1208.1,1289.3 1208.5,1290.3 1208.9,1290.5 1209.3,1289.4 1209.7,1290.3 1210.0,1288.5 1210.4,1292.2 1210.8,1292.7 1211.2,1289.8 1211.6,1290.5 1211.9,1290.0 1212.3,1290.8 1212.7,1289.2 1213.1,1288.2 1213.5,1290.8 1213.8,1288.7 1214.2,1290.3 1214.6,1288.9 1215.0,1289.1 1215.4,1291.0 1215.7,1291.7 1216.1,1289.7 1216.5,1289.4 1216.9,1290.3 1217.3,1289.3 1217.6,1288.0 1218.0,1289.9 1218.4,1287.4 1218.8,1290.4 1219.2,1289.4 1219.5,1290.1 1219.9,1288.3 1220.3,1289.1 1220.7,1290.6 1221.1,1291.4 1221.4,1290.9 1221.8,1290.4 1222.2,1288.7 1222.6,1290.6 1223.0,1290.1 1223.3,1289.6 1223.7,1291.4 1224.1,1289.1 1224.5,1291.9 1224.9,1289.2 1225.2,1289.2 1225.6,1289.8 1226.0,1288.4 1226.4,1289.4 1226.8,1290.0 1227.1,1288.0 1227.5,1289.0 1227.9,1288.4 1228.3,1289.4 1228.7,1291.2 1229.0,1289.4 1229.4,1289.7 1229.8,1290.2 1230.2,1288.7 1230.6,1290.2 1230.9,1289.3 1231.3,1289.2 1231.7,1288.0 1232.1,1289.2 1232.5,1291.1 1232.8,1291.3 1233.2,1289.6 1233.6,1290.0 1234.0,1289.4 1234.4,1288.7 1234.7,1287.9 1235.1,1291.8 1235.5,1288.8 1235.9,1290.2 1236.3,1291.7 1236.6,1289.5 1237.0,1289.7 1237.4,1290.2 1237.8,1289.5 1238.2,1290.2 1238.5,1289.6 1238.9,1291.2 1239.3,1290.5 1239.7,1288.6 1240.1,1288.5 1240.4,1289.2 1240.8,1289.3 1241.2,1289.1 1241.6,1291.0 1242.0,1289.2 1242.3,1289.5 1242.7,1290.1 1243.1,1287.7 1243.5,1290.5 1243.9,1290.6 1244.2,1291.5 1244.6,1288.9 1245.0,1289.5 1245.4,1290.2 1245.8,1289.6 1246.1,1288.4 1246.5,1291.0 1246.9,1289.7 1247.3,1290.4 1247.7,1288.8 1248.0,1291.1 1248.4,1289.6 1248.8,1289.2 1249.2,1290.9 1249.6,1291.2 1249.9,1289.0 1250.3,1291.1 1250.7,1291.8 1251.1,1290.3 1251.5,1288.4 1251.8,1290.6 1252.2,1291.2 1252.6,1288.9 1253.0,1291.9 1253.4,1289.8 1253.7,1289.9 1254.1,1291.2 1254.5,1290.2 1254.9,1291.4 1255.3,1290.0 1255.6,1290.4 1256.0,1290.0 1256.4,1290.3 1256.8,1290.7 1257.2,1290.5 1257.5,1289.7 1257.9,1291.1 1258.3,1289.9 1258.7,1291.4 1259.1,1290.7 1259.4,1289.9 1259.8,1289.2 1260.2,1290.1 1260.6,1291.6 1261.0,1290.2 1261.3,1291.1 1261.7,1289.9 1262.1,1289.7 1262.5,1289.2 1262.9,1287.8 1263.2,1290.4 1263.6,1290.0 1264.0,1289.9 1264.4,1290.9 1264.8,1288.9 1265.1,1291.9 1265.5,1288.4 1265.9,1290.3 1266.3,1288.7 1266.7,1289.7 1267.0,1291.3 1267.4,1288.3 1267.8,1290.2 1268.2,1290.1 1268.6,1290.2 1268.9,1290.3 1269.3,1290.9 1269.7,1290.5 1270.1,1290.4 1270.5,1291.0 1270.8,1290.7 1271.2,1289.9 1271.6,1288.6 1272.0,1290.9 1272.4,1289.6 1272.7,1291.8 1273.1,1289.4 1273.5,1288.6 1273.9,1291.3 1274.3,1289.2 1274.6,1288.3 1275.0,1291.3 1275.4,1288.4 1275.8,1291.5 1276.2,1288.9 1276.5,1290.4 1276.9,1290.2 1277.3,1288.0 1277.7,1290.0 1278.1,1289.5 1278.4,1290.1 1278.8,1290.6 1279.2,1291.8 1279.6,1289.7 1280.0,1289.9 1280.3,1292.4 1280.7,1290.8 1281.1,1290.8 1281.5,1288.3 1281.9,1288.4 1282.2,1289.4 1282.6,1289.8 1283.0,1290.5 1283.4,1293.0 1283.8,1288.6 1284.1,1289.5 1284.5,1290.7 1284.9,1290.3 1285.3,1291.2 1285.7,1289.6 1286.0,1288.9 1286.4,1292.3 1286.8,1290.4 1287.2,1288.6 1287.6,1289.5 1287.9,1289.8 1288.3,1288.2 1288.7,1290.7 1289.1,1290.0 1289.5,1289.4 1289.8,1289.0 1290.2,1291.6 1290.6,1289.6 1291.0,1288.8 1291.4,1287.4 1291.7,1288.5 1292.1,1290.4 1292.5,1291.3 1292.9,1288.3 1293.3,1287.2 1293.6,1289.5 1294.0,1289.4 1294.4,1290.4 1294.8,1288.6 1295.2,1289.5 1295.5,1287.3 1295.9,1287.9 1296.3,1288.7 1296.7,1288.7 1297.1,1289.8 1297.4,1290.5 1297.8,1287.5 1298.2,1291.0 1298.6,1288.2 1299.0,1288.5 1299.3,1290.2 1299.7,1286.2 1300.1,1287.3 1300.5,1287.9 1300.9,1288.9 1301.2,1290.0 1301.6,1290.0 1302.0,1287.7 1302.4,1289.5 1302.8,1288.1 1303.1,1290.2 1303.5,1288.2 1303.9,1289.7 1304.3,1287.3 1304.7,1289.3 1305.0,1286.8 1305.4,1288.4 1305.8,1286.4 1306.2,1288.0 1306.6,1287.3 1306.9,1287.0 1307.3,1288.3 1307.7,1288.9 1308.1,1288.1 1308.5,1288.3 1308.8,1288.7 1309.2,1289.2 1309.6,1288.9 1310.0,1288.2 1310.4,1290.0 1310.7,1287.1 1311.1,1288.5 1311.5,1286.3 1311.9,1290.2 1312.3,1287.2 1312.6,1287.6 1313.0,1288.9 1313.4,1287.1 1313.8,1286.4 1314.2,1285.2 1314.5,1286.9 1314.9,1289.5 1315.3,1287.3 1315.7,1289.0 1316.1,1288.0 1316.4,1286.5 1316.8,1285.4 1317.2,1286.7 1317.6,1287.6 1318.0,1286.6 1318.3,1287.0 1318.7,1287.4 1319.1,1286.3 1319.5,1285.0 1319.9,1286.2 1320.2,1287.2 1320.6,1285.5 1321.0,1285.2 1321.4,1285.2 1321.8,1286.0 1322.1,1286.1 1322.5,1286.1 1322.9,1284.7 1323.3,1286.1 1323.7,1285.3 1324.0,1284.9 1324.4,1283.8 1324.8,1284.6 1325.2,1285.1 1325.6,1285.9 1325.9,1286.1 1326.3,1285.6 1326.7,1285.8 1327.1,1284.2 1327.5,1286.3 1327.8,1286.3 1328.2,1286.1 1328.6,1284.7 1329.0,1285.1 1329.4,1284.6 1329.7,1283.6 1330.1,1284.7 1330.5,1283.3 1330.9,1283.0 1331.3,1285.5 1331.6,1285.5 1332.0,1285.7 1332.4,1284.3 1332.8,1284.7 1333.2,1285.3 1333.5,1284.2 1333.9,1282.3 1334.3,1287.0 1334.7,1285.9 1335.1,1285.8 1335.4,1284.5 1335.8,1283.5 1336.2,1284.4 1336.6,1284.6 1337.0,1282.7 1337.3,1283.6 1337.7,1284.8 1338.1,1285.8 1338.5,1284.7 1338.9,1283.5 1339.2,1282.5 1339.6,1286.2 1340.0,1284.0 1340.4,1284.7 1340.8,1283.8 1341.1,1282.2 1341.5,1286.1 1341.9,1284.3 1342.3,1284.9 1342.7,1282.6 1343.0,1283.4 1343.4,1284.9 1343.8,1283.0 1344.2,1282.5 1344.6,1282.0 1344.9,1281.7 1345.3,1284.2 1345.7,1283.1 1346.1,1281.1 1346.5,1284.8 1346.8,1284.5 1347.2,1284.4 1347.6,1281.0 1348.0,1283.2 1348.4,1284.5 1348.7,1281.9 1349.1,1282.1 1349.5,1282.7 1349.9,1280.7 1350.3,1283.2 1350.6,1284.1 1351.0,1283.8 1351.4,1284.7 1351.8,1283.1 1352.2,1283.0 1352.5,1282.9 1352.9,1282.3 1353.3,1281.9 1353.7,1282.3 1354.1,1283.1 1354.4,1282.6 1354.8,1283.4 1355.2,1283.4 1355.6,1284.0 1356.0,1282.8 1356.3,1281.1 1356.7,1282.4 1357.1,1285.6 1357.5,1284.4 1357.9,1283.1 1358.2,1283.4 1358.6,1283.6 1359.0,1283.2 1359.4,1284.0 1359.8,1284.6 1360.1,1285.2 1360.5,1283.5 1360.9,1283.7 1361.3,1283.7 1361.7,1284.1 1362.0,1285.3 1362.4,1283.3 1362.8,1286.7 1363.2,1284.9 1363.6,1285.6 1363.9,1283.4 1364.3,1284.0 1364.7,1283.9 1365.1,1284.6 1365.5,1282.3 1365.8,1285.2 1366.2,1282.8 1366.6,1285.1 1367.0,1285.9 1367.4,1284.7 1367.7,1284.7 1368.1,1284.7 1368.5,1284.7 1368.9,1285.3 1369.3,1286.1 1369.6,1285.9 1370.0,1286.9 1370.4,1285.4 1370.8,1284.8 1371.2,1284.9 1371.5,1284.1 1371.9,1285.1 1372.3,1285.0 1372.7,1287.7 1373.1,1286.4 1373.4,1287.8 1373.8,1283.8 1374.2,1286.3 1374.6,1287.2 1375.0,1286.4 1375.3,1285.6 1375.7,1286.4 1376.1,1286.4 1376.5,1286.5 1376.9,1286.7 1377.2,1287.5 1377.6,1286.7 1378.0,1286.8 1378.4,1286.6 1378.8,1287.1 1379.1,1285.8 1379.5,1287.3 1379.9,1286.3 1380.3,1287.7 1380.7,1286.1 1381.0,1286.7 1381.4,1286.6 1381.8,1285.7 1382.2,1288.0 1382.6,1287.2 1382.9,1286.9 1383.3,1288.2 1383.7,1286.5 1384.1,1286.8 1384.5,1288.1 1384.8,1289.5 1385.2,1286.9 1385.6,1288.6 1386.0,1287.0 1386.4,1285.9 1386.7,1287.4 1387.1,1288.2 1387.5,1287.0 1387.9,1287.3 1388.3,1285.6 1388.6,1284.3 1389.0,1287.1 1389.4,1285.2 1389.8,1286.7 1390.2,1286.0 1390.5,1286.9 1390.9,1287.7 1391.3,1284.8 1391.7,1286.5 1392.1,1286.5 1392.4,1288.1 1392.8,1286.7 1393.2,1285.7 1393.6,1286.0 1394.0,1288.6 1394.3,1285.6 1394.7,1286.6 1395.1,1286.9 1395.5,1285.3 1395.9,1285.7 1396.2,1284.4 1396.6,1285.6 1397.0,1287.3 1397.4,1286.8 1397.8,1284.4 1398.1,1288.1 1398.5,1285.1 1398.9,1285.5 1399.3,1288.3 1399.7,1287.0 1400.0,1286.4 1400.4,1288.1 1400.8,1286.4 1401.2,1286.8 1401.6,1285.8 1401.9,1286.3 1402.3,1286.3 1402.7,1287.6 1403.1,1285.6 1403.5,1286.0 1403.8,1283.8 1404.2,1284.3 1404.6,1286.9 1405.0,1285.6 1405.4,1285.6 1405.7,1286.6 1406.1,1285.5 1406.5,1285.9 1406.9,1285.5 1407.3,1283.5 1407.6,1286.3 1408.0,1287.2 1408.4,1286.8 1408.8,1285.5 1409.2,1285.7 1409.5,1285.7 1409.9,1286.9 1410.3,1286.5 1410.7,1284.7 1411.1,1284.9 1411.4,1284.8 1411.8,1284.3 1412.2,1284.2 1412.6,1284.6 1413.0,1282.0 1413.3,1285.1 1413.7,1284.1 1414.1,1283.2 1414.5,1284.3 1414.9,1283.6 1415.2,1285.7 1415.6,1283.1 1416.0,1284.4 1416.4,1284.6 1416.8,1283.3 1417.1,1282.8 1417.5,1284.5 1417.9,1283.6 1418.3,1282.9 1418.7,1282.3 1419.0,1284.5 1419.4,1285.5 1419.8,1283.2 1420.2,1284.3 1420.6,1284.8 1420.9,1284.7 1421.3,1282.9 1421.7,1284.1 1422.1,1284.2 1422.5,1286.2 1422.8,1283.6 1423.2,1284.5 1423.6,1284.2 1424.0,1284.0 1424.4,1282.2 1424.7,1283.6 1425.1,1284.9 1425.5,1282.8 1425.9,1283.5 1426.3,1282.4 1426.6,1283.5 1427.0,1283.6 1427.4,1284.0 1427.8,1282.8 1428.2,1282.8 1428.5,1282.6 1428.9,1283.6 1429.3,1283.5 1429.7,1285.8 1430.1,1282.7 1430.4,1284.2 1430.8,1282.9 1431.2,1283.0 1431.6,1284.8 1432.0,1284.1 1432.3,1284.3 1432.7,1282.3 1433.1,1286.6 1433.5,1286.1 1433.9,1283.2 1434.2,1282.6 1434.6,1283.3 1435.0,1284.4 1435.4,1283.2 1435.8,1284.6 1436.1,1283.7 1436.5,1287.4 1436.9,1284.2 1437.3,1284.1 1437.7,1286.8 1438.0,1285.1 1438.4,1284.8 1438.8,1284.9 1439.2,1285.6 1439.6,1284.6 1439.9,1285.3 1440.3,1284.7 1440.7,1284.0 1441.1,1285.2 1441.5,1285.8 1441.8,1287.5 1442.2,1286.1 1442.6,1285.6 1443.0,1286.2 1443.4,1286.8 1443.7,1283.9 1444.1,1286.0 1444.5,1284.2 1444.9,1284.7 1445.3,1285.9 1445.6,1286.7 1446.0,1286.9 1446.4,1287.1 1446.8,1288.4 1447.2,1287.6 1447.5,1287.6 1447.9,1286.9 1448.3,1289.4 1448.7,1288.8 1449.1,1286.8 1449.4,1286.9 1449.8,1288.4 1450.2,1288.7 1450.6,1287.3 1451.0,1288.9 1451.3,1286.5 1451.7,1287.7 1452.1,1289.0 1452.5,1287.4 1452.9,1288.2 1453.2,1288.1 1453.6,1287.9 1454.0,1286.2 1454.4,1287.9 1454.8,1288.5 1455.1,1288.6 1455.5,1289.2 1455.9,1289.5 1456.3,1288.1 1456.7,1288.3 1457.0,1290.4 1457.4,1289.6 1457.8,1288.7 1458.2,1288.5 1458.6,1290.0 1458.9,1290.0 1459.3,1288.8 1459.7,1289.4 1460.1,1289.0 1460.5,1289.0 1460.8,1291.1 1461.2,1287.7 1461.6,1290.0 1462.0,1288.0 1462.4,1288.5 1462.7,1290.2 1463.1,1287.9 1463.5,1288.3 1463.9,1288.1 1464.3,1288.7 1464.6,1289.7 1465.0,1290.7 1465.4,1288.8 1465.8,1290.5 1466.2,1288.2 1466.5,1291.8 1466.9,1289.1 1467.3,1289.1 1467.7,1289.9 1468.1,1289.7 1468.4,1289.5 1468.8,1287.8 1469.2,1290.6 1469.6,1290.5 1470.0,1289.3 1470.3,1288.5 1470.7,1290.0 1471.1,1291.0 1471.5,1287.9 1471.9,1288.6 1472.2,1289.9 1472.6,1289.0 1473.0,1289.5 1473.4,1289.8 1473.8,1290.8 1474.1,1290.8 1474.5,1291.0 1474.9,1291.0 1475.3,1289.3 1475.7,1287.4 1476.0,1290.4 1476.4,1290.5 1476.8,1290.6 1477.2,1289.4 1477.6,1292.2 1477.9,1288.3 1478.3,1291.0 1478.7,1290.8 1479.1,1291.2 1479.5,1291.7 1479.8,1290.8 1480.2,1290.6 1480.6,1289.9 1481.0,1291.1 1481.4,1290.7 1481.7,1291.2 1482.1,1289.1 1482.5,1288.7 1482.9,1290.4 1483.3,1290.9 1483.6,1288.7 1484.0,1289.3 1484.4,1290.0 1484.8,1290.7 1485.2,1290.8 1485.5,1291.5 1485.9,1290.3 1486.3,1291.0 1486.7,1291.9 1487.1,1290.2 1487.4,1293.0 1487.8,1290.2 1488.2,1290.7 1488.6,1288.5 1489.0,1290.5 1489.3,1290.0 1489.7,1289.9 1490.1,1291.0 1490.5,1289.5 1490.9,1290.9 1491.2,1288.5 1491.6,1290.2 1492.0,1292.2 1492.4,1290.9 1492.8,1291.4 1493.1,1289.8 1493.5,1289.4 1493.9,1292.3 1494.3,1291.9 1494.7,1291.7 1495.0,1290.8 1495.4,1292.1 1495.8,1290.4 1496.2,1291.6 1496.6,1291.6 1496.9,1289.9 1497.3,1292.4 1497.7,1291.1 1498.1,1291.8 1498.5,1289.3 1498.8,1289.7 1499.2,1290.5 1499.6,1291.5 1500.0,1292.3 1500.4,1291.4 1500.7,1290.9 1501.1,1291.7 1501.5,1290.8 1501.9,1291.3 1502.3,1291.5 1502.6,1290.4 1503.0,1291.6 1503.4,1289.6 1503.8,1290.3 1504.2,1291.9 1504.5,1290.5 1504.9,1291.7 1505.3,1291.5 1505.7,1291.0 1506.1,1292.9 1506.4,1291.8 1506.8,1290.6 1507.2,1290.7 1507.6,1291.4 1508.0,1289.7 1508.3,1292.6 1508.7,1291.3 1509.1,1289.5 1509.5,1290.3 1509.9,1292.9 1510.2,1291.7 1510.6,1293.8 1511.0,1291.5 1511.4,1292.0 1511.8,1293.6 1512.1,1293.8 1512.5,1290.5 1512.9,1292.5 1513.3,1290.4 1513.7,1291.0 1514.0,1289.7 1514.4,1292.2 1514.8,1290.5 1515.2,1290.8 1515.6,1293.7 1515.9,1292.6 1516.3,1291.5 1516.7,1289.7 1517.1,1292.0 1517.5,1289.2 1517.8,1290.7 1518.2,1292.4 1518.6,1292.6 1519.0,1291.9 1519.4,1292.7 1519.7,1292.0 1520.1,1291.0 1520.5,1291.8 1520.9,1293.7 1521.3,1291.8 1521.6,1292.2 1522.0,1292.5 1522.4,1290.4 1522.8,1290.8 1523.2,1290.2 1523.5,1292.3 1523.9,1291.5 1524.3,1290.6 1524.7,1290.6 1525.1,1292.8 1525.4,1292.9 1525.8,1292.4 1526.2,1292.0 1526.6,1292.6 1527.0,1292.0 1527.3,1292.4 1527.7,1291.6 1528.1,1290.9 1528.5,1291.3 1528.9,1292.4 1529.2,1293.9 1529.6,1291.2 1530.0,1290.9 1530.4,1292.9 1530.8,1292.9 1531.1,1291.3 1531.5,1291.5 1531.9,1291.5 1532.3,1292.5 1532.7,1295.5 1533.0,1291.4 1533.4,1292.5 1533.8,1291.6 1534.2,1292.3 1534.6,1292.6 1534.9,1292.5 1535.3,1291.1 1535.7,1291.1 1536.1,1293.2 1536.5,1292.5 1536.8,1292.4 1537.2,1292.8 1537.6,1291.4 1538.0,1293.5 1538.4,1291.3 1538.7,1291.0 1539.1,1291.1 1539.5,1292.1 1539.9,1295.1 1540.3,1292.2 1540.6,1292.5 1541.0,1293.9 1541.4,1291.8 1541.8,1290.7 1542.2,1291.5 1542.5,1291.8 1542.9,1290.4 1543.3,1291.9 1543.7,1292.3 1544.1,1294.4 1544.4,1293.0 1544.8,1292.3 1545.2,1291.6 1545.6,1291.4 1546.0,1290.2 1546.3,1292.0 1546.7,1289.7 1547.1,1292.0 1547.5,1294.0 1547.9,1291.7 1548.2,1292.6 1548.6,1291.2 1549.0,1290.1 1549.4,1292.4 1549.8,1291.9 1550.1,1292.7 1550.5,1292.3 1550.9,1292.8 1551.3,1291.7 1551.7,1292.8 1552.0,1293.3 1552.4,1291.6 1552.8,1291.8 1553.2,1293.3 1553.6,1292.7 1553.9,1292.0 1554.3,1290.5 1554.7,1291.9 1555.1,1293.8 1555.5,1291.7 1555.8,1292.0 1556.2,1291.2 1556.6,1292.1 1557.0,1292.2 1557.4,1292.5 1557.7,1291.5 1558.1,1291.0 1558.5,1294.5 1558.9,1292.4 1559.3,1291.3 1559.6,1292.0 1560.0,1292.7 1560.4,1293.4 1560.8,1292.6 1561.2,1291.9 1561.5,1292.8 1561.9,1290.7 1562.3,1291.2 1562.7,1293.6 1563.1,1292.5 1563.4,1292.2 1563.8,1291.6 1564.2,1291.0 1564.6,1292.5 1565.0,1292.3 1565.3,1294.1 1565.7,1291.3 1566.1,1292.3 1566.5,1291.9 1566.9,1291.3 1567.2,1294.2 1567.6,1293.7 1568.0,1292.4 1568.4,1290.7 1568.8,1292.6 1569.1,1292.8 1569.5,1291.6 1569.9,1290.5 1570.3,1294.2 1570.7,1290.8 1571.0,1293.4 1571.4,1291.5 1571.8,1291.8 1572.2,1293.3 1572.6,1291.0 1572.9,1291.9 1573.3,1292.2 1573.7,1293.5 1574.1,1293.3 1574.5,1292.4 1574.8,1290.9 1575.2,1293.6 1575.6,1291.8 1576.0,1292.6 1576.4,1290.3 1576.7,1292.1 1577.1,1292.8 1577.5,1291.9 1577.9,1292.9 1578.3,1293.7 1578.6,1294.0 1579.0,1291.7 1579.4,1290.6 1579.8,1289.6 1580.2,1291.9 1580.5,1290.5 1580.9,1292.8 1581.3,1290.0 1581.7,1293.4 1582.1,1292.3 1582.4,1290.5 1582.8,1292.6 1583.2,1292.9 1583.6,1292.9 1584.0,1292.2 1584.3,1292.9 1584.7,1292.8 1585.1,1291.9 1585.5,1292.3 1585.9,1290.8 1586.2,1293.1 1586.6,1290.8 1587.0,1292.0 1587.4,1291.0 1587.8,1293.3 1588.1,1292.4 1588.5,1291.1 1588.9,1292.5 1589.3,1292.0 1589.7,1292.9 1590.0,1292.3 1590.4,1292.2 1590.8,1292.0 1591.2,1290.4 1591.6,1292.7 1591.9,1293.0 1592.3,1291.2 1592.7,1292.8 1593.1,1293.5 1593.5,1293.2 1593.8,1293.6 1594.2,1293.2 1594.6,1291.8 1595.0,1294.6 1595.4,1292.4 1595.7,1291.7 1596.1,1293.9 1596.5,1291.6 1596.9,1293.3 1597.3,1291.5 1597.6,1293.6 1598.0,1293.8 1598.4,1291.9 1598.8,1293.0 1599.2,1293.1 1599.5,1292.3 1599.9,1292.9 1600.3,1292.3 1600.7,1291.7 1601.1,1291.3 1601.4,1292.7 1601.8,1293.0 1602.2,1293.3 1602.6,1292.9 1603.0,1293.2 1603.3,1292.0 1603.7,1294.3 1604.1,1291.5 1604.5,1293.3 1604.9,1292.3 1605.2,1292.1 1605.6,1294.7 1606.0,1293.0 1606.4,1291.2 1606.8,1292.9 1607.1,1292.0 1607.5,1294.5 1607.9,1291.6 1608.3,1292.6 1608.7,1291.9 1609.0,1291.9 1609.4,1293.3 1609.8,1293.7 1610.2,1293.8 1610.6,1292.4 1610.9,1291.9 1611.3,1293.1 1611.7,1292.1 1612.1,1294.2 1612.5,1291.0 1612.8,1293.0 1613.2,1291.2 1613.6,1291.4 1614.0,1290.8 1614.4,1291.1 1614.7,1293.0 1615.1,1291.7 1615.5,1291.3 1615.9,1291.1 1616.3,1291.4 1616.6,1292.0 1617.0,1293.4 1617.4,1292.5 1617.8,1292.4 1618.2,1292.3 1618.5,1293.2 1618.9,1291.4 1619.3,1292.8 1619.7,1291.2 1620.1,1291.3 1620.4,1293.1 1620.8,1292.5 1621.2,1292.2 1621.6,1291.4 1622.0,1292.9 1622.3,1294.8 1622.7,1293.0 1623.1,1293.0 1623.5,1292.3 1623.9,1293.7 1624.2,1292.0 1624.6,1295.6 1625.0,1292.7 1625.4,1292.5 1625.8,1293.8 1626.1,1291.3 1626.5,1291.7 1626.9,1291.7 1627.3,1292.2 1627.7,1294.4 1628.0,1291.5 1628.4,1295.1 1628.8,1293.5 1629.2,1294.2 1629.6,1292.7 1629.9,1290.8 1630.3,1291.2 1630.7,1293.9 1631.1,1292.1 1631.5,1292.9 1631.8,1292.8 1632.2,1294.1 1632.6,1293.9 1633.0,1292.9 1633.4,1292.6 1633.7,1293.6 1634.1,1291.4 1634.5,1291.8 1634.9,1291.1 1635.3,1291.5 1635.6,1290.9 1636.0,1293.5 1636.4,1292.3 1636.8,1294.5 1637.2,1292.2 1637.5,1292.8 1637.9,1292.0 1638.3,1293.3 1638.7,1293.2 1639.1,1292.2 1639.4,1292.9 1639.8,1291.7 1640.2,1291.9 1640.6,1291.4 1641.0,1293.5 1641.3,1291.5 1641.7,1291.3 1642.1,1293.6 1642.5,1292.4 1642.9,1291.0 1643.2,1291.3 1643.6,1291.8 1644.0,1291.3 1644.4,1292.4 1644.8,1291.2 1645.1,1291.2 1645.5,1293.3 1645.9,1294.3 1646.3,1293.9 1646.7,1292.0 1647.0,1293.0 1647.4,1292.3 1647.8,1294.4 1648.2,1292.8 1648.6,1293.0 1648.9,1294.5 1649.3,1293.8 1649.7,1292.6 1650.1,1291.4 1650.5,1292.1 1650.8,1291.0 1651.2,1294.3 1651.6,1292.3 1652.0,1293.3 1652.4,1292.7 1652.7,1291.7 1653.1,1292.8 1653.5,1292.9 1653.9,1292.5 1654.3,1292.5 1654.6,1292.9 1655.0,1291.5 1655.4,1292.4 1655.8,1292.1 1656.2,1291.7 1656.5,1292.7 1656.9,1290.2 1657.3,1291.1 1657.7,1292.3 1658.1,1294.2 1658.4,1293.2 1658.8,1291.8 1659.2,1294.1 1659.6,1292.7 1660.0,1291.9 1660.3,1292.5 1660.7,1294.2 1661.1,1293.5 1661.5,1291.8 1661.9,1291.5 1662.2,1293.3 1662.6,1291.4 1663.0,1292.1 1663.4,1293.4 1663.8,1291.5 1664.1,1291.8 1664.5,1292.9 1664.9,1292.4 1665.3,1294.1 1665.7,1292.7 1666.0,1293.3 1666.4,1293.4 1666.8,1292.1 1667.2,1293.6 1667.6,1294.1 1667.9,1292.5 1668.3,1292.1 1668.7,1292.4 1669.1,1294.2 1669.5,1292.7 1669.8,1292.2 1670.2,1291.4 1670.6,1292.7 1671.0,1291.3 1671.4,1293.7 1671.7,1291.9 1672.1,1291.4 1672.5,1293.8 1672.9,1293.1 1673.3,1293.3 1673.6,1291.8 1674.0,1293.6 1674.4,1293.1 1674.8,1293.0 1675.2,1293.7 1675.5,1293.9 1675.9,1292.7 1676.3,1294.5 1676.7,1293.4 1677.1,1292.7 1677.4,1293.5 1677.8,1293.1 1678.2,1294.5 1678.6,1293.1 1679.0,1292.7 1679.3,1292.9 1679.7,1293.7 1680.1,1291.2 1680.5,1291.5 1680.9,1292.6 1681.2,1293.4 1681.6,1293.5 1682.0,1292.5 1682.4,1291.2 1682.8,1290.6 1683.1,1292.7 1683.5,1292.4 1683.9,1293.2 1684.3,1293.9 1684.7,1291.9 1685.0,1294.3 1685.4,1292.4 1685.8,1292.7 1686.2,1293.0 1686.6,1290.8 1686.9,1295.4 1687.3,1292.5 1687.7,1294.1 1688.1,1292.2 1688.5,1291.2 1688.8,1291.7 1689.2,1291.7 1689.6,1290.8 1690.0,1290.2 1690.4,1293.7 1690.7,1292.1 1691.1,1293.0 1691.5,1294.2 1691.9,1292.3 1692.3,1292.9 1692.6,1294.0 1693.0,1293.3 1693.4,1293.1 1693.8,1291.9 1694.2,1291.9 1694.5,1293.7 1694.9,1292.6 1695.3,1293.9 1695.7,1293.7 1696.1,1293.4 1696.4,1293.7 1696.8,1293.2 1697.2,1294.2 1697.6,1290.7 1698.0,1292.2 1698.3,1293.3 1698.7,1294.7 1699.1,1291.2 1699.5,1292.4 1699.9,1293.4 1700.2,1294.3 1700.6,1292.5 1701.0,1290.8 1701.4,1293.3 1701.8,1293.8 1702.1,1293.5 1702.5,1293.5 1702.9,1293.6 1703.3,1292.2 1703.7,1293.6 1704.0,1293.9 1704.4,1293.0 1704.8,1292.1 1705.2,1292.4 1705.6,1293.7 1705.9,1292.3 1706.3,1294.4 1706.7,1293.2 1707.1,1292.8 1707.5,1293.9 1707.8,1293.0 1708.2,1295.3 1708.6,1294.5 1709.0,1292.2 1709.4,1292.6 1709.7,1290.9 1710.1,1293.9 1710.5,1293.5 1710.9,1293.2 1711.3,1291.5 1711.6,1294.7 1712.0,1294.4 1712.4,1292.6 1712.8,1292.4 1713.2,1292.5 1713.5,1293.9 1713.9,1293.4 1714.3,1292.9 1714.7,1292.7 1715.1,1291.6 1715.4,1292.4 1715.8,1291.2 1716.2,1294.1 1716.6,1292.9 1717.0,1293.0 1717.3,1292.5 1717.7,1291.9 1718.1,1290.8 1718.5,1292.1 1718.9,1292.4 1719.2,1292.5 1719.6,1293.9 1720.0,1294.0 1720.4,1291.9 1720.8,1292.0 1721.1,1294.1 1721.5,1290.6 1721.9,1292.7 1722.3,1293.8 1722.7,1293.2 1723.0,1292.5 1723.4,1293.7 1723.8,1292.4 1724.2,1292.1 1724.6,1293.3 1724.9,1292.9 1725.3,1293.7 1725.7,1294.3 1726.1,1294.5 1726.5,1290.5 1726.8,1293.4 1727.2,1293.7 1727.6,1294.0 1728.0,1292.7 1728.4,1292.7 1728.7,1293.5 1729.1,1292.2 1729.5,1291.3 1729.9,1293.8 1730.3,1293.8 1730.6,1291.8 1731.0,1294.2 1731.4,1292.1 1731.8,1293.5 1732.2,1291.7 1732.5,1293.1 1732.9,1292.3 1733.3,1292.5 1733.7,1293.4 1734.1,1293.7 1734.4,1292.0 1734.8,1294.7 1735.2,1292.1 1735.6,1291.4 1736.0,1292.7 1736.3,1295.1 1736.7,1292.5 1737.1,1291.6 1737.5,1292.3 1737.9,1293.4 1738.2,1293.7 1738.6,1293.6 1739.0,1294.2 1739.4,1295.3 1739.8,1293.2 1740.1,1293.6 1740.5,1293.1 1740.9,1293.5 1741.3,1294.4 1741.7,1293.5 1742.0,1292.1 1742.4,1294.1 1742.8,1294.8 1743.2,1293.4 1743.6,1295.2 1743.9,1294.3 1744.3,1291.6 1744.7,1292.7 1745.1,1291.9 1745.5,1292.6 1745.8,1292.2 1746.2,1293.3 1746.6,1293.8 1747.0,1291.0 1747.4,1294.0 1747.7,1293.0 1748.1,1294.2 1748.5,1292.8 1748.9,1290.7 1749.3,1293.0 1749.6,1293.5 1750.0,1293.6 1750.4,1293.0 1750.8,1292.0 1751.2,1292.1 1751.5,1292.2 1751.9,1292.0 1752.3,1293.2 1752.7,1293.5 1753.1,1294.0 1753.4,1293.5 1753.8,1293.0 1754.2,1293.8 1754.6,1293.1 1755.0,1292.1 1755.3,1294.1"/>
<text class="t" text-anchor="end" transform="translate(337,1334.1) scale(1,1.022)">0</text>
<text class="t" text-anchor="end" transform="translate(337,1176.8) scale(1,1.022)">20</text>
<text class="t" text-anchor="end" transform="translate(337,1019.6) scale(1,1.022)">40</text>
<text class="t" text-anchor="end" transform="translate(337,862.3) scale(1,1.022)">60</text>
<text class="t" text-anchor="end" transform="translate(337,705.1) scale(1,1.022)">80</text>
<text class="t" text-anchor="end" transform="translate(337,547.8) scale(1,1.022)">100</text>
<text class="t" text-anchor="end" transform="translate(337,390.5) scale(1,1.022)">120</text>
<text class="t" text-anchor="end" transform="translate(337,233.3) scale(1,1.022)">140</text>
<text class="t" text-anchor="end" transform="translate(337,76.0) scale(1,1.022)">160</text>
<text class="t" text-anchor="middle" transform="translate(517.0,1396.3) scale(1,1.022)">0</text>
<text class="t" text-anchor="middle" transform="translate(826.4,1396.3) scale(1,1.022)">1000</text>
<text class="t" text-anchor="middle" transform="translate(1135.7,1396.3) scale(1,1.022)">2000</text>
<text class="t" text-anchor="middle" transform="translate(1445.1,1396.3) scale(1,1.022)">3000</text>
<text class="t" text-anchor="middle" transform="translate(1754.4,1396.3) scale(1,1.022)">4000</text>
<text class="s" font-size="81" word-spacing="-0.8" x="833.5" y="1534">Raman shift (cm<tspan font-size="46" x="1370.5" y="1495">-1</tspan><tspan x="1409.6" y="1534">)</tspan></text>
<text class="s" font-size="81" transform="translate(107.2,975.5) rotate(-90)">Intensity (a.u.)</text>
<text class="s" font-size="75.5" x="906.4" y="222">D</text>
<text class="s" font-size="75.5" x="993.4" y="182.3">G</text>
<text class="s" font-size="76" x="1334.2" y="908">GO</text>
<text class="s" font-size="75" x="1332.8" y="1124.6">rGO</text>
<text class="s" font-size="74.5" x="1274.3" y="1264">rGO/Fe/Ni</text>
</svg></body></html>
